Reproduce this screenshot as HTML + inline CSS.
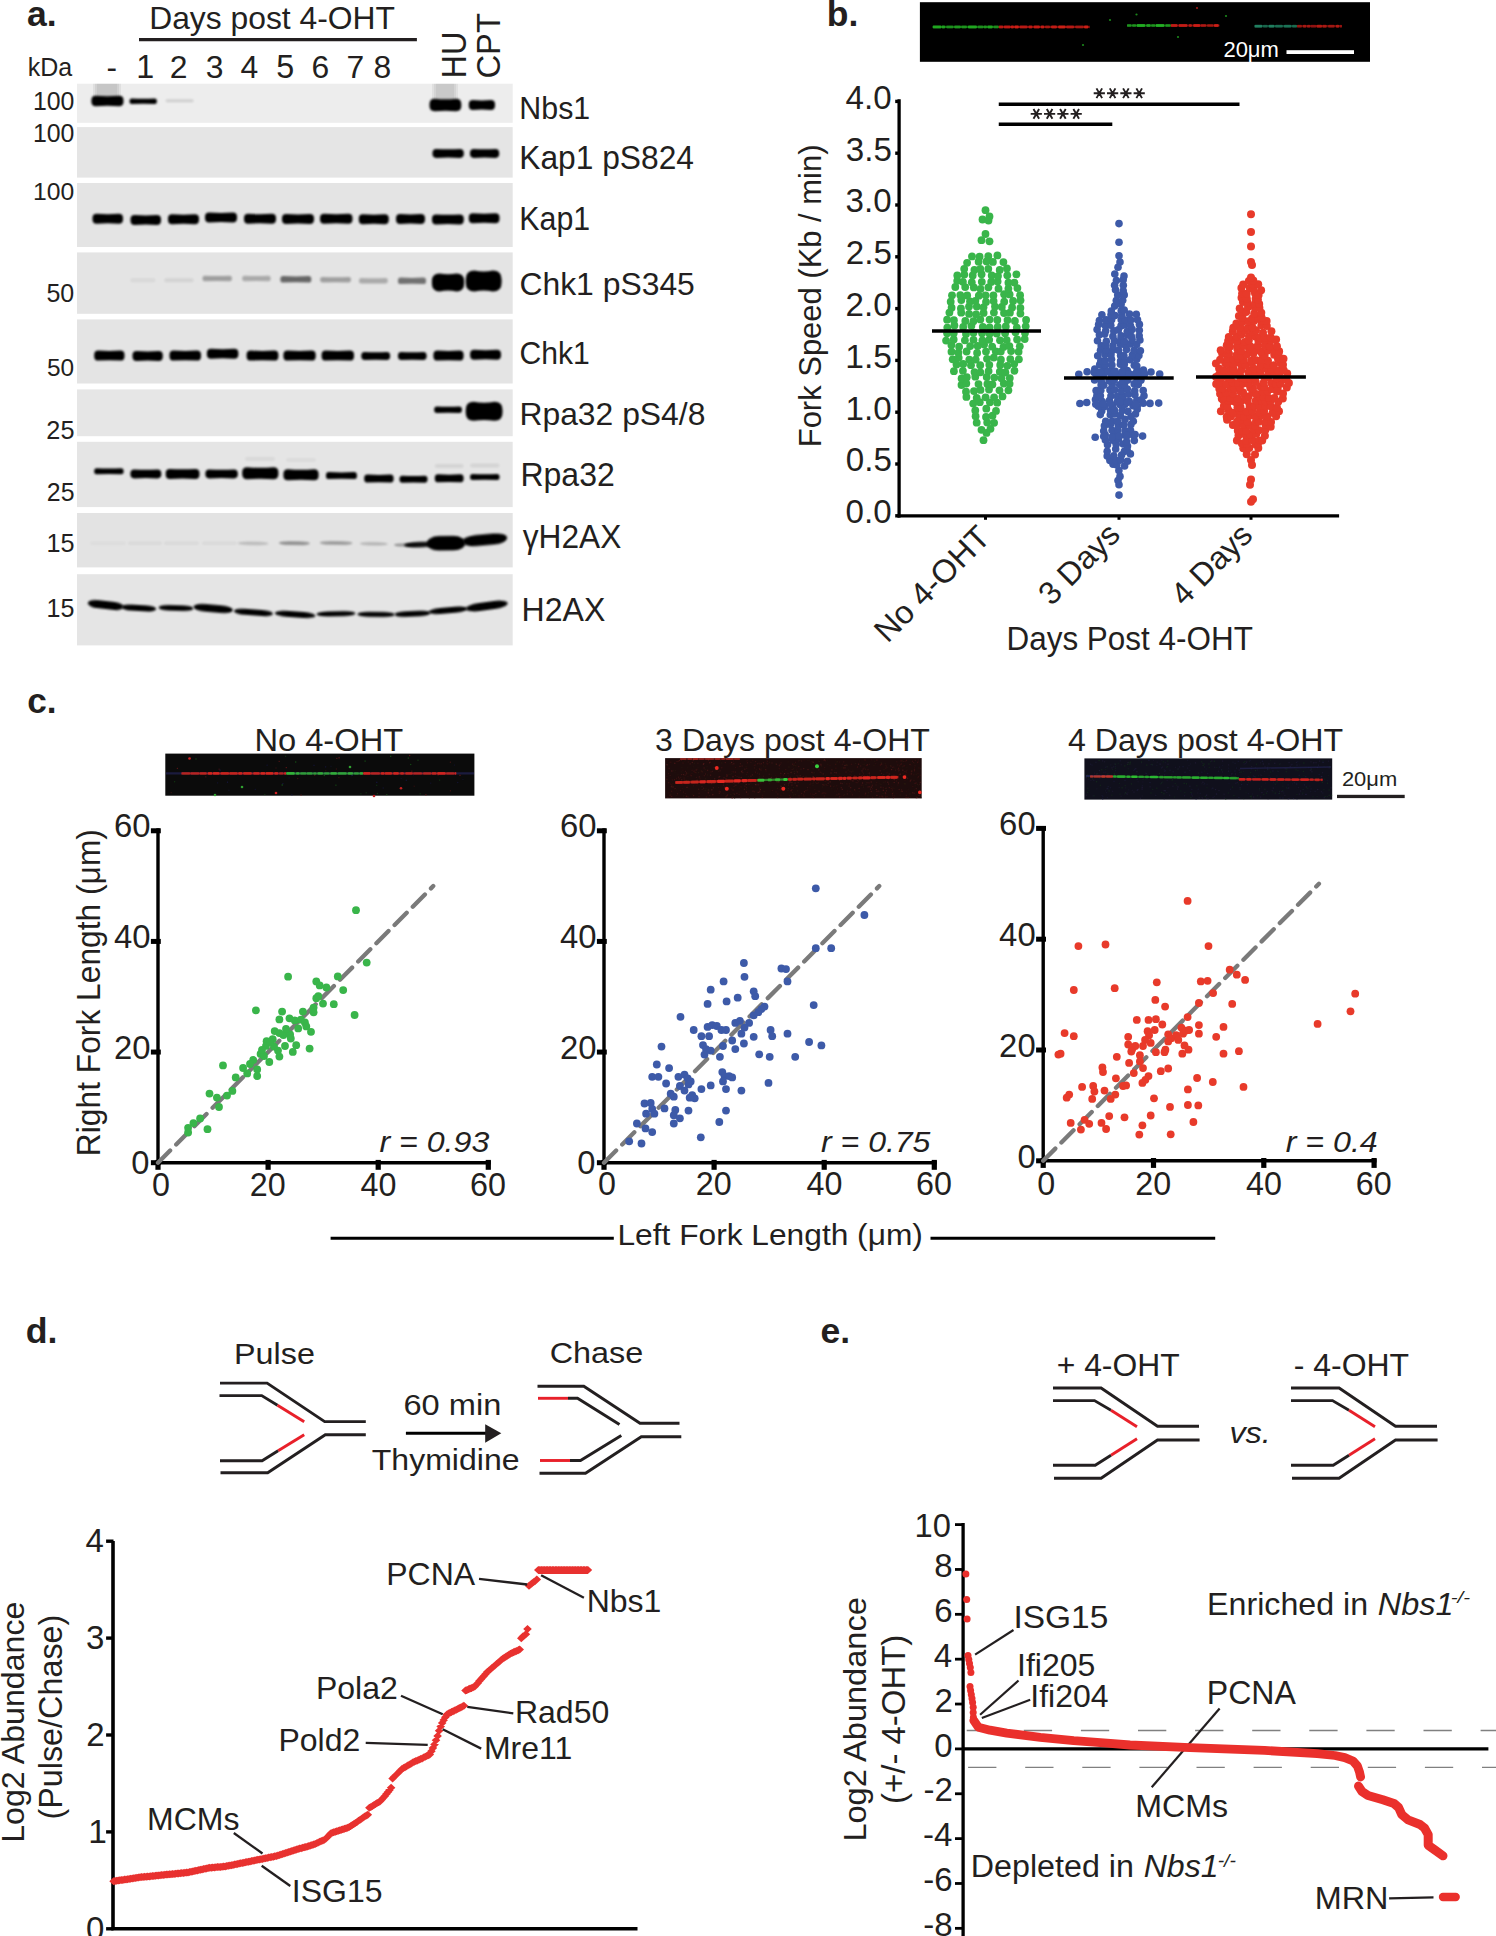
<!DOCTYPE html>
<html><head><meta charset="utf-8"><title>Figure</title>
<style>html,body{margin:0;padding:0;background:#fff;overflow:hidden;}svg{display:block;}
text{font-family:"Liberation Sans",sans-serif;}</style></head>
<body><svg width="1496" height="1936" viewBox="0 0 1496 1936">
<defs>
<filter id="bl1" x="-20%" y="-100%" width="140%" height="300%"><feGaussianBlur stdDeviation="0.85"/></filter>
<filter id="bl2" x="-20%" y="-100%" width="140%" height="300%"><feGaussianBlur stdDeviation="2"/></filter>
<filter id="bl3" x="-50%" y="-200%" width="200%" height="500%"><feGaussianBlur stdDeviation="3.5"/></filter>
<filter id="fl" x="-10%" y="-200%" width="120%" height="500%"><feGaussianBlur stdDeviation="0.7"/></filter>
</defs>
<rect width="1496" height="1936" fill="#fff"/>
<g fill="#231f20">
<text transform="translate(26.93,25.70) scale(0.9944,1)" font-size="35.74" font-weight="bold">a.</text>
<text transform="translate(149.15,29.20) scale(0.9908,1)" font-size="32.14">Days post 4-OHT</text>
<line x1="139.00" y1="39.70" x2="416.90" y2="39.70" stroke="#231f20" stroke-width="3.3" />
<text transform="translate(27.70,76.00) scale(0.9973,1)" font-size="25.07">kDa</text>
<text transform="translate(136.18,78.30)" font-size="32.32">1</text>
<text transform="translate(169.63,78.30)" font-size="31.86">2</text>
<text transform="translate(205.63,78.30)" font-size="31.86">3</text>
<text transform="translate(240.54,78.30)" font-size="31.86">4</text>
<text transform="translate(276.15,78.30)" font-size="32.32">5</text>
<text transform="translate(311.47,78.30)" font-size="31.86">6</text>
<text transform="translate(346.48,78.30)" font-size="31.86">7</text>
<text transform="translate(373.48,78.30)" font-size="31.86">8</text>
<text transform="translate(106.50,78.30)" font-size="31.50">-</text>
<text transform="translate(465.80,78.49) rotate(-90) scale(0.9434,1)" font-size="34.35">HU</text>
<text transform="translate(500.20,78.54) rotate(-90) scale(0.9672,1)" font-size="33.86">CPT</text>
<text transform="translate(32.88,109.80)" font-size="24.86">100</text>
<text transform="translate(32.88,142.40)" font-size="24.86">100</text>
<text transform="translate(33.12,200.00)" font-size="24.71">100</text>
<text transform="translate(46.40,301.70)" font-size="25.00">50</text>
<text transform="translate(47.02,375.70)" font-size="24.43">50</text>
<text transform="translate(46.34,438.70)" font-size="25.29">25</text>
<text transform="translate(46.80,500.70)" font-size="24.86">25</text>
<text transform="translate(46.42,551.70)" font-size="25.22">15</text>
<text transform="translate(46.57,616.80)" font-size="25.07">15</text>
<text transform="translate(519.37,118.80) scale(0.9637,1)" font-size="31.51">Nbs1</text>
<text transform="translate(519.26,168.90) scale(0.9788,1)" font-size="32.43">Kap1 pS824</text>
<text transform="translate(519.27,230.00) scale(0.9109,1)" font-size="33.33">Kap1</text>
<text transform="translate(519.40,295.00) scale(1.0081,1)" font-size="31.64">Chk1 pS345</text>
<text transform="translate(519.49,364.10) scale(0.9401,1)" font-size="32.05">Chk1</text>
<text transform="translate(519.45,425.20) scale(1.0110,1)" font-size="31.51">Rpa32 pS4/8</text>
<text transform="translate(520.44,486.40) scale(0.9746,1)" font-size="32.86">Rpa32</text>
<text transform="translate(522.80,547.60) scale(0.9468,1)" font-size="33.43">γH2AX</text>
<text transform="translate(521.53,620.90) scale(0.9677,1)" font-size="33.14">H2AX</text>
<rect x="77.00" y="83.70" width="435.70" height="39.10" fill="#ededed" />
<rect x="77.00" y="127.10" width="435.70" height="50.50" fill="#e5e5e5" />
<rect x="77.00" y="183.00" width="435.70" height="64.00" fill="#e4e4e4" />
<rect x="77.00" y="252.40" width="435.70" height="61.40" fill="#e4e4e4" />
<rect x="77.00" y="319.40" width="435.70" height="64.10" fill="#e4e4e4" />
<rect x="77.00" y="389.40" width="435.70" height="46.80" fill="#e6e6e6" />
<rect x="77.00" y="441.80" width="435.70" height="65.30" fill="#e5e5e5" />
<rect x="77.00" y="513.00" width="435.70" height="54.40" fill="#e3e3e3" />
<rect x="77.00" y="574.20" width="435.70" height="71.20" fill="#e5e5e5" />
<rect x="93.00" y="83.70" width="28.00" height="13.30" fill="#000" opacity="0.06"/>
<rect x="95.00" y="83.70" width="24.00" height="13.30" fill="#000" opacity="0.06"/>
<rect x="97.00" y="83.70" width="20.00" height="13.30" fill="#000" opacity="0.05"/>
<rect x="432.00" y="83.70" width="26.00" height="16.30" fill="#000" opacity="0.05"/>
<rect x="434.00" y="83.70" width="22.00" height="16.30" fill="#000" opacity="0.05"/>
<rect x="436.00" y="83.70" width="18.00" height="16.30" fill="#000" opacity="0.05"/>
<path d="M95.8,95.8 Q107.5,96.7 119.1,95.8 Q123.5,95.8 123.5,100.2 L123.5,101.8 Q123.5,106.2 119.1,106.2 Q107.5,105.3 95.8,106.2 Q91.4,106.2 91.4,101.8 L91.4,100.2 Q91.4,95.8 95.8,95.8 Z" fill="#000" opacity="1.000" filter="url(#bl1)"/>
<path d="M131.8,98.5 Q143.2,99.0 154.6,98.5 Q156.9,98.5 156.9,100.9 L156.9,101.7 Q156.9,104.0 154.6,104.0 Q143.2,103.6 131.8,104.0 Q129.5,104.0 129.5,101.7 L129.5,100.9 Q129.5,98.5 131.8,98.5 Z" fill="#000" opacity="1.000" filter="url(#bl1)"/>
<rect x="165.6" y="99.2" width="28.0" height="3.0" rx="1.5" fill="#000" opacity="0.120" filter="url(#bl1)"/>
<path d="M434.8,98.8 Q445.4,99.9 456.1,98.8 Q461.3,98.8 461.3,104.0 L461.3,106.0 Q461.3,111.2 456.1,111.2 Q445.4,110.1 434.8,111.2 Q429.5,111.2 429.5,106.0 L429.5,104.0 Q429.5,98.8 434.8,98.8 Z" fill="#000" opacity="1.000" filter="url(#bl1)"/>
<path d="M473.0,100.0 Q481.9,100.9 490.8,100.0 Q495.0,100.0 495.0,104.2 L495.0,105.8 Q495.0,110.0 490.8,110.0 Q481.9,109.1 473.0,110.0 Q468.8,110.0 468.8,105.8 L468.8,104.2 Q468.8,100.0 473.0,100.0 Z" fill="#000" opacity="1.000" filter="url(#bl1)"/>
<path d="M436.3,148.9 Q448.1,149.7 460.0,148.9 Q463.8,148.9 463.8,152.7 L463.8,154.1 Q463.8,157.9 460.0,157.9 Q448.1,157.1 436.3,157.9 Q432.5,157.9 432.5,154.1 L432.5,152.7 Q432.5,148.9 436.3,148.9 Z" fill="#000" opacity="1.000" filter="url(#bl1)"/>
<path d="M473.8,148.9 Q484.6,149.7 495.5,148.9 Q499.2,148.9 499.2,152.7 L499.2,154.1 Q499.2,157.9 495.5,157.9 Q484.6,157.1 473.8,157.9 Q470.0,157.9 470.0,154.1 L470.0,152.7 Q470.0,148.9 473.8,148.9 Z" fill="#000" opacity="1.000" filter="url(#bl1)"/>
<path d="M96.7,213.8 Q107.8,214.7 118.8,213.8 Q123.0,213.8 123.0,218.0 L123.0,219.6 Q123.0,223.8 118.8,223.8 Q107.8,222.9 96.7,223.8 Q92.5,223.8 92.5,219.6 L92.5,218.0 Q92.5,213.8 96.7,213.8 Z" fill="#000" opacity="1.000" filter="url(#bl1)"/>
<path d="M134.7,215.0 Q145.8,215.9 156.8,215.0 Q161.0,215.0 161.0,219.2 L161.0,220.8 Q161.0,225.0 156.8,225.0 Q145.8,224.1 134.7,225.0 Q130.5,225.0 130.5,220.8 L130.5,219.2 Q130.5,215.0 134.7,215.0 Z" fill="#000" opacity="1.000" filter="url(#bl1)"/>
<path d="M172.2,214.3 Q183.5,215.2 194.8,214.3 Q199.0,214.3 199.0,218.5 L199.0,220.1 Q199.0,224.3 194.8,224.3 Q183.5,223.4 172.2,224.3 Q168.0,224.3 168.0,220.1 L168.0,218.5 Q168.0,214.3 172.2,214.3 Z" fill="#000" opacity="1.000" filter="url(#bl1)"/>
<path d="M209.2,212.5 Q221.0,213.4 232.8,212.5 Q237.0,212.5 237.0,216.7 L237.0,218.3 Q237.0,222.5 232.8,222.5 Q221.0,221.6 209.2,222.5 Q205.0,222.5 205.0,218.3 L205.0,216.7 Q205.0,212.5 209.2,212.5 Z" fill="#000" opacity="1.000" filter="url(#bl1)"/>
<path d="M248.2,213.8 Q260.0,214.7 271.8,213.8 Q276.0,213.8 276.0,218.0 L276.0,219.6 Q276.0,223.8 271.8,223.8 Q260.0,222.9 248.2,223.8 Q244.0,223.8 244.0,219.6 L244.0,218.0 Q244.0,213.8 248.2,213.8 Z" fill="#000" opacity="1.000" filter="url(#bl1)"/>
<path d="M286.2,214.0 Q298.0,214.9 309.8,214.0 Q314.0,214.0 314.0,218.2 L314.0,219.8 Q314.0,224.0 309.8,224.0 Q298.0,223.1 286.2,224.0 Q282.0,224.0 282.0,219.8 L282.0,218.2 Q282.0,214.0 286.2,214.0 Z" fill="#000" opacity="1.000" filter="url(#bl1)"/>
<path d="M324.2,213.8 Q336.2,214.7 348.3,213.8 Q352.5,213.8 352.5,218.0 L352.5,219.6 Q352.5,223.8 348.3,223.8 Q336.2,222.9 324.2,223.8 Q320.0,223.8 320.0,219.6 L320.0,218.0 Q320.0,213.8 324.2,213.8 Z" fill="#000" opacity="1.000" filter="url(#bl1)"/>
<path d="M362.9,214.3 Q373.8,215.2 384.6,214.3 Q388.8,214.3 388.8,218.5 L388.8,220.1 Q388.8,224.3 384.6,224.3 Q373.8,223.4 362.9,224.3 Q358.8,224.3 358.8,220.1 L358.8,218.5 Q358.8,214.3 362.9,214.3 Z" fill="#000" opacity="1.000" filter="url(#bl1)"/>
<path d="M400.2,214.0 Q410.5,214.9 420.8,214.0 Q425.0,214.0 425.0,218.2 L425.0,219.8 Q425.0,224.0 420.8,224.0 Q410.5,223.1 400.2,224.0 Q396.0,224.0 396.0,219.8 L396.0,218.2 Q396.0,214.0 400.2,214.0 Z" fill="#000" opacity="1.000" filter="url(#bl1)"/>
<path d="M436.2,214.4 Q447.9,215.3 459.6,214.4 Q463.8,214.4 463.8,218.6 L463.8,220.2 Q463.8,224.4 459.6,224.4 Q447.9,223.5 436.2,224.4 Q432.0,224.4 432.0,220.2 L432.0,218.6 Q432.0,214.4 436.2,214.4 Z" fill="#000" opacity="1.000" filter="url(#bl1)"/>
<path d="M472.9,213.3 Q484.1,214.2 495.3,213.3 Q499.5,213.3 499.5,217.5 L499.5,219.1 Q499.5,223.3 495.3,223.3 Q484.1,222.4 472.9,223.3 Q468.8,223.3 468.8,219.1 L468.8,217.5 Q468.8,213.3 472.9,213.3 Z" fill="#000" opacity="1.000" filter="url(#bl1)"/>
<rect x="130.4" y="278.3" width="25.0" height="4.0" rx="2.0" fill="#000" opacity="0.050" filter="url(#bl1)"/>
<rect x="164.2" y="278.3" width="29.4" height="4.0" rx="2.0" fill="#000" opacity="0.070" filter="url(#bl1)"/>
<path d="M204.8,275.8 Q217.2,276.2 229.6,275.8 Q231.9,275.8 231.9,278.1 L231.9,278.9 Q231.9,281.2 229.6,281.2 Q217.2,280.8 204.8,281.2 Q202.5,281.2 202.5,278.9 L202.5,278.1 Q202.5,275.8 204.8,275.8 Z" fill="#000" opacity="0.300" filter="url(#bl1)"/>
<path d="M244.5,275.8 Q256.4,276.2 268.4,275.8 Q270.7,275.8 270.7,278.1 L270.7,278.9 Q270.7,281.2 268.4,281.2 Q256.4,280.8 244.5,281.2 Q242.2,281.2 242.2,278.9 L242.2,278.1 Q242.2,275.8 244.5,275.8 Z" fill="#000" opacity="0.250" filter="url(#bl1)"/>
<path d="M283.1,276.1 Q295.9,276.7 308.6,276.1 Q311.3,276.1 311.3,278.9 L311.3,279.9 Q311.3,282.6 308.6,282.6 Q295.9,282.1 283.1,282.6 Q280.4,282.6 280.4,279.9 L280.4,278.9 Q280.4,276.1 283.1,276.1 Z" fill="#000" opacity="0.550" filter="url(#bl1)"/>
<path d="M322.4,276.9 Q335.6,277.4 348.7,276.9 Q351.0,276.9 351.0,279.3 L351.0,280.1 Q351.0,282.4 348.7,282.4 Q335.6,282.0 322.4,282.4 Q320.1,282.4 320.1,280.1 L320.1,279.3 Q320.1,276.9 322.4,276.9 Z" fill="#000" opacity="0.300" filter="url(#bl1)"/>
<path d="M361.3,278.1 Q373.4,278.6 385.5,278.1 Q387.8,278.1 387.8,280.5 L387.8,281.3 Q387.8,283.6 385.5,283.6 Q373.4,283.2 361.3,283.6 Q359.0,283.6 359.0,281.3 L359.0,280.5 Q359.0,278.1 361.3,278.1 Z" fill="#000" opacity="0.250" filter="url(#bl1)"/>
<path d="M400.7,277.6 Q412.0,278.2 423.3,277.6 Q426.0,277.6 426.0,280.4 L426.0,281.4 Q426.0,284.1 423.3,284.1 Q412.0,283.6 400.7,284.1 Q398.0,284.1 398.0,281.4 L398.0,280.4 Q398.0,277.6 400.7,277.6 Z" fill="#000" opacity="0.500" filter="url(#bl1)"/>
<path d="M439.5,273.4 Q448.0,275.0 456.6,273.4 Q464.2,273.4 464.2,281.0 L464.2,283.8 Q464.2,291.4 456.6,291.4 Q448.0,289.8 439.5,291.4 Q431.9,291.4 431.9,283.8 L431.9,281.0 Q431.9,273.4 439.5,273.4 Z" fill="#000" opacity="1.000" filter="url(#bl1)"/>
<path d="M474.5,270.5 Q483.6,272.4 492.8,270.5 Q501.6,270.5 501.6,279.3 L501.6,282.7 Q501.6,291.5 492.8,291.5 Q483.6,289.6 474.5,291.5 Q465.7,291.5 465.7,282.7 L465.7,279.3 Q465.7,270.5 474.5,270.5 Z" fill="#000" opacity="1.000" filter="url(#bl1)"/>
<path d="M98.4,350.6 Q109.3,351.5 120.3,350.6 Q124.5,350.6 124.5,354.8 L124.5,356.4 Q124.5,360.6 120.3,360.6 Q109.3,359.7 98.4,360.6 Q94.2,360.6 94.2,356.4 L94.2,354.8 Q94.2,350.6 98.4,350.6 Z" fill="#000" opacity="1.000" filter="url(#bl1)"/>
<path d="M136.7,351.0 Q147.7,351.9 158.6,351.0 Q162.8,351.0 162.8,355.2 L162.8,356.8 Q162.8,361.0 158.6,361.0 Q147.7,360.1 136.7,361.0 Q132.5,361.0 132.5,356.8 L132.5,355.2 Q132.5,351.0 136.7,351.0 Z" fill="#000" opacity="1.000" filter="url(#bl1)"/>
<path d="M173.7,350.6 Q185.2,351.5 196.8,350.6 Q201.0,350.6 201.0,354.8 L201.0,356.4 Q201.0,360.6 196.8,360.6 Q185.2,359.7 173.7,360.6 Q169.5,360.6 169.5,356.4 L169.5,354.8 Q169.5,350.6 173.7,350.6 Z" fill="#000" opacity="1.000" filter="url(#bl1)"/>
<path d="M211.1,348.8 Q222.7,349.7 234.2,348.8 Q238.4,348.8 238.4,353.0 L238.4,354.6 Q238.4,358.8 234.2,358.8 Q222.7,357.9 211.1,358.8 Q206.9,358.8 206.9,354.6 L206.9,353.0 Q206.9,348.8 211.1,348.8 Z" fill="#000" opacity="1.000" filter="url(#bl1)"/>
<path d="M250.8,350.6 Q262.5,351.5 274.2,350.6 Q278.4,350.6 278.4,354.8 L278.4,356.4 Q278.4,360.6 274.2,360.6 Q262.5,359.7 250.8,360.6 Q246.6,360.6 246.6,356.4 L246.6,354.8 Q246.6,350.6 250.8,350.6 Z" fill="#000" opacity="1.000" filter="url(#bl1)"/>
<path d="M287.6,350.6 Q299.5,351.5 311.5,350.6 Q315.7,350.6 315.7,354.8 L315.7,356.4 Q315.7,360.6 311.5,360.6 Q299.5,359.7 287.6,360.6 Q283.4,360.6 283.4,356.4 L283.4,354.8 Q283.4,350.6 287.6,350.6 Z" fill="#000" opacity="1.000" filter="url(#bl1)"/>
<path d="M325.8,350.6 Q337.8,351.5 349.8,350.6 Q354.0,350.6 354.0,354.8 L354.0,356.4 Q354.0,360.6 349.8,360.6 Q337.8,359.7 325.8,360.6 Q321.6,360.6 321.6,356.4 L321.6,354.8 Q321.6,350.6 325.8,350.6 Z" fill="#000" opacity="1.000" filter="url(#bl1)"/>
<path d="M364.7,352.0 Q375.7,352.7 386.7,352.0 Q390.1,352.0 390.1,355.4 L390.1,356.6 Q390.1,360.0 386.7,360.0 Q375.7,359.3 364.7,360.0 Q361.3,360.0 361.3,356.6 L361.3,355.4 Q361.3,352.0 364.7,352.0 Z" fill="#000" opacity="1.000" filter="url(#bl1)"/>
<path d="M401.4,352.0 Q412.3,352.7 423.2,352.0 Q426.6,352.0 426.6,355.4 L426.6,356.6 Q426.6,360.0 423.2,360.0 Q412.3,359.3 401.4,360.0 Q398.0,360.0 398.0,356.6 L398.0,355.4 Q398.0,352.0 401.4,352.0 Z" fill="#000" opacity="1.000" filter="url(#bl1)"/>
<path d="M437.6,350.6 Q448.5,351.5 459.4,350.6 Q463.6,350.6 463.6,354.8 L463.6,356.4 Q463.6,360.6 459.4,360.6 Q448.5,359.7 437.6,360.6 Q433.4,360.6 433.4,356.4 L433.4,354.8 Q433.4,350.6 437.6,350.6 Z" fill="#000" opacity="1.000" filter="url(#bl1)"/>
<path d="M474.3,349.8 Q485.6,350.7 496.8,349.8 Q501.0,349.8 501.0,354.0 L501.0,355.6 Q501.0,359.8 496.8,359.8 Q485.6,358.9 474.3,359.8 Q470.1,359.8 470.1,355.6 L470.1,354.0 Q470.1,349.8 474.3,349.8 Z" fill="#000" opacity="1.000" filter="url(#bl1)"/>
<path d="M436.9,406.4 Q448.0,407.0 459.2,406.4 Q461.9,406.4 461.9,409.2 L461.9,410.2 Q461.9,412.9 459.2,412.9 Q448.0,412.4 436.9,412.9 Q434.2,412.9 434.2,410.2 L434.2,409.2 Q434.2,406.4 436.9,406.4 Z" fill="#000" opacity="1.000" filter="url(#bl1)"/>
<path d="M473.7,401.8 Q484.1,403.5 494.5,401.8 Q502.5,401.8 502.5,409.8 L502.5,412.8 Q502.5,420.8 494.5,420.8 Q484.1,419.1 473.7,420.8 Q465.7,420.8 465.7,412.8 L465.7,409.8 Q465.7,401.8 473.7,401.8 Z" fill="#000" opacity="1.000" filter="url(#bl1)"/>
<rect x="434.8" y="464.0" width="28.8" height="4.0" rx="2.0" fill="#000" opacity="0.070" filter="url(#bl1)"/>
<rect x="470.1" y="463.5" width="29.4" height="4.0" rx="2.0" fill="#000" opacity="0.070" filter="url(#bl1)"/>
<rect x="245.0" y="457.0" width="30.0" height="4.0" rx="2.0" fill="#000" opacity="0.050" filter="url(#bl1)"/>
<rect x="286.0" y="458.0" width="30.0" height="4.0" rx="2.0" fill="#000" opacity="0.040" filter="url(#bl1)"/>
<path d="M96.7,468.2 Q108.9,468.7 121.1,468.2 Q123.6,468.2 123.6,470.7 L123.6,471.7 Q123.6,474.2 121.1,474.2 Q108.9,473.7 96.7,474.2 Q94.2,474.2 94.2,471.7 L94.2,470.7 Q94.2,468.2 96.7,468.2 Z" fill="#000" opacity="1.000" filter="url(#bl1)"/>
<path d="M134.2,469.4 Q145.9,470.2 157.5,469.4 Q161.3,469.4 161.3,473.2 L161.3,474.6 Q161.3,478.4 157.5,478.4 Q145.9,477.6 134.2,478.4 Q130.4,478.4 130.4,474.6 L130.4,473.2 Q130.4,469.4 134.2,469.4 Z" fill="#000" opacity="1.000" filter="url(#bl1)"/>
<path d="M169.9,468.9 Q182.6,469.8 195.3,468.9 Q199.5,468.9 199.5,473.1 L199.5,474.7 Q199.5,478.9 195.3,478.9 Q182.6,478.0 169.9,478.9 Q165.7,478.9 165.7,474.7 L165.7,473.1 Q165.7,468.9 169.9,468.9 Z" fill="#000" opacity="1.000" filter="url(#bl1)"/>
<path d="M209.2,469.4 Q221.6,470.2 234.0,469.4 Q237.8,469.4 237.8,473.2 L237.8,474.6 Q237.8,478.4 234.0,478.4 Q221.6,477.6 209.2,478.4 Q205.4,478.4 205.4,474.6 L205.4,473.2 Q205.4,469.4 209.2,469.4 Z" fill="#000" opacity="1.000" filter="url(#bl1)"/>
<path d="M247.2,467.3 Q260.3,468.4 273.4,467.3 Q278.4,467.3 278.4,472.3 L278.4,474.3 Q278.4,479.3 273.4,479.3 Q260.3,478.2 247.2,479.3 Q242.2,479.3 242.2,474.3 L242.2,472.3 Q242.2,467.3 247.2,467.3 Z" fill="#000" opacity="1.000" filter="url(#bl1)"/>
<path d="M288.0,469.3 Q301.0,470.3 314.0,469.3 Q318.6,469.3 318.6,473.9 L318.6,475.7 Q318.6,480.3 314.0,480.3 Q301.0,479.3 288.0,480.3 Q283.4,480.3 283.4,475.7 L283.4,473.9 Q283.4,469.3 288.0,469.3 Z" fill="#000" opacity="1.000" filter="url(#bl1)"/>
<path d="M328.9,472.1 Q341.4,472.7 354.0,472.1 Q356.9,472.1 356.9,475.0 L356.9,476.2 Q356.9,479.1 354.0,479.1 Q341.4,478.5 328.9,479.1 Q326.0,479.1 326.0,476.2 L326.0,475.0 Q326.0,472.1 328.9,472.1 Z" fill="#000" opacity="1.000" filter="url(#bl1)"/>
<path d="M367.6,474.6 Q378.9,475.3 390.2,474.6 Q393.6,474.6 393.6,478.0 L393.6,479.2 Q393.6,482.6 390.2,482.6 Q378.9,481.9 367.6,482.6 Q364.2,482.6 364.2,479.2 L364.2,478.0 Q364.2,474.6 367.6,474.6 Z" fill="#000" opacity="1.000" filter="url(#bl1)"/>
<path d="M402.4,475.7 Q413.5,476.3 424.6,475.7 Q427.5,475.7 427.5,478.6 L427.5,479.8 Q427.5,482.7 424.6,482.7 Q413.5,482.1 402.4,482.7 Q399.5,482.7 399.5,479.8 L399.5,478.6 Q399.5,475.7 402.4,475.7 Z" fill="#000" opacity="1.000" filter="url(#bl1)"/>
<path d="M438.2,474.3 Q449.2,475.0 460.2,474.3 Q463.6,474.3 463.6,477.7 L463.6,478.9 Q463.6,482.3 460.2,482.3 Q449.2,481.6 438.2,482.3 Q434.8,482.3 434.8,478.9 L434.8,477.7 Q434.8,474.3 438.2,474.3 Z" fill="#000" opacity="1.000" filter="url(#bl1)"/>
<path d="M472.6,474.1 Q484.8,474.6 497.0,474.1 Q499.5,474.1 499.5,476.6 L499.5,477.6 Q499.5,480.1 497.0,480.1 Q484.8,479.6 472.6,480.1 Q470.1,480.1 470.1,477.6 L470.1,476.6 Q470.1,474.1 472.6,474.1 Z" fill="#000" opacity="1.000" filter="url(#bl1)"/>
<rect x="90.0" y="541.3" width="36.0" height="4.0" rx="2.0" fill="#000" opacity="0.025" filter="url(#bl1)"/>
<rect x="128.0" y="541.5" width="34.0" height="3.5" rx="1.8" fill="#000" opacity="0.040" filter="url(#bl1)"/>
<rect x="164.0" y="541.5" width="35.0" height="3.5" rx="1.8" fill="#000" opacity="0.040" filter="url(#bl1)"/>
<rect x="202.0" y="541.5" width="35.0" height="3.5" rx="1.8" fill="#000" opacity="0.040" filter="url(#bl1)"/>
<rect x="-15.4" y="-1.5" width="30.8" height="3.0" rx="9.9" ry="1.5" fill="#000" opacity="0.200" transform="translate(253.2,543.4) rotate(0.74)" filter="url(#bl1)"/>
<rect x="-15.4" y="-1.8" width="30.8" height="3.6" rx="9.9" ry="1.8" fill="#000" opacity="0.380" transform="translate(294.4,543.2) rotate(0.74)" filter="url(#bl1)"/>
<rect x="-16.3" y="-1.8" width="32.5" height="3.6" rx="10.4" ry="1.8" fill="#000" opacity="0.320" transform="translate(336.2,543.0) rotate(0.71)" filter="url(#bl1)"/>
<rect x="-14.0" y="-1.5" width="28.0" height="3.0" rx="9.0" ry="1.5" fill="#000" opacity="0.220" transform="translate(373.8,543.8) rotate(0.82)" filter="url(#bl1)"/>
<rect x="-12.0" y="-1.6" width="24.0" height="3.2" rx="9.6" ry="1.6" fill="#000" opacity="0.350" transform="translate(406.0,544.9) rotate(-0.48)" filter="url(#bl1)"/>
<rect x="-16.0" y="-2.8" width="32.0" height="5.5" rx="14.4" ry="2.8" fill="#000" opacity="0.950" transform="translate(420.0,544.6) rotate(-2.15)" filter="url(#bl1)"/>
<rect x="-19.3" y="-7.2" width="38.5" height="14.5" rx="11.6" ry="7.2" fill="#000" opacity="1.000" transform="translate(446.2,543.2) rotate(-0.60)" filter="url(#bl1)"/>
<rect x="-22.3" y="-5.5" width="44.7" height="11.0" rx="13.4" ry="5.5" fill="#000" opacity="1.000" transform="translate(484.8,539.8) rotate(-5.14)" filter="url(#bl1)"/>
<rect x="-18.0" y="-4.1" width="35.9" height="8.2" rx="10.8" ry="4.1" fill="#000" opacity="1.000" transform="translate(105.7,605.0) rotate(6.39)" filter="url(#bl1)"/>
<rect x="-17.3" y="-3.1" width="34.6" height="6.2" rx="10.4" ry="3.1" fill="#000" opacity="1.000" transform="translate(138.8,608.0) rotate(3.32)" filter="url(#bl1)"/>
<rect x="-17.5" y="-2.8" width="35.0" height="5.6" rx="10.5" ry="2.8" fill="#000" opacity="1.000" transform="translate(176.0,608.0) rotate(1.64)" filter="url(#bl1)"/>
<rect x="-19.8" y="-3.8" width="39.6" height="7.6" rx="11.9" ry="3.8" fill="#000" opacity="1.000" transform="translate(213.2,608.5) rotate(4.92)" filter="url(#bl1)"/>
<rect x="-19.6" y="-3.1" width="39.1" height="6.2" rx="11.7" ry="3.1" fill="#000" opacity="1.000" transform="translate(253.5,612.4) rotate(4.11)" filter="url(#bl1)"/>
<rect x="-20.3" y="-3.0" width="40.6" height="6.0" rx="12.2" ry="3.0" fill="#000" opacity="1.000" transform="translate(295.2,614.4) rotate(3.95)" filter="url(#bl1)"/>
<rect x="-19.5" y="-2.6" width="39.0" height="5.2" rx="11.7" ry="2.6" fill="#000" opacity="1.000" transform="translate(336.0,613.8) rotate(-1.18)" filter="url(#bl1)"/>
<rect x="-18.8" y="-2.6" width="37.5" height="5.2" rx="11.3" ry="2.6" fill="#000" opacity="1.000" transform="translate(376.2,614.4) rotate(0.61)" filter="url(#bl1)"/>
<rect x="-18.0" y="-2.7" width="36.0" height="5.4" rx="10.8" ry="2.7" fill="#000" opacity="1.000" transform="translate(412.5,613.8) rotate(-2.54)" filter="url(#bl1)"/>
<rect x="-19.8" y="-2.9" width="39.6" height="5.8" rx="11.9" ry="2.9" fill="#000" opacity="1.000" transform="translate(448.2,610.3) rotate(-4.92)" filter="url(#bl1)"/>
<rect x="-20.9" y="-4.0" width="41.9" height="8.0" rx="12.6" ry="4.0" fill="#000" opacity="1.000" transform="translate(486.8,606.0) rotate(-7.69)" filter="url(#bl1)"/>
<text transform="translate(826.87,25.70)" font-size="35.50" font-weight="bold">b.</text>
<rect x="919.90" y="2.20" width="450.10" height="59.60" fill="#000" />
<g filter="url(#fl)"><line x1="932.7" y1="26.9" x2="998.8" y2="26.9" stroke="#27c027" stroke-width="2.2" opacity="0.48"/><rect x="932.7" y="25.4" width="8.7" height="3.0" rx="1" fill="#27c027" opacity="0.74"/><rect x="941.7" y="25.4" width="3.5" height="3.0" rx="1" fill="#27c027" opacity="0.70"/><rect x="946.3" y="25.4" width="7.0" height="3.0" rx="1" fill="#27c027" opacity="0.51"/><rect x="954.2" y="25.4" width="6.6" height="3.0" rx="1" fill="#27c027" opacity="0.61"/><rect x="961.3" y="25.4" width="5.6" height="3.0" rx="1" fill="#27c027" opacity="0.54"/><rect x="967.9" y="25.4" width="9.0" height="3.0" rx="1" fill="#27c027" opacity="0.74"/><rect x="977.7" y="25.4" width="5.7" height="3.0" rx="1" fill="#27c027" opacity="0.50"/><rect x="983.7" y="25.4" width="3.2" height="3.0" rx="1" fill="#27c027" opacity="0.57"/><rect x="987.4" y="25.4" width="5.3" height="3.0" rx="1" fill="#27c027" opacity="0.72"/><rect x="993.5" y="25.4" width="5.3" height="3.0" rx="1" fill="#27c027" opacity="0.49"/></g>
<g filter="url(#fl)"><line x1="998.8" y1="26.9" x2="1089.5" y2="26.9" stroke="#e4221a" stroke-width="2.2" opacity="0.51"/><rect x="998.8" y="25.4" width="4.4" height="3.0" rx="1" fill="#e4221a" opacity="0.63"/><rect x="1003.9" y="25.4" width="6.6" height="3.0" rx="1" fill="#e4221a" opacity="0.66"/><rect x="1010.8" y="25.4" width="3.1" height="3.0" rx="1" fill="#e4221a" opacity="0.75"/><rect x="1014.4" y="25.4" width="4.4" height="3.0" rx="1" fill="#e4221a" opacity="0.81"/><rect x="1019.5" y="25.4" width="8.0" height="3.0" rx="1" fill="#e4221a" opacity="0.61"/><rect x="1028.5" y="25.4" width="3.9" height="3.0" rx="1" fill="#e4221a" opacity="0.67"/><rect x="1033.7" y="25.4" width="6.1" height="3.0" rx="1" fill="#e4221a" opacity="0.71"/><rect x="1040.8" y="25.4" width="3.4" height="3.0" rx="1" fill="#e4221a" opacity="0.72"/><rect x="1045.1" y="25.4" width="4.8" height="3.0" rx="1" fill="#e4221a" opacity="0.44"/><rect x="1051.1" y="25.4" width="5.8" height="3.0" rx="1" fill="#e4221a" opacity="0.70"/><rect x="1058.2" y="25.4" width="7.3" height="3.0" rx="1" fill="#e4221a" opacity="0.78"/><rect x="1066.2" y="25.4" width="7.8" height="3.0" rx="1" fill="#e4221a" opacity="0.60"/><rect x="1075.3" y="25.4" width="8.3" height="3.0" rx="1" fill="#e4221a" opacity="0.46"/><rect x="1084.0" y="25.4" width="4.3" height="3.0" rx="1" fill="#e4221a" opacity="0.79"/><rect x="1089.0" y="25.4" width="0.5" height="3.0" rx="1" fill="#e4221a" opacity="0.54"/></g>
<g filter="url(#fl)"><line x1="1127.0" y1="25.5" x2="1170.8" y2="25.5" stroke="#27c027" stroke-width="2.2" opacity="0.54"/><rect x="1127.0" y="24.0" width="4.4" height="3.0" rx="1" fill="#27c027" opacity="0.49"/><rect x="1132.1" y="24.0" width="3.9" height="3.0" rx="1" fill="#27c027" opacity="0.48"/><rect x="1136.7" y="24.0" width="8.5" height="3.0" rx="1" fill="#27c027" opacity="0.77"/><rect x="1146.3" y="24.0" width="4.3" height="3.0" rx="1" fill="#27c027" opacity="0.67"/><rect x="1151.2" y="24.0" width="4.0" height="3.0" rx="1" fill="#27c027" opacity="0.49"/><rect x="1155.7" y="24.0" width="8.6" height="3.0" rx="1" fill="#27c027" opacity="0.79"/><rect x="1165.4" y="24.0" width="5.4" height="3.0" rx="1" fill="#27c027" opacity="0.53"/></g>
<g filter="url(#fl)"><line x1="1170.8" y1="25.5" x2="1219.5" y2="25.5" stroke="#e4221a" stroke-width="2.2" opacity="0.51"/><rect x="1170.8" y="24.0" width="6.7" height="3.0" rx="1" fill="#e4221a" opacity="0.71"/><rect x="1178.7" y="24.0" width="8.7" height="3.0" rx="1" fill="#e4221a" opacity="0.71"/><rect x="1188.7" y="24.0" width="3.2" height="3.0" rx="1" fill="#e4221a" opacity="0.60"/><rect x="1193.2" y="24.0" width="6.9" height="3.0" rx="1" fill="#e4221a" opacity="0.77"/><rect x="1200.4" y="24.0" width="5.8" height="3.0" rx="1" fill="#e4221a" opacity="0.52"/><rect x="1207.1" y="24.0" width="6.4" height="3.0" rx="1" fill="#e4221a" opacity="0.43"/><rect x="1214.0" y="24.0" width="4.7" height="3.0" rx="1" fill="#e4221a" opacity="0.78"/></g>
<g filter="url(#fl)"><line x1="1254.5" y1="26.2" x2="1297.0" y2="26.2" stroke="#2fb88a" stroke-width="2.2" opacity="0.36"/><rect x="1254.5" y="24.7" width="7.8" height="3.0" rx="1" fill="#2fb88a" opacity="0.52"/><rect x="1263.0" y="24.7" width="4.6" height="3.0" rx="1" fill="#2fb88a" opacity="0.30"/><rect x="1268.6" y="24.7" width="5.8" height="3.0" rx="1" fill="#2fb88a" opacity="0.51"/><rect x="1275.1" y="24.7" width="7.6" height="3.0" rx="1" fill="#2fb88a" opacity="0.37"/><rect x="1283.9" y="24.7" width="7.4" height="3.0" rx="1" fill="#2fb88a" opacity="0.41"/><rect x="1292.1" y="24.7" width="4.9" height="3.0" rx="1" fill="#2fb88a" opacity="0.35"/></g>
<g filter="url(#fl)"><line x1="1297.0" y1="26.2" x2="1342.0" y2="26.2" stroke="#e4221a" stroke-width="2.2" opacity="0.42"/><rect x="1297.0" y="24.7" width="4.9" height="3.0" rx="1" fill="#e4221a" opacity="0.40"/><rect x="1302.9" y="24.7" width="3.4" height="3.0" rx="1" fill="#e4221a" opacity="0.52"/><rect x="1307.0" y="24.7" width="3.3" height="3.0" rx="1" fill="#e4221a" opacity="0.51"/><rect x="1310.6" y="24.7" width="5.6" height="3.0" rx="1" fill="#e4221a" opacity="0.37"/><rect x="1316.5" y="24.7" width="5.5" height="3.0" rx="1" fill="#e4221a" opacity="0.61"/><rect x="1322.4" y="24.7" width="4.3" height="3.0" rx="1" fill="#e4221a" opacity="0.55"/><rect x="1328.1" y="24.7" width="6.5" height="3.0" rx="1" fill="#e4221a" opacity="0.47"/><rect x="1335.9" y="24.7" width="3.3" height="3.0" rx="1" fill="#e4221a" opacity="0.62"/><rect x="1339.7" y="24.7" width="2.3" height="3.0" rx="1" fill="#e4221a" opacity="0.39"/></g>
<circle cx="1136.5" cy="14.5" r="1.1" fill="#27c027" opacity="0.7"/>
<circle cx="1083" cy="45" r="1.1" fill="#27c027" opacity="0.7"/>
<circle cx="1226" cy="16" r="1.1" fill="#27c027" opacity="0.7"/>
<circle cx="1197" cy="8" r="1.1" fill="#e4221a" opacity="0.7"/>
<circle cx="1178" cy="37" r="1.1" fill="#27c027" opacity="0.7"/>
<circle cx="1110" cy="20" r="1.1" fill="#27c027" opacity="0.7"/>
<rect x="1286.50" y="50.20" width="67.50" height="3.80" fill="#fff" />
<text transform="translate(1223.40,57.00) scale(0.9805,1)" font-size="22.43" fill="#fff">20μm</text>
<line x1="899.10" y1="99.20" x2="899.10" y2="517.50" stroke="#000" stroke-width="3.3" />
<line x1="897.50" y1="515.90" x2="1339.10" y2="515.90" stroke="#000" stroke-width="3.3" />
<line x1="895.20" y1="515.80" x2="899.50" y2="515.80" stroke="#000" stroke-width="3.4" />
<text transform="translate(845.53,523.10)" font-size="33.14">0.0</text>
<line x1="895.20" y1="464.00" x2="899.50" y2="464.00" stroke="#000" stroke-width="3.4" />
<text transform="translate(845.86,471.30)" font-size="33.14">0.5</text>
<line x1="895.20" y1="412.20" x2="899.50" y2="412.20" stroke="#000" stroke-width="3.4" />
<text transform="translate(845.53,419.50)" font-size="33.14">1.0</text>
<line x1="895.20" y1="360.40" x2="899.50" y2="360.40" stroke="#000" stroke-width="3.4" />
<text transform="translate(845.21,367.70)" font-size="33.62">1.5</text>
<line x1="895.20" y1="308.60" x2="899.50" y2="308.60" stroke="#000" stroke-width="3.4" />
<text transform="translate(845.53,315.90)" font-size="33.14">2.0</text>
<line x1="895.20" y1="256.80" x2="899.50" y2="256.80" stroke="#000" stroke-width="3.4" />
<text transform="translate(845.86,264.10)" font-size="33.14">2.5</text>
<line x1="895.20" y1="205.00" x2="899.50" y2="205.00" stroke="#000" stroke-width="3.4" />
<text transform="translate(845.53,212.30)" font-size="33.14">3.0</text>
<line x1="895.20" y1="153.20" x2="899.50" y2="153.20" stroke="#000" stroke-width="3.4" />
<text transform="translate(845.86,160.50)" font-size="33.14">3.5</text>
<line x1="895.20" y1="101.40" x2="899.50" y2="101.40" stroke="#000" stroke-width="3.4" />
<text transform="translate(845.53,108.70)" font-size="33.14">4.0</text>
<line x1="985.50" y1="515.90" x2="985.50" y2="519.80" stroke="#000" stroke-width="3.0" />
<line x1="1119.00" y1="515.90" x2="1119.00" y2="519.80" stroke="#000" stroke-width="3.0" />
<line x1="1251.00" y1="515.90" x2="1251.00" y2="519.80" stroke="#000" stroke-width="3.0" />
<text transform="translate(821.20,447.28) rotate(-90) scale(0.9663,1)" font-size="32.05">Fork Speed (Kb / min)</text>
<text transform="translate(1006.48,649.80) scale(0.9571,1)" font-size="32.86">Days Post 4-OHT</text>
<text transform="translate(992.10,539.20) rotate(-45)" font-size="32.5" text-anchor="end">No 4-OHT</text>
<text transform="translate(1121.90,536.40) rotate(-45)" font-size="32.0" text-anchor="end">3 Days</text>
<text transform="translate(1254.40,536.90) rotate(-45)" font-size="32.0" text-anchor="end">4 Days</text>
<line x1="998.75" y1="104.30" x2="1239.50" y2="104.30" stroke="#000" stroke-width="3.6" />
<line x1="998.75" y1="124.20" x2="1112.30" y2="124.20" stroke="#000" stroke-width="3.4" />
<path d="M1030.70,113.90L1041.90,113.90M1033.50,109.05L1039.10,118.75M1039.10,109.05L1033.50,118.75M1044.00,113.90L1055.20,113.90M1046.80,109.05L1052.40,118.75M1052.40,109.05L1046.80,118.75M1057.30,113.90L1068.50,113.90M1060.10,109.05L1065.70,118.75M1065.70,109.05L1060.10,118.75M1070.60,113.90L1081.80,113.90M1073.40,109.05L1079.00,118.75M1079.00,109.05L1073.40,118.75" stroke="#231f20" stroke-width="1.9" fill="none"/>
<path d="M1093.70,93.25L1104.90,93.25M1096.50,88.40L1102.10,98.10M1102.10,88.40L1096.50,98.10M1107.00,93.25L1118.20,93.25M1109.80,88.40L1115.40,98.10M1115.40,88.40L1109.80,98.10M1120.30,93.25L1131.50,93.25M1123.10,88.40L1128.70,98.10M1128.70,88.40L1123.10,98.10M1133.60,93.25L1144.80,93.25M1136.40,88.40L1142.00,98.10M1142.00,88.40L1136.40,98.10" stroke="#231f20" stroke-width="1.9" fill="none"/>
<g fill="#39b54a"><circle cx="976.7" cy="422.7" r="3.9"/><circle cx="987.2" cy="422.5" r="3.9"/><circle cx="994.1" cy="422.8" r="3.9"/><circle cx="975.6" cy="416.2" r="3.9"/><circle cx="986.0" cy="416.9" r="3.9"/><circle cx="992.5" cy="415.7" r="3.9"/><circle cx="975.3" cy="410.5" r="3.9"/><circle cx="986.3" cy="408.7" r="3.9"/><circle cx="996.0" cy="410.9" r="3.9"/><circle cx="973.2" cy="403.6" r="3.9"/><circle cx="979.8" cy="402.2" r="3.9"/><circle cx="989.9" cy="402.3" r="3.9"/><circle cx="997.2" cy="402.7" r="3.9"/><circle cx="966.4" cy="396.9" r="3.9"/><circle cx="976.7" cy="397.8" r="3.9"/><circle cx="985.6" cy="397.3" r="3.9"/><circle cx="994.1" cy="397.3" r="3.9"/><circle cx="1002.5" cy="396.4" r="3.9"/><circle cx="966.0" cy="391.7" r="3.9"/><circle cx="974.0" cy="391.1" r="3.9"/><circle cx="980.5" cy="389.9" r="3.9"/><circle cx="989.0" cy="389.5" r="3.9"/><circle cx="999.5" cy="390.3" r="3.9"/><circle cx="1008.4" cy="390.3" r="3.9"/><circle cx="961.5" cy="385.0" r="3.9"/><circle cx="966.3" cy="383.5" r="3.9"/><circle cx="978.5" cy="384.1" r="3.9"/><circle cx="987.4" cy="383.9" r="3.9"/><circle cx="992.4" cy="384.5" r="3.9"/><circle cx="1003.8" cy="383.6" r="3.9"/><circle cx="1009.6" cy="383.8" r="3.9"/><circle cx="961.6" cy="378.4" r="3.9"/><circle cx="966.8" cy="377.2" r="3.9"/><circle cx="975.3" cy="376.7" r="3.9"/><circle cx="986.7" cy="377.0" r="3.9"/><circle cx="994.3" cy="377.6" r="3.9"/><circle cx="1001.5" cy="378.3" r="3.9"/><circle cx="1009.8" cy="378.1" r="3.9"/><circle cx="953.9" cy="371.2" r="3.9"/><circle cx="962.9" cy="370.8" r="3.9"/><circle cx="974.5" cy="372.1" r="3.9"/><circle cx="980.4" cy="372.3" r="3.9"/><circle cx="988.6" cy="371.1" r="3.9"/><circle cx="999.8" cy="371.7" r="3.9"/><circle cx="1005.4" cy="372.5" r="3.9"/><circle cx="1014.5" cy="370.8" r="3.9"/><circle cx="956.5" cy="364.5" r="3.9"/><circle cx="963.2" cy="363.9" r="3.9"/><circle cx="971.0" cy="365.2" r="3.9"/><circle cx="980.2" cy="365.2" r="3.9"/><circle cx="989.3" cy="364.8" r="3.9"/><circle cx="1000.2" cy="364.9" r="3.9"/><circle cx="1007.3" cy="365.8" r="3.9"/><circle cx="1014.3" cy="364.1" r="3.9"/><circle cx="952.7" cy="359.3" r="3.9"/><circle cx="958.7" cy="357.8" r="3.9"/><circle cx="969.3" cy="359.6" r="3.9"/><circle cx="975.7" cy="359.6" r="3.9"/><circle cx="987.0" cy="358.8" r="3.9"/><circle cx="993.8" cy="357.6" r="3.9"/><circle cx="1000.9" cy="359.7" r="3.9"/><circle cx="1010.3" cy="359.1" r="3.9"/><circle cx="1018.9" cy="359.3" r="3.9"/><circle cx="951.5" cy="351.7" r="3.9"/><circle cx="958.4" cy="352.7" r="3.9"/><circle cx="966.6" cy="351.5" r="3.9"/><circle cx="977.1" cy="353.0" r="3.9"/><circle cx="986.0" cy="351.6" r="3.9"/><circle cx="995.8" cy="351.4" r="3.9"/><circle cx="1000.8" cy="351.6" r="3.9"/><circle cx="1011.1" cy="351.1" r="3.9"/><circle cx="1018.6" cy="351.8" r="3.9"/><circle cx="951.4" cy="344.9" r="3.9"/><circle cx="959.1" cy="346.7" r="3.9"/><circle cx="970.2" cy="346.1" r="3.9"/><circle cx="977.7" cy="346.0" r="3.9"/><circle cx="984.1" cy="344.6" r="3.9"/><circle cx="992.2" cy="346.7" r="3.9"/><circle cx="1003.5" cy="346.9" r="3.9"/><circle cx="1009.4" cy="346.1" r="3.9"/><circle cx="1019.8" cy="346.3" r="3.9"/><circle cx="946.1" cy="340.6" r="3.9"/><circle cx="953.7" cy="339.5" r="3.9"/><circle cx="964.9" cy="340.3" r="3.9"/><circle cx="973.5" cy="339.8" r="3.9"/><circle cx="982.4" cy="340.4" r="3.9"/><circle cx="989.2" cy="339.8" r="3.9"/><circle cx="1000.0" cy="340.3" r="3.9"/><circle cx="1006.7" cy="340.1" r="3.9"/><circle cx="1017.1" cy="339.5" r="3.9"/><circle cx="1024.7" cy="339.1" r="3.9"/><circle cx="947.1" cy="333.2" r="3.9"/><circle cx="953.7" cy="333.3" r="3.9"/><circle cx="966.0" cy="333.9" r="3.9"/><circle cx="973.5" cy="332.7" r="3.9"/><circle cx="982.1" cy="333.2" r="3.9"/><circle cx="989.6" cy="333.8" r="3.9"/><circle cx="996.7" cy="333.6" r="3.9"/><circle cx="1005.1" cy="333.2" r="3.9"/><circle cx="1015.5" cy="332.3" r="3.9"/><circle cx="1025.0" cy="333.0" r="3.9"/><circle cx="947.3" cy="327.6" r="3.9"/><circle cx="954.4" cy="325.4" r="3.9"/><circle cx="963.2" cy="327.0" r="3.9"/><circle cx="971.4" cy="325.8" r="3.9"/><circle cx="982.8" cy="326.9" r="3.9"/><circle cx="989.6" cy="327.5" r="3.9"/><circle cx="997.7" cy="327.0" r="3.9"/><circle cx="1005.8" cy="326.4" r="3.9"/><circle cx="1016.8" cy="327.6" r="3.9"/><circle cx="1025.7" cy="326.3" r="3.9"/><circle cx="947.1" cy="319.7" r="3.9"/><circle cx="953.9" cy="320.2" r="3.9"/><circle cx="965.3" cy="321.0" r="3.9"/><circle cx="973.4" cy="321.2" r="3.9"/><circle cx="980.3" cy="319.4" r="3.9"/><circle cx="989.6" cy="319.6" r="3.9"/><circle cx="997.3" cy="320.0" r="3.9"/><circle cx="1007.5" cy="320.1" r="3.9"/><circle cx="1014.9" cy="321.0" r="3.9"/><circle cx="1026.1" cy="320.0" r="3.9"/><circle cx="949.4" cy="312.6" r="3.9"/><circle cx="961.2" cy="312.7" r="3.9"/><circle cx="969.1" cy="313.9" r="3.9"/><circle cx="976.1" cy="314.5" r="3.9"/><circle cx="983.6" cy="312.9" r="3.9"/><circle cx="993.9" cy="312.6" r="3.9"/><circle cx="1004.0" cy="313.1" r="3.9"/><circle cx="1009.9" cy="312.7" r="3.9"/><circle cx="1020.4" cy="313.6" r="3.9"/><circle cx="951.6" cy="307.7" r="3.9"/><circle cx="960.9" cy="308.5" r="3.9"/><circle cx="969.0" cy="306.6" r="3.9"/><circle cx="976.8" cy="306.6" r="3.9"/><circle cx="983.5" cy="307.3" r="3.9"/><circle cx="995.0" cy="306.6" r="3.9"/><circle cx="1001.8" cy="307.0" r="3.9"/><circle cx="1012.1" cy="307.4" r="3.9"/><circle cx="1020.4" cy="308.0" r="3.9"/><circle cx="950.7" cy="301.7" r="3.9"/><circle cx="961.3" cy="300.0" r="3.9"/><circle cx="970.0" cy="301.5" r="3.9"/><circle cx="975.4" cy="300.8" r="3.9"/><circle cx="986.0" cy="301.9" r="3.9"/><circle cx="993.6" cy="301.1" r="3.9"/><circle cx="1004.2" cy="301.7" r="3.9"/><circle cx="1013.1" cy="300.9" r="3.9"/><circle cx="1020.5" cy="300.3" r="3.9"/><circle cx="952.0" cy="295.3" r="3.9"/><circle cx="960.3" cy="295.1" r="3.9"/><circle cx="967.2" cy="295.5" r="3.9"/><circle cx="978.8" cy="295.7" r="3.9"/><circle cx="985.6" cy="295.3" r="3.9"/><circle cx="993.4" cy="295.5" r="3.9"/><circle cx="1004.1" cy="294.2" r="3.9"/><circle cx="1009.6" cy="294.4" r="3.9"/><circle cx="1020.1" cy="295.2" r="3.9"/><circle cx="955.3" cy="287.0" r="3.9"/><circle cx="965.2" cy="287.1" r="3.9"/><circle cx="973.8" cy="287.4" r="3.9"/><circle cx="980.5" cy="288.9" r="3.9"/><circle cx="988.4" cy="287.3" r="3.9"/><circle cx="998.5" cy="288.7" r="3.9"/><circle cx="1008.4" cy="288.6" r="3.9"/><circle cx="1017.4" cy="288.1" r="3.9"/><circle cx="957.2" cy="280.8" r="3.9"/><circle cx="962.9" cy="281.8" r="3.9"/><circle cx="971.8" cy="282.3" r="3.9"/><circle cx="981.8" cy="281.8" r="3.9"/><circle cx="991.2" cy="281.9" r="3.9"/><circle cx="997.6" cy="281.5" r="3.9"/><circle cx="1008.4" cy="282.7" r="3.9"/><circle cx="1014.4" cy="282.6" r="3.9"/><circle cx="957.3" cy="275.4" r="3.9"/><circle cx="964.3" cy="274.6" r="3.9"/><circle cx="972.7" cy="275.4" r="3.9"/><circle cx="981.6" cy="274.2" r="3.9"/><circle cx="991.7" cy="275.4" r="3.9"/><circle cx="998.0" cy="276.1" r="3.9"/><circle cx="1007.3" cy="275.3" r="3.9"/><circle cx="1016.4" cy="274.3" r="3.9"/><circle cx="964.2" cy="268.8" r="3.9"/><circle cx="974.4" cy="270.0" r="3.9"/><circle cx="980.3" cy="268.9" r="3.9"/><circle cx="988.3" cy="268.8" r="3.9"/><circle cx="999.7" cy="269.9" r="3.9"/><circle cx="1006.9" cy="268.5" r="3.9"/><circle cx="967.1" cy="262.8" r="3.9"/><circle cx="978.6" cy="261.7" r="3.9"/><circle cx="986.6" cy="261.4" r="3.9"/><circle cx="992.9" cy="261.9" r="3.9"/><circle cx="1003.4" cy="262.1" r="3.9"/><circle cx="972.0" cy="256.4" r="3.9"/><circle cx="979.6" cy="256.7" r="3.9"/><circle cx="988.3" cy="256.2" r="3.9"/><circle cx="997.4" cy="255.4" r="3.9"/><circle cx="985.5" cy="210.2" r="3.9"/><circle cx="989.5" cy="216.4" r="3.9"/><circle cx="982.5" cy="219.5" r="3.9"/><circle cx="988.5" cy="220.5" r="3.9"/><circle cx="985.5" cy="234.0" r="3.9"/><circle cx="981.5" cy="240.2" r="3.9"/><circle cx="989.5" cy="241.3" r="3.9"/><circle cx="986.5" cy="432.9" r="3.9"/><circle cx="983.5" cy="440.2" r="3.9"/><circle cx="981.5" cy="429.8" r="3.9"/><circle cx="990.5" cy="428.8" r="3.9"/></g>
<g fill="#3d5aa8"><circle cx="1118.9" cy="470.6" r="3.8"/><circle cx="1113.1" cy="464.3" r="3.8"/><circle cx="1116.8" cy="464.9" r="3.8"/><circle cx="1124.6" cy="466.0" r="3.8"/><circle cx="1109.9" cy="460.5" r="3.8"/><circle cx="1116.0" cy="460.6" r="3.8"/><circle cx="1120.7" cy="460.1" r="3.8"/><circle cx="1127.4" cy="461.3" r="3.8"/><circle cx="1107.2" cy="456.1" r="3.8"/><circle cx="1113.8" cy="455.7" r="3.8"/><circle cx="1121.6" cy="455.0" r="3.8"/><circle cx="1130.4" cy="453.9" r="3.8"/><circle cx="1107.2" cy="451.3" r="3.8"/><circle cx="1115.7" cy="449.1" r="3.8"/><circle cx="1124.4" cy="451.4" r="3.8"/><circle cx="1127.2" cy="450.0" r="3.8"/><circle cx="1107.5" cy="444.7" r="3.8"/><circle cx="1116.2" cy="444.3" r="3.8"/><circle cx="1123.2" cy="444.0" r="3.8"/><circle cx="1127.5" cy="446.0" r="3.8"/><circle cx="1105.4" cy="440.0" r="3.8"/><circle cx="1112.8" cy="440.2" r="3.8"/><circle cx="1118.5" cy="439.0" r="3.8"/><circle cx="1126.6" cy="441.5" r="3.8"/><circle cx="1134.3" cy="440.6" r="3.8"/><circle cx="1105.2" cy="434.9" r="3.8"/><circle cx="1113.2" cy="435.7" r="3.8"/><circle cx="1117.3" cy="434.5" r="3.8"/><circle cx="1125.0" cy="435.2" r="3.8"/><circle cx="1133.6" cy="435.2" r="3.8"/><circle cx="1103.7" cy="431.1" r="3.8"/><circle cx="1112.1" cy="430.3" r="3.8"/><circle cx="1117.8" cy="430.0" r="3.8"/><circle cx="1125.1" cy="430.9" r="3.8"/><circle cx="1130.5" cy="430.3" r="3.8"/><circle cx="1104.4" cy="425.7" r="3.8"/><circle cx="1110.4" cy="424.6" r="3.8"/><circle cx="1118.3" cy="425.6" r="3.8"/><circle cx="1123.6" cy="425.1" r="3.8"/><circle cx="1130.9" cy="424.6" r="3.8"/><circle cx="1105.7" cy="421.4" r="3.8"/><circle cx="1112.3" cy="421.4" r="3.8"/><circle cx="1117.5" cy="421.3" r="3.8"/><circle cx="1125.0" cy="419.4" r="3.8"/><circle cx="1133.3" cy="421.3" r="3.8"/><circle cx="1100.3" cy="414.6" r="3.8"/><circle cx="1110.3" cy="414.8" r="3.8"/><circle cx="1114.6" cy="413.9" r="3.8"/><circle cx="1120.3" cy="415.5" r="3.8"/><circle cx="1131.0" cy="416.5" r="3.8"/><circle cx="1135.5" cy="414.0" r="3.8"/><circle cx="1101.7" cy="411.0" r="3.8"/><circle cx="1110.6" cy="410.6" r="3.8"/><circle cx="1114.5" cy="410.3" r="3.8"/><circle cx="1122.2" cy="410.6" r="3.8"/><circle cx="1127.9" cy="411.4" r="3.8"/><circle cx="1137.2" cy="409.3" r="3.8"/><circle cx="1098.3" cy="406.2" r="3.8"/><circle cx="1104.8" cy="406.4" r="3.8"/><circle cx="1112.5" cy="405.7" r="3.8"/><circle cx="1119.9" cy="404.5" r="3.8"/><circle cx="1124.7" cy="404.6" r="3.8"/><circle cx="1133.0" cy="405.7" r="3.8"/><circle cx="1137.2" cy="406.2" r="3.8"/><circle cx="1095.5" cy="399.5" r="3.8"/><circle cx="1102.2" cy="401.5" r="3.8"/><circle cx="1109.4" cy="400.5" r="3.8"/><circle cx="1117.5" cy="401.4" r="3.8"/><circle cx="1123.4" cy="400.0" r="3.8"/><circle cx="1129.3" cy="401.3" r="3.8"/><circle cx="1136.8" cy="400.4" r="3.8"/><circle cx="1141.4" cy="399.9" r="3.8"/><circle cx="1096.9" cy="395.4" r="3.8"/><circle cx="1100.4" cy="395.8" r="3.8"/><circle cx="1110.9" cy="396.0" r="3.8"/><circle cx="1117.4" cy="396.3" r="3.8"/><circle cx="1122.5" cy="396.0" r="3.8"/><circle cx="1128.4" cy="394.2" r="3.8"/><circle cx="1134.9" cy="394.7" r="3.8"/><circle cx="1144.0" cy="395.7" r="3.8"/><circle cx="1096.1" cy="390.5" r="3.8"/><circle cx="1100.8" cy="390.3" r="3.8"/><circle cx="1110.0" cy="389.9" r="3.8"/><circle cx="1114.6" cy="390.0" r="3.8"/><circle cx="1121.5" cy="390.7" r="3.8"/><circle cx="1127.3" cy="389.1" r="3.8"/><circle cx="1134.7" cy="390.7" r="3.8"/><circle cx="1143.2" cy="390.6" r="3.8"/><circle cx="1101.1" cy="384.9" r="3.8"/><circle cx="1103.7" cy="385.2" r="3.8"/><circle cx="1112.2" cy="384.4" r="3.8"/><circle cx="1119.7" cy="384.8" r="3.8"/><circle cx="1124.4" cy="384.8" r="3.8"/><circle cx="1134.2" cy="383.9" r="3.8"/><circle cx="1138.2" cy="384.6" r="3.8"/><circle cx="1094.6" cy="380.0" r="3.8"/><circle cx="1101.3" cy="381.3" r="3.8"/><circle cx="1109.1" cy="380.7" r="3.8"/><circle cx="1114.2" cy="380.1" r="3.8"/><circle cx="1122.8" cy="381.1" r="3.8"/><circle cx="1127.8" cy="380.1" r="3.8"/><circle cx="1137.1" cy="381.1" r="3.8"/><circle cx="1140.9" cy="380.3" r="3.8"/><circle cx="1097.0" cy="374.9" r="3.8"/><circle cx="1103.3" cy="375.6" r="3.8"/><circle cx="1111.2" cy="375.4" r="3.8"/><circle cx="1116.5" cy="374.8" r="3.8"/><circle cx="1123.3" cy="374.7" r="3.8"/><circle cx="1128.9" cy="374.8" r="3.8"/><circle cx="1134.7" cy="374.3" r="3.8"/><circle cx="1140.9" cy="375.3" r="3.8"/><circle cx="1094.8" cy="369.0" r="3.8"/><circle cx="1103.8" cy="369.7" r="3.8"/><circle cx="1111.0" cy="370.5" r="3.8"/><circle cx="1115.2" cy="371.2" r="3.8"/><circle cx="1124.0" cy="369.7" r="3.8"/><circle cx="1127.3" cy="370.6" r="3.8"/><circle cx="1137.0" cy="370.5" r="3.8"/><circle cx="1143.4" cy="370.0" r="3.8"/><circle cx="1099.7" cy="364.6" r="3.8"/><circle cx="1105.4" cy="364.9" r="3.8"/><circle cx="1111.9" cy="365.0" r="3.8"/><circle cx="1120.4" cy="364.3" r="3.8"/><circle cx="1124.3" cy="364.6" r="3.8"/><circle cx="1134.3" cy="365.3" r="3.8"/><circle cx="1136.8" cy="366.1" r="3.8"/><circle cx="1100.8" cy="361.1" r="3.8"/><circle cx="1105.2" cy="360.8" r="3.8"/><circle cx="1111.5" cy="359.3" r="3.8"/><circle cx="1120.6" cy="361.1" r="3.8"/><circle cx="1124.3" cy="361.2" r="3.8"/><circle cx="1130.1" cy="359.7" r="3.8"/><circle cx="1136.7" cy="359.3" r="3.8"/><circle cx="1097.7" cy="355.8" r="3.8"/><circle cx="1104.9" cy="354.4" r="3.8"/><circle cx="1111.0" cy="354.7" r="3.8"/><circle cx="1120.6" cy="355.5" r="3.8"/><circle cx="1123.9" cy="355.7" r="3.8"/><circle cx="1132.4" cy="355.1" r="3.8"/><circle cx="1138.9" cy="355.6" r="3.8"/><circle cx="1100.5" cy="350.2" r="3.8"/><circle cx="1106.4" cy="350.1" r="3.8"/><circle cx="1113.0" cy="349.9" r="3.8"/><circle cx="1118.6" cy="350.3" r="3.8"/><circle cx="1126.5" cy="349.6" r="3.8"/><circle cx="1134.1" cy="350.2" r="3.8"/><circle cx="1140.4" cy="350.7" r="3.8"/><circle cx="1101.2" cy="345.7" r="3.8"/><circle cx="1105.5" cy="345.0" r="3.8"/><circle cx="1112.9" cy="345.9" r="3.8"/><circle cx="1120.5" cy="344.2" r="3.8"/><circle cx="1123.7" cy="344.2" r="3.8"/><circle cx="1130.4" cy="344.0" r="3.8"/><circle cx="1136.6" cy="344.6" r="3.8"/><circle cx="1097.5" cy="340.7" r="3.8"/><circle cx="1106.3" cy="341.4" r="3.8"/><circle cx="1114.4" cy="340.9" r="3.8"/><circle cx="1121.0" cy="339.0" r="3.8"/><circle cx="1124.4" cy="341.3" r="3.8"/><circle cx="1132.1" cy="339.4" r="3.8"/><circle cx="1139.9" cy="340.0" r="3.8"/><circle cx="1099.4" cy="334.7" r="3.8"/><circle cx="1104.7" cy="334.1" r="3.8"/><circle cx="1112.9" cy="336.4" r="3.8"/><circle cx="1121.1" cy="335.9" r="3.8"/><circle cx="1127.5" cy="334.9" r="3.8"/><circle cx="1131.3" cy="336.3" r="3.8"/><circle cx="1139.2" cy="335.7" r="3.8"/><circle cx="1097.1" cy="329.5" r="3.8"/><circle cx="1105.7" cy="330.8" r="3.8"/><circle cx="1113.8" cy="330.9" r="3.8"/><circle cx="1118.3" cy="329.9" r="3.8"/><circle cx="1127.2" cy="331.5" r="3.8"/><circle cx="1132.1" cy="329.4" r="3.8"/><circle cx="1139.3" cy="330.3" r="3.8"/><circle cx="1098.6" cy="324.5" r="3.8"/><circle cx="1105.3" cy="325.5" r="3.8"/><circle cx="1110.8" cy="325.3" r="3.8"/><circle cx="1121.0" cy="325.9" r="3.8"/><circle cx="1124.5" cy="325.0" r="3.8"/><circle cx="1130.5" cy="325.8" r="3.8"/><circle cx="1139.4" cy="324.4" r="3.8"/><circle cx="1099.4" cy="320.5" r="3.8"/><circle cx="1106.1" cy="319.9" r="3.8"/><circle cx="1111.6" cy="319.8" r="3.8"/><circle cx="1121.2" cy="319.8" r="3.8"/><circle cx="1125.6" cy="320.1" r="3.8"/><circle cx="1130.8" cy="320.0" r="3.8"/><circle cx="1137.5" cy="319.7" r="3.8"/><circle cx="1101.9" cy="314.8" r="3.8"/><circle cx="1111.0" cy="314.7" r="3.8"/><circle cx="1115.0" cy="315.6" r="3.8"/><circle cx="1121.8" cy="315.3" r="3.8"/><circle cx="1129.5" cy="314.1" r="3.8"/><circle cx="1136.3" cy="314.2" r="3.8"/><circle cx="1111.3" cy="311.0" r="3.8"/><circle cx="1121.2" cy="310.7" r="3.8"/><circle cx="1124.2" cy="310.1" r="3.8"/><circle cx="1114.7" cy="306.1" r="3.8"/><circle cx="1121.1" cy="304.4" r="3.8"/><circle cx="1116.3" cy="300.6" r="3.8"/><circle cx="1122.7" cy="300.2" r="3.8"/><circle cx="1117.7" cy="295.1" r="3.8"/><circle cx="1124.2" cy="294.9" r="3.8"/><circle cx="1115.5" cy="289.8" r="3.8"/><circle cx="1123.2" cy="290.9" r="3.8"/><circle cx="1114.6" cy="285.3" r="3.8"/><circle cx="1123.3" cy="285.2" r="3.8"/><circle cx="1116.4" cy="280.5" r="3.8"/><circle cx="1123.2" cy="279.8" r="3.8"/><circle cx="1114.8" cy="274.0" r="3.8"/><circle cx="1124.0" cy="276.0" r="3.8"/><circle cx="1078.8" cy="374.2" r="3.8"/><circle cx="1087.1" cy="371.8" r="3.8"/><circle cx="1094.2" cy="372.6" r="3.8"/><circle cx="1100.4" cy="372.1" r="3.8"/><circle cx="1107.9" cy="371.5" r="3.8"/><circle cx="1114.5" cy="371.7" r="3.8"/><circle cx="1122.3" cy="371.8" r="3.8"/><circle cx="1129.2" cy="373.8" r="3.8"/><circle cx="1136.9" cy="372.8" r="3.8"/><circle cx="1144.7" cy="374.1" r="3.8"/><circle cx="1151.0" cy="372.0" r="3.8"/><circle cx="1159.7" cy="374.1" r="3.8"/><circle cx="1079.9" cy="403.5" r="3.8"/><circle cx="1086.7" cy="402.5" r="3.8"/><circle cx="1095.8" cy="404.2" r="3.8"/><circle cx="1103.1" cy="404.3" r="3.8"/><circle cx="1110.5" cy="403.5" r="3.8"/><circle cx="1119.8" cy="402.2" r="3.8"/><circle cx="1127.2" cy="402.5" r="3.8"/><circle cx="1135.7" cy="404.4" r="3.8"/><circle cx="1143.3" cy="403.2" r="3.8"/><circle cx="1150.0" cy="403.4" r="3.8"/><circle cx="1158.7" cy="403.1" r="3.8"/><circle cx="1095.2" cy="437.3" r="3.8"/><circle cx="1103.7" cy="436.2" r="3.8"/><circle cx="1112.0" cy="437.2" r="3.8"/><circle cx="1119.1" cy="436.2" r="3.8"/><circle cx="1127.4" cy="435.6" r="3.8"/><circle cx="1135.1" cy="434.6" r="3.8"/><circle cx="1142.6" cy="436.1" r="3.8"/><circle cx="1119.0" cy="223.6" r="3.8"/><circle cx="1119.0" cy="242.3" r="3.8"/><circle cx="1119.0" cy="255.8" r="3.8"/><circle cx="1120.0" cy="262.0" r="3.8"/><circle cx="1118.0" cy="267.2" r="3.8"/><circle cx="1120.0" cy="476.4" r="3.8"/><circle cx="1119.0" cy="484.7" r="3.8"/><circle cx="1119.0" cy="495.1" r="3.8"/><circle cx="1118.0" cy="480.6" r="3.8"/></g>
<g fill="#e83a2a"><circle cx="1246.7" cy="454.2" r="4.0"/><circle cx="1255.0" cy="454.6" r="4.0"/><circle cx="1243.3" cy="448.2" r="4.0"/><circle cx="1249.3" cy="448.1" r="4.0"/><circle cx="1258.3" cy="447.9" r="4.0"/><circle cx="1241.9" cy="443.4" r="4.0"/><circle cx="1246.9" cy="444.0" r="4.0"/><circle cx="1255.7" cy="444.6" r="4.0"/><circle cx="1258.0" cy="443.6" r="4.0"/><circle cx="1236.9" cy="440.6" r="4.0"/><circle cx="1246.3" cy="440.4" r="4.0"/><circle cx="1252.6" cy="440.2" r="4.0"/><circle cx="1259.4" cy="440.4" r="4.0"/><circle cx="1262.2" cy="440.5" r="4.0"/><circle cx="1238.5" cy="435.6" r="4.0"/><circle cx="1245.1" cy="434.6" r="4.0"/><circle cx="1250.3" cy="434.6" r="4.0"/><circle cx="1256.3" cy="433.7" r="4.0"/><circle cx="1264.9" cy="435.7" r="4.0"/><circle cx="1237.8" cy="430.7" r="4.0"/><circle cx="1242.0" cy="430.9" r="4.0"/><circle cx="1246.1" cy="430.6" r="4.0"/><circle cx="1253.8" cy="429.2" r="4.0"/><circle cx="1258.9" cy="430.2" r="4.0"/><circle cx="1265.3" cy="430.0" r="4.0"/><circle cx="1232.9" cy="425.1" r="4.0"/><circle cx="1236.8" cy="425.4" r="4.0"/><circle cx="1243.5" cy="424.7" r="4.0"/><circle cx="1249.5" cy="425.1" r="4.0"/><circle cx="1255.2" cy="425.9" r="4.0"/><circle cx="1265.6" cy="425.1" r="4.0"/><circle cx="1270.7" cy="426.7" r="4.0"/><circle cx="1227.1" cy="419.7" r="4.0"/><circle cx="1237.0" cy="421.7" r="4.0"/><circle cx="1242.4" cy="419.8" r="4.0"/><circle cx="1247.5" cy="421.8" r="4.0"/><circle cx="1256.0" cy="421.6" r="4.0"/><circle cx="1258.9" cy="421.8" r="4.0"/><circle cx="1265.9" cy="421.4" r="4.0"/><circle cx="1271.0" cy="422.1" r="4.0"/><circle cx="1226.7" cy="416.7" r="4.0"/><circle cx="1231.0" cy="416.4" r="4.0"/><circle cx="1239.0" cy="416.3" r="4.0"/><circle cx="1244.1" cy="416.7" r="4.0"/><circle cx="1250.2" cy="415.5" r="4.0"/><circle cx="1255.6" cy="416.6" r="4.0"/><circle cx="1261.5" cy="415.2" r="4.0"/><circle cx="1267.5" cy="416.5" r="4.0"/><circle cx="1276.1" cy="416.2" r="4.0"/><circle cx="1220.9" cy="411.2" r="4.0"/><circle cx="1228.5" cy="410.2" r="4.0"/><circle cx="1233.1" cy="412.8" r="4.0"/><circle cx="1239.9" cy="410.8" r="4.0"/><circle cx="1246.8" cy="411.6" r="4.0"/><circle cx="1252.1" cy="411.3" r="4.0"/><circle cx="1259.7" cy="412.3" r="4.0"/><circle cx="1264.1" cy="410.9" r="4.0"/><circle cx="1272.7" cy="412.7" r="4.0"/><circle cx="1279.0" cy="411.3" r="4.0"/><circle cx="1223.9" cy="406.1" r="4.0"/><circle cx="1227.1" cy="406.6" r="4.0"/><circle cx="1237.5" cy="407.3" r="4.0"/><circle cx="1240.5" cy="407.2" r="4.0"/><circle cx="1249.6" cy="405.9" r="4.0"/><circle cx="1254.5" cy="406.2" r="4.0"/><circle cx="1259.1" cy="406.0" r="4.0"/><circle cx="1265.1" cy="406.2" r="4.0"/><circle cx="1270.5" cy="406.3" r="4.0"/><circle cx="1276.9" cy="407.4" r="4.0"/><circle cx="1223.6" cy="400.5" r="4.0"/><circle cx="1230.6" cy="401.0" r="4.0"/><circle cx="1235.4" cy="402.1" r="4.0"/><circle cx="1240.9" cy="401.3" r="4.0"/><circle cx="1247.6" cy="400.9" r="4.0"/><circle cx="1255.8" cy="400.8" r="4.0"/><circle cx="1261.9" cy="401.1" r="4.0"/><circle cx="1265.6" cy="401.6" r="4.0"/><circle cx="1270.5" cy="400.9" r="4.0"/><circle cx="1278.2" cy="401.8" r="4.0"/><circle cx="1221.8" cy="398.7" r="4.0"/><circle cx="1224.0" cy="397.3" r="4.0"/><circle cx="1230.6" cy="398.1" r="4.0"/><circle cx="1237.7" cy="398.4" r="4.0"/><circle cx="1245.0" cy="396.2" r="4.0"/><circle cx="1248.6" cy="396.5" r="4.0"/><circle cx="1259.0" cy="396.2" r="4.0"/><circle cx="1263.3" cy="396.9" r="4.0"/><circle cx="1268.9" cy="398.1" r="4.0"/><circle cx="1274.4" cy="397.9" r="4.0"/><circle cx="1282.8" cy="398.5" r="4.0"/><circle cx="1220.1" cy="393.8" r="4.0"/><circle cx="1225.9" cy="392.8" r="4.0"/><circle cx="1233.0" cy="393.5" r="4.0"/><circle cx="1240.5" cy="391.4" r="4.0"/><circle cx="1243.1" cy="392.6" r="4.0"/><circle cx="1252.5" cy="392.6" r="4.0"/><circle cx="1256.2" cy="393.9" r="4.0"/><circle cx="1262.4" cy="391.4" r="4.0"/><circle cx="1267.5" cy="391.2" r="4.0"/><circle cx="1276.9" cy="391.4" r="4.0"/><circle cx="1283.0" cy="393.6" r="4.0"/><circle cx="1219.3" cy="388.7" r="4.0"/><circle cx="1222.7" cy="388.2" r="4.0"/><circle cx="1230.9" cy="388.5" r="4.0"/><circle cx="1234.5" cy="388.6" r="4.0"/><circle cx="1239.8" cy="387.3" r="4.0"/><circle cx="1250.3" cy="387.8" r="4.0"/><circle cx="1253.0" cy="388.7" r="4.0"/><circle cx="1260.1" cy="386.4" r="4.0"/><circle cx="1264.2" cy="387.1" r="4.0"/><circle cx="1271.9" cy="389.1" r="4.0"/><circle cx="1277.7" cy="388.8" r="4.0"/><circle cx="1286.8" cy="387.6" r="4.0"/><circle cx="1216.2" cy="383.9" r="4.0"/><circle cx="1219.9" cy="382.5" r="4.0"/><circle cx="1226.0" cy="384.3" r="4.0"/><circle cx="1232.6" cy="382.3" r="4.0"/><circle cx="1238.0" cy="383.1" r="4.0"/><circle cx="1243.3" cy="383.4" r="4.0"/><circle cx="1248.8" cy="384.1" r="4.0"/><circle cx="1255.7" cy="382.0" r="4.0"/><circle cx="1263.8" cy="382.6" r="4.0"/><circle cx="1271.4" cy="383.1" r="4.0"/><circle cx="1275.9" cy="384.1" r="4.0"/><circle cx="1280.6" cy="383.8" r="4.0"/><circle cx="1288.9" cy="382.9" r="4.0"/><circle cx="1216.0" cy="377.1" r="4.0"/><circle cx="1221.7" cy="377.4" r="4.0"/><circle cx="1227.8" cy="377.4" r="4.0"/><circle cx="1230.3" cy="378.4" r="4.0"/><circle cx="1240.6" cy="377.7" r="4.0"/><circle cx="1244.7" cy="378.8" r="4.0"/><circle cx="1249.8" cy="378.5" r="4.0"/><circle cx="1254.8" cy="378.3" r="4.0"/><circle cx="1264.6" cy="378.0" r="4.0"/><circle cx="1268.3" cy="377.1" r="4.0"/><circle cx="1276.8" cy="378.2" r="4.0"/><circle cx="1284.0" cy="379.1" r="4.0"/><circle cx="1286.3" cy="379.6" r="4.0"/><circle cx="1219.0" cy="374.7" r="4.0"/><circle cx="1224.7" cy="374.3" r="4.0"/><circle cx="1230.4" cy="374.2" r="4.0"/><circle cx="1235.9" cy="373.0" r="4.0"/><circle cx="1239.9" cy="374.4" r="4.0"/><circle cx="1248.4" cy="372.5" r="4.0"/><circle cx="1254.8" cy="374.1" r="4.0"/><circle cx="1260.4" cy="374.5" r="4.0"/><circle cx="1268.3" cy="373.4" r="4.0"/><circle cx="1274.2" cy="373.7" r="4.0"/><circle cx="1279.2" cy="373.5" r="4.0"/><circle cx="1287.2" cy="373.6" r="4.0"/><circle cx="1219.1" cy="368.6" r="4.0"/><circle cx="1223.9" cy="370.2" r="4.0"/><circle cx="1230.2" cy="368.7" r="4.0"/><circle cx="1233.5" cy="369.0" r="4.0"/><circle cx="1241.3" cy="369.9" r="4.0"/><circle cx="1249.3" cy="370.4" r="4.0"/><circle cx="1253.8" cy="368.8" r="4.0"/><circle cx="1260.6" cy="369.8" r="4.0"/><circle cx="1264.5" cy="368.2" r="4.0"/><circle cx="1271.0" cy="368.5" r="4.0"/><circle cx="1277.9" cy="370.4" r="4.0"/><circle cx="1283.7" cy="370.3" r="4.0"/><circle cx="1215.9" cy="363.5" r="4.0"/><circle cx="1225.4" cy="363.2" r="4.0"/><circle cx="1227.4" cy="363.3" r="4.0"/><circle cx="1233.4" cy="364.0" r="4.0"/><circle cx="1240.3" cy="363.4" r="4.0"/><circle cx="1245.6" cy="364.9" r="4.0"/><circle cx="1251.9" cy="363.6" r="4.0"/><circle cx="1260.6" cy="365.4" r="4.0"/><circle cx="1267.3" cy="364.9" r="4.0"/><circle cx="1273.7" cy="365.2" r="4.0"/><circle cx="1280.6" cy="363.3" r="4.0"/><circle cx="1283.0" cy="364.7" r="4.0"/><circle cx="1220.1" cy="359.7" r="4.0"/><circle cx="1227.6" cy="358.7" r="4.0"/><circle cx="1233.4" cy="359.4" r="4.0"/><circle cx="1238.2" cy="358.9" r="4.0"/><circle cx="1243.8" cy="359.9" r="4.0"/><circle cx="1251.3" cy="360.8" r="4.0"/><circle cx="1256.1" cy="360.3" r="4.0"/><circle cx="1261.5" cy="360.1" r="4.0"/><circle cx="1268.0" cy="360.7" r="4.0"/><circle cx="1278.0" cy="358.9" r="4.0"/><circle cx="1283.5" cy="358.8" r="4.0"/><circle cx="1222.2" cy="353.8" r="4.0"/><circle cx="1229.0" cy="353.8" r="4.0"/><circle cx="1236.5" cy="355.2" r="4.0"/><circle cx="1241.3" cy="355.5" r="4.0"/><circle cx="1246.6" cy="354.5" r="4.0"/><circle cx="1253.4" cy="353.5" r="4.0"/><circle cx="1262.2" cy="353.8" r="4.0"/><circle cx="1264.6" cy="355.8" r="4.0"/><circle cx="1274.2" cy="354.8" r="4.0"/><circle cx="1278.5" cy="353.9" r="4.0"/><circle cx="1220.7" cy="350.3" r="4.0"/><circle cx="1228.1" cy="349.2" r="4.0"/><circle cx="1237.4" cy="348.9" r="4.0"/><circle cx="1241.0" cy="351.0" r="4.0"/><circle cx="1249.1" cy="349.1" r="4.0"/><circle cx="1255.3" cy="350.4" r="4.0"/><circle cx="1260.9" cy="351.5" r="4.0"/><circle cx="1267.9" cy="350.5" r="4.0"/><circle cx="1274.0" cy="350.2" r="4.0"/><circle cx="1279.1" cy="351.2" r="4.0"/><circle cx="1226.8" cy="345.2" r="4.0"/><circle cx="1230.1" cy="346.4" r="4.0"/><circle cx="1237.8" cy="345.3" r="4.0"/><circle cx="1243.8" cy="345.7" r="4.0"/><circle cx="1250.5" cy="346.5" r="4.0"/><circle cx="1257.7" cy="345.7" r="4.0"/><circle cx="1264.8" cy="345.4" r="4.0"/><circle cx="1269.8" cy="346.3" r="4.0"/><circle cx="1276.9" cy="346.2" r="4.0"/><circle cx="1228.1" cy="341.0" r="4.0"/><circle cx="1232.7" cy="339.9" r="4.0"/><circle cx="1237.4" cy="340.7" r="4.0"/><circle cx="1244.8" cy="342.0" r="4.0"/><circle cx="1248.8" cy="340.4" r="4.0"/><circle cx="1258.4" cy="340.7" r="4.0"/><circle cx="1265.1" cy="339.9" r="4.0"/><circle cx="1270.9" cy="340.6" r="4.0"/><circle cx="1276.1" cy="339.6" r="4.0"/><circle cx="1228.8" cy="337.0" r="4.0"/><circle cx="1236.6" cy="336.3" r="4.0"/><circle cx="1241.3" cy="334.8" r="4.0"/><circle cx="1248.9" cy="336.0" r="4.0"/><circle cx="1255.2" cy="336.5" r="4.0"/><circle cx="1259.8" cy="337.2" r="4.0"/><circle cx="1264.7" cy="337.5" r="4.0"/><circle cx="1270.7" cy="337.5" r="4.0"/><circle cx="1232.8" cy="331.3" r="4.0"/><circle cx="1240.7" cy="331.5" r="4.0"/><circle cx="1244.8" cy="330.2" r="4.0"/><circle cx="1252.4" cy="331.8" r="4.0"/><circle cx="1256.0" cy="330.3" r="4.0"/><circle cx="1263.0" cy="332.7" r="4.0"/><circle cx="1271.4" cy="331.3" r="4.0"/><circle cx="1233.3" cy="327.7" r="4.0"/><circle cx="1240.3" cy="327.4" r="4.0"/><circle cx="1247.9" cy="328.1" r="4.0"/><circle cx="1252.4" cy="327.6" r="4.0"/><circle cx="1261.4" cy="325.3" r="4.0"/><circle cx="1266.8" cy="326.1" r="4.0"/><circle cx="1236.4" cy="323.4" r="4.0"/><circle cx="1242.5" cy="322.0" r="4.0"/><circle cx="1248.4" cy="321.3" r="4.0"/><circle cx="1253.9" cy="320.9" r="4.0"/><circle cx="1261.4" cy="320.8" r="4.0"/><circle cx="1266.6" cy="321.1" r="4.0"/><circle cx="1238.9" cy="316.1" r="4.0"/><circle cx="1242.5" cy="317.7" r="4.0"/><circle cx="1252.1" cy="318.5" r="4.0"/><circle cx="1258.1" cy="318.8" r="4.0"/><circle cx="1261.7" cy="317.7" r="4.0"/><circle cx="1242.4" cy="311.7" r="4.0"/><circle cx="1246.2" cy="311.9" r="4.0"/><circle cx="1254.2" cy="313.5" r="4.0"/><circle cx="1261.3" cy="312.8" r="4.0"/><circle cx="1239.7" cy="308.6" r="4.0"/><circle cx="1248.0" cy="307.0" r="4.0"/><circle cx="1254.7" cy="307.2" r="4.0"/><circle cx="1259.4" cy="307.8" r="4.0"/><circle cx="1242.9" cy="302.1" r="4.0"/><circle cx="1247.6" cy="302.5" r="4.0"/><circle cx="1254.9" cy="304.1" r="4.0"/><circle cx="1259.2" cy="303.9" r="4.0"/><circle cx="1241.5" cy="297.7" r="4.0"/><circle cx="1246.8" cy="298.6" r="4.0"/><circle cx="1255.6" cy="298.8" r="4.0"/><circle cx="1257.9" cy="299.4" r="4.0"/><circle cx="1242.1" cy="293.6" r="4.0"/><circle cx="1246.7" cy="293.7" r="4.0"/><circle cx="1255.0" cy="293.2" r="4.0"/><circle cx="1258.6" cy="294.9" r="4.0"/><circle cx="1241.4" cy="287.9" r="4.0"/><circle cx="1249.8" cy="288.0" r="4.0"/><circle cx="1253.5" cy="289.5" r="4.0"/><circle cx="1261.1" cy="290.3" r="4.0"/><circle cx="1243.2" cy="284.6" r="4.0"/><circle cx="1252.8" cy="284.3" r="4.0"/><circle cx="1258.2" cy="284.3" r="4.0"/><circle cx="1248.9" cy="281.1" r="4.0"/><circle cx="1253.3" cy="280.4" r="4.0"/><circle cx="1251.0" cy="214.3" r="4.0"/><circle cx="1251.0" cy="231.9" r="4.0"/><circle cx="1251.0" cy="246.4" r="4.0"/><circle cx="1251.0" cy="262.0" r="4.0"/><circle cx="1252.0" cy="265.1" r="4.0"/><circle cx="1251.0" cy="277.5" r="4.0"/><circle cx="1251.0" cy="459.9" r="4.0"/><circle cx="1252.0" cy="465.0" r="4.0"/><circle cx="1251.0" cy="479.5" r="4.0"/><circle cx="1250.0" cy="484.7" r="4.0"/><circle cx="1251.0" cy="501.8" r="4.0"/><circle cx="1253.0" cy="499.2" r="4.0"/></g>
<line x1="932.00" y1="331.00" x2="1041.00" y2="331.00" stroke="#000" stroke-width="3.7" />
<line x1="1064.00" y1="378.00" x2="1173.70" y2="378.00" stroke="#000" stroke-width="3.7" />
<line x1="1196.00" y1="377.00" x2="1305.90" y2="377.00" stroke="#000" stroke-width="3.7" />
<text transform="translate(27.14,712.70) scale(1.0185,1)" font-size="34.63" font-weight="bold">c.</text>
<text transform="translate(254.39,750.90) scale(1.0255,1)" font-size="31.86">No 4-OHT</text>
<text transform="translate(655.11,750.90) scale(1.0085,1)" font-size="31.86">3 Days post 4-OHT</text>
<text transform="translate(1067.96,750.90) scale(1.0095,1)" font-size="31.86">4 Days post 4-OHT</text>
<rect x="165.30" y="753.60" width="309.10" height="42.10" fill="#0b0b0b" />
<g><rect x="217.0" y="782.3" width="1.2" height="1.2" fill="#1a1a55" opacity="0.44"/><rect x="425.3" y="794.3" width="1.2" height="1.2" fill="#7a1a1a" opacity="0.70"/><rect x="323.7" y="774.9" width="1.2" height="1.2" fill="#1a6e1a" opacity="0.69"/><rect x="170.6" y="792.0" width="1.2" height="1.2" fill="#7a1a1a" opacity="0.33"/><rect x="410.1" y="763.9" width="1.2" height="1.2" fill="#1a6e1a" opacity="0.65"/><rect x="300.5" y="794.5" width="1.2" height="1.2" fill="#7a1a1a" opacity="0.61"/><rect x="176.8" y="767.8" width="1.2" height="1.2" fill="#7a1a1a" opacity="0.65"/><rect x="365.6" y="792.2" width="1.2" height="1.2" fill="#1a6e1a" opacity="0.38"/><rect x="417.4" y="759.6" width="1.2" height="1.2" fill="#1a6e1a" opacity="0.53"/><rect x="335.8" y="768.4" width="1.2" height="1.2" fill="#7a1a1a" opacity="0.38"/><rect x="370.6" y="773.4" width="1.2" height="1.2" fill="#1a6e1a" opacity="0.34"/><rect x="226.9" y="781.6" width="1.2" height="1.2" fill="#1a1a55" opacity="0.68"/><rect x="400.6" y="777.9" width="1.2" height="1.2" fill="#1a1a55" opacity="0.34"/><rect x="338.3" y="777.0" width="1.2" height="1.2" fill="#7a1a1a" opacity="0.40"/><rect x="449.8" y="790.2" width="1.2" height="1.2" fill="#7a1a1a" opacity="0.45"/><rect x="459.4" y="774.7" width="1.2" height="1.2" fill="#7a1a1a" opacity="0.80"/><rect x="285.0" y="755.7" width="1.2" height="1.2" fill="#1a6e1a" opacity="0.38"/><rect x="386.2" y="794.0" width="1.2" height="1.2" fill="#1a6e1a" opacity="0.55"/><rect x="335.3" y="784.6" width="1.2" height="1.2" fill="#1a6e1a" opacity="0.59"/><rect x="264.2" y="793.9" width="1.2" height="1.2" fill="#1a6e1a" opacity="0.39"/><rect x="218.5" y="768.6" width="1.2" height="1.2" fill="#7a1a1a" opacity="0.47"/><rect x="349.7" y="766.9" width="1.2" height="1.2" fill="#1a6e1a" opacity="0.38"/><rect x="449.8" y="761.6" width="1.2" height="1.2" fill="#7a1a1a" opacity="0.49"/><rect x="376.2" y="781.7" width="1.2" height="1.2" fill="#1a1a55" opacity="0.78"/><rect x="291.3" y="794.3" width="1.2" height="1.2" fill="#1a1a55" opacity="0.60"/><rect x="437.5" y="774.3" width="1.2" height="1.2" fill="#7a1a1a" opacity="0.63"/><rect x="453.8" y="764.5" width="1.2" height="1.2" fill="#1a1a55" opacity="0.33"/><rect x="413.6" y="785.6" width="1.2" height="1.2" fill="#7a1a1a" opacity="0.33"/><rect x="254.7" y="788.8" width="1.2" height="1.2" fill="#1a1a55" opacity="0.44"/><rect x="295.1" y="761.4" width="1.2" height="1.2" fill="#1a6e1a" opacity="0.74"/><rect x="364.5" y="760.5" width="1.2" height="1.2" fill="#1a6e1a" opacity="0.67"/><rect x="313.4" y="764.7" width="1.2" height="1.2" fill="#1a1a55" opacity="0.56"/><rect x="390.1" y="755.7" width="1.2" height="1.2" fill="#1a6e1a" opacity="0.75"/><rect x="278.6" y="760.8" width="1.2" height="1.2" fill="#7a1a1a" opacity="0.60"/><rect x="297.1" y="777.9" width="1.2" height="1.2" fill="#7a1a1a" opacity="0.45"/><rect x="330.4" y="765.7" width="1.2" height="1.2" fill="#1a1a55" opacity="0.31"/><rect x="376.8" y="792.9" width="1.2" height="1.2" fill="#1a6e1a" opacity="0.43"/><rect x="266.5" y="764.6" width="1.2" height="1.2" fill="#1a1a55" opacity="0.51"/><rect x="376.1" y="784.7" width="1.2" height="1.2" fill="#1a6e1a" opacity="0.37"/><rect x="195.4" y="758.4" width="1.2" height="1.2" fill="#1a6e1a" opacity="0.62"/><rect x="407.7" y="757.5" width="1.2" height="1.2" fill="#1a6e1a" opacity="0.63"/><rect x="205.2" y="776.2" width="1.2" height="1.2" fill="#7a1a1a" opacity="0.50"/><rect x="439.0" y="779.5" width="1.2" height="1.2" fill="#1a6e1a" opacity="0.39"/><rect x="282.3" y="783.1" width="1.2" height="1.2" fill="#1a1a55" opacity="0.68"/><rect x="351.8" y="774.8" width="1.2" height="1.2" fill="#1a1a55" opacity="0.69"/><rect x="409.1" y="754.9" width="1.2" height="1.2" fill="#7a1a1a" opacity="0.73"/><rect x="288.5" y="777.3" width="1.2" height="1.2" fill="#1a1a55" opacity="0.42"/><rect x="462.3" y="778.9" width="1.2" height="1.2" fill="#1a1a55" opacity="0.32"/><rect x="285.7" y="767.0" width="1.2" height="1.2" fill="#7a1a1a" opacity="0.71"/><rect x="412.9" y="774.3" width="1.2" height="1.2" fill="#1a1a55" opacity="0.35"/><rect x="350.9" y="775.0" width="1.2" height="1.2" fill="#1a1a55" opacity="0.46"/><rect x="325.0" y="766.3" width="1.2" height="1.2" fill="#1a1a55" opacity="0.56"/><rect x="338.5" y="757.2" width="1.2" height="1.2" fill="#7a1a1a" opacity="0.79"/><rect x="275.4" y="767.4" width="1.2" height="1.2" fill="#7a1a1a" opacity="0.35"/><rect x="189.7" y="757.5" width="1.2" height="1.2" fill="#7a1a1a" opacity="0.55"/><rect x="457.1" y="781.9" width="1.2" height="1.2" fill="#1a1a55" opacity="0.52"/><rect x="325.2" y="770.2" width="1.2" height="1.2" fill="#7a1a1a" opacity="0.34"/><rect x="174.0" y="781.1" width="1.2" height="1.2" fill="#1a6e1a" opacity="0.42"/><rect x="382.6" y="787.4" width="1.2" height="1.2" fill="#1a1a55" opacity="0.51"/><rect x="411.2" y="770.6" width="1.2" height="1.2" fill="#7a1a1a" opacity="0.54"/><rect x="360.3" y="793.2" width="1.2" height="1.2" fill="#1a6e1a" opacity="0.32"/><rect x="219.4" y="769.6" width="1.2" height="1.2" fill="#1a1a55" opacity="0.75"/><rect x="405.7" y="779.7" width="1.2" height="1.2" fill="#1a1a55" opacity="0.63"/><rect x="430.1" y="782.6" width="1.2" height="1.2" fill="#1a1a55" opacity="0.43"/><rect x="314.1" y="774.6" width="1.2" height="1.2" fill="#7a1a1a" opacity="0.61"/><rect x="419.6" y="793.2" width="1.2" height="1.2" fill="#1a6e1a" opacity="0.38"/><rect x="228.3" y="789.7" width="1.2" height="1.2" fill="#1a1a55" opacity="0.37"/><rect x="336.2" y="757.8" width="1.2" height="1.2" fill="#7a1a1a" opacity="0.61"/><rect x="281.6" y="784.4" width="1.2" height="1.2" fill="#1a6e1a" opacity="0.80"/><rect x="217.4" y="772.0" width="1.2" height="1.2" fill="#1a1a55" opacity="0.47"/></g>
<line x1="166" y1="773.4" x2="474" y2="773.4" stroke="#262660" stroke-width="2.2" opacity="0.6"/>
<g filter="url(#fl)"><line x1="181.4" y1="773.4" x2="286.2" y2="773.4" stroke="#e0261c" stroke-width="2.0" opacity="0.54"/><rect x="181.4" y="772.1" width="8.7" height="2.6" rx="1" fill="#e0261c" opacity="0.51"/><rect x="190.4" y="772.1" width="9.0" height="2.6" rx="1" fill="#e0261c" opacity="0.52"/><rect x="199.7" y="772.1" width="6.9" height="2.6" rx="1" fill="#e0261c" opacity="0.59"/><rect x="207.9" y="772.1" width="4.4" height="2.6" rx="1" fill="#e0261c" opacity="0.84"/><rect x="212.9" y="772.1" width="6.6" height="2.6" rx="1" fill="#e0261c" opacity="0.83"/><rect x="220.5" y="772.1" width="8.5" height="2.6" rx="1" fill="#e0261c" opacity="0.74"/><rect x="229.3" y="772.1" width="8.3" height="2.6" rx="1" fill="#e0261c" opacity="0.69"/><rect x="238.2" y="772.1" width="4.1" height="2.6" rx="1" fill="#e0261c" opacity="0.79"/><rect x="243.2" y="772.1" width="8.6" height="2.6" rx="1" fill="#e0261c" opacity="0.76"/><rect x="253.2" y="772.1" width="6.4" height="2.6" rx="1" fill="#e0261c" opacity="0.73"/><rect x="260.5" y="772.1" width="4.6" height="2.6" rx="1" fill="#e0261c" opacity="0.84"/><rect x="265.6" y="772.1" width="7.7" height="2.6" rx="1" fill="#e0261c" opacity="0.84"/><rect x="274.3" y="772.1" width="3.9" height="2.6" rx="1" fill="#e0261c" opacity="0.78"/><rect x="279.2" y="772.1" width="4.1" height="2.6" rx="1" fill="#e0261c" opacity="0.47"/><rect x="284.1" y="772.1" width="2.1" height="2.6" rx="1" fill="#e0261c" opacity="0.82"/></g>
<g filter="url(#fl)"><line x1="286.2" y1="773.4" x2="363.2" y2="773.4" stroke="#36c23a" stroke-width="2.0" opacity="0.54"/><rect x="286.2" y="772.1" width="8.5" height="2.6" rx="1" fill="#36c23a" opacity="0.83"/><rect x="296.0" y="772.1" width="3.5" height="2.6" rx="1" fill="#36c23a" opacity="0.69"/><rect x="300.2" y="772.1" width="6.2" height="2.6" rx="1" fill="#36c23a" opacity="0.50"/><rect x="306.8" y="772.1" width="5.7" height="2.6" rx="1" fill="#36c23a" opacity="0.54"/><rect x="313.3" y="772.1" width="3.1" height="2.6" rx="1" fill="#36c23a" opacity="0.48"/><rect x="317.5" y="772.1" width="5.5" height="2.6" rx="1" fill="#36c23a" opacity="0.66"/><rect x="324.1" y="772.1" width="5.2" height="2.6" rx="1" fill="#36c23a" opacity="0.47"/><rect x="330.4" y="772.1" width="6.5" height="2.6" rx="1" fill="#36c23a" opacity="0.72"/><rect x="337.8" y="772.1" width="8.8" height="2.6" rx="1" fill="#36c23a" opacity="0.60"/><rect x="347.8" y="772.1" width="5.2" height="2.6" rx="1" fill="#36c23a" opacity="0.68"/><rect x="354.0" y="772.1" width="4.9" height="2.6" rx="1" fill="#36c23a" opacity="0.48"/><rect x="359.6" y="772.1" width="3.6" height="2.6" rx="1" fill="#36c23a" opacity="0.69"/></g>
<g filter="url(#fl)"><line x1="363.2" y1="773.4" x2="456.3" y2="773.4" stroke="#e0261c" stroke-width="2.0" opacity="0.54"/><rect x="363.2" y="772.1" width="7.3" height="2.6" rx="1" fill="#e0261c" opacity="0.79"/><rect x="370.9" y="772.1" width="9.0" height="2.6" rx="1" fill="#e0261c" opacity="0.53"/><rect x="380.9" y="772.1" width="3.6" height="2.6" rx="1" fill="#e0261c" opacity="0.76"/><rect x="384.8" y="772.1" width="7.2" height="2.6" rx="1" fill="#e0261c" opacity="0.74"/><rect x="393.2" y="772.1" width="5.6" height="2.6" rx="1" fill="#e0261c" opacity="0.80"/><rect x="400.2" y="772.1" width="3.7" height="2.6" rx="1" fill="#e0261c" opacity="0.66"/><rect x="405.3" y="772.1" width="7.4" height="2.6" rx="1" fill="#e0261c" opacity="0.63"/><rect x="413.3" y="772.1" width="8.7" height="2.6" rx="1" fill="#e0261c" opacity="0.48"/><rect x="423.1" y="772.1" width="8.1" height="2.6" rx="1" fill="#e0261c" opacity="0.51"/><rect x="431.7" y="772.1" width="4.8" height="2.6" rx="1" fill="#e0261c" opacity="0.67"/><rect x="437.2" y="772.1" width="8.4" height="2.6" rx="1" fill="#e0261c" opacity="0.82"/><rect x="446.2" y="772.1" width="8.4" height="2.6" rx="1" fill="#e0261c" opacity="0.48"/><rect x="454.8" y="772.1" width="1.5" height="2.6" rx="1" fill="#e0261c" opacity="0.77"/></g>
<circle cx="189.5" cy="758.5" r="1.3" fill="#d02020"/>
<circle cx="401" cy="788.3" r="1.3" fill="#c02020"/>
<circle cx="374" cy="796" r="1.3" fill="#c02020"/>
<circle cx="276" cy="793" r="1.3" fill="#d02020"/>
<circle cx="350" cy="767" r="1.3" fill="#30a030"/>
<circle cx="242" cy="787" r="1.3" fill="#30a030"/>
<circle cx="215" cy="795" r="1.3" fill="#30a030"/>
<rect x="665.10" y="758.10" width="256.60" height="40.30" fill="#1e0c0c" />
<g><rect x="762.1" y="794.6" width="1.2" height="1.2" fill="#4a1616" opacity="0.41"/><rect x="888.0" y="783.5" width="1.2" height="1.2" fill="#4a1616" opacity="0.73"/><rect x="858.9" y="760.4" width="1.2" height="1.2" fill="#2a1a0e" opacity="0.35"/><rect x="884.7" y="781.2" width="1.2" height="1.2" fill="#3a1010" opacity="0.56"/><rect x="868.4" y="783.0" width="1.2" height="1.2" fill="#3a1010" opacity="0.57"/><rect x="796.9" y="779.2" width="1.2" height="1.2" fill="#4a1616" opacity="0.60"/><rect x="756.8" y="772.6" width="1.2" height="1.2" fill="#3a1010" opacity="0.61"/><rect x="684.5" y="774.6" width="1.2" height="1.2" fill="#4a1616" opacity="0.56"/><rect x="698.5" y="792.6" width="1.2" height="1.2" fill="#4a1616" opacity="0.57"/><rect x="685.8" y="781.4" width="1.2" height="1.2" fill="#2a1a0e" opacity="0.73"/><rect x="779.9" y="789.9" width="1.2" height="1.2" fill="#2a1a0e" opacity="0.52"/><rect x="874.9" y="778.1" width="1.2" height="1.2" fill="#3a1010" opacity="0.32"/><rect x="770.0" y="790.3" width="1.2" height="1.2" fill="#2a1a0e" opacity="0.31"/><rect x="904.8" y="775.5" width="1.2" height="1.2" fill="#5a1c1c" opacity="0.77"/><rect x="879.8" y="763.9" width="1.2" height="1.2" fill="#3a1010" opacity="0.64"/><rect x="890.7" y="788.0" width="1.2" height="1.2" fill="#3a1010" opacity="0.76"/><rect x="891.2" y="788.1" width="1.2" height="1.2" fill="#3a1010" opacity="0.38"/><rect x="811.6" y="782.8" width="1.2" height="1.2" fill="#2a1a0e" opacity="0.48"/><rect x="758.5" y="778.1" width="1.2" height="1.2" fill="#2a1a0e" opacity="0.64"/><rect x="780.2" y="772.7" width="1.2" height="1.2" fill="#4a1616" opacity="0.73"/><rect x="733.2" y="771.3" width="1.2" height="1.2" fill="#4a1616" opacity="0.65"/><rect x="810.2" y="782.5" width="1.2" height="1.2" fill="#3a1010" opacity="0.59"/><rect x="711.0" y="783.0" width="1.2" height="1.2" fill="#4a1616" opacity="0.67"/><rect x="732.3" y="789.3" width="1.2" height="1.2" fill="#4a1616" opacity="0.56"/><rect x="707.7" y="792.2" width="1.2" height="1.2" fill="#5a1c1c" opacity="0.75"/><rect x="710.4" y="771.3" width="1.2" height="1.2" fill="#4a1616" opacity="0.50"/><rect x="912.2" y="785.9" width="1.2" height="1.2" fill="#3a1010" opacity="0.57"/><rect x="698.4" y="796.0" width="1.2" height="1.2" fill="#4a1616" opacity="0.65"/><rect x="721.3" y="780.2" width="1.2" height="1.2" fill="#3a1010" opacity="0.34"/><rect x="822.8" y="759.7" width="1.2" height="1.2" fill="#3a1010" opacity="0.55"/><rect x="724.7" y="762.0" width="1.2" height="1.2" fill="#4a1616" opacity="0.65"/><rect x="740.6" y="776.8" width="1.2" height="1.2" fill="#5a1c1c" opacity="0.70"/><rect x="759.1" y="768.8" width="1.2" height="1.2" fill="#4a1616" opacity="0.73"/><rect x="736.5" y="775.8" width="1.2" height="1.2" fill="#5a1c1c" opacity="0.30"/><rect x="739.1" y="787.6" width="1.2" height="1.2" fill="#3a1010" opacity="0.47"/><rect x="787.5" y="761.3" width="1.2" height="1.2" fill="#2a1a0e" opacity="0.52"/><rect x="874.2" y="761.0" width="1.2" height="1.2" fill="#2a1a0e" opacity="0.46"/><rect x="898.6" y="788.9" width="1.2" height="1.2" fill="#5a1c1c" opacity="0.51"/><rect x="726.5" y="784.0" width="1.2" height="1.2" fill="#3a1010" opacity="0.72"/><rect x="766.3" y="759.6" width="1.2" height="1.2" fill="#3a1010" opacity="0.64"/><rect x="846.7" y="793.4" width="1.2" height="1.2" fill="#5a1c1c" opacity="0.45"/><rect x="804.1" y="792.0" width="1.2" height="1.2" fill="#4a1616" opacity="0.34"/><rect x="761.6" y="796.9" width="1.2" height="1.2" fill="#4a1616" opacity="0.73"/><rect x="873.7" y="760.3" width="1.2" height="1.2" fill="#2a1a0e" opacity="0.33"/><rect x="913.0" y="761.9" width="1.2" height="1.2" fill="#4a1616" opacity="0.40"/><rect x="682.9" y="795.6" width="1.2" height="1.2" fill="#2a1a0e" opacity="0.69"/><rect x="893.3" y="787.6" width="1.2" height="1.2" fill="#3a1010" opacity="0.49"/><rect x="759.5" y="763.5" width="1.2" height="1.2" fill="#4a1616" opacity="0.45"/><rect x="904.4" y="779.8" width="1.2" height="1.2" fill="#3a1010" opacity="0.39"/><rect x="794.1" y="762.9" width="1.2" height="1.2" fill="#2a1a0e" opacity="0.33"/><rect x="831.1" y="788.3" width="1.2" height="1.2" fill="#2a1a0e" opacity="0.39"/><rect x="866.7" y="764.2" width="1.2" height="1.2" fill="#3a1010" opacity="0.44"/><rect x="891.1" y="785.6" width="1.2" height="1.2" fill="#3a1010" opacity="0.33"/><rect x="887.9" y="776.8" width="1.2" height="1.2" fill="#3a1010" opacity="0.46"/><rect x="754.1" y="797.3" width="1.2" height="1.2" fill="#3a1010" opacity="0.51"/><rect x="676.0" y="777.7" width="1.2" height="1.2" fill="#3a1010" opacity="0.67"/><rect x="752.7" y="775.4" width="1.2" height="1.2" fill="#2a1a0e" opacity="0.48"/><rect x="886.3" y="767.0" width="1.2" height="1.2" fill="#2a1a0e" opacity="0.66"/><rect x="796.6" y="785.4" width="1.2" height="1.2" fill="#4a1616" opacity="0.57"/><rect x="732.6" y="789.5" width="1.2" height="1.2" fill="#3a1010" opacity="0.75"/><rect x="867.3" y="795.3" width="1.2" height="1.2" fill="#2a1a0e" opacity="0.77"/><rect x="731.5" y="771.1" width="1.2" height="1.2" fill="#4a1616" opacity="0.33"/><rect x="775.7" y="776.9" width="1.2" height="1.2" fill="#4a1616" opacity="0.58"/><rect x="734.1" y="793.1" width="1.2" height="1.2" fill="#2a1a0e" opacity="0.30"/><rect x="750.3" y="761.8" width="1.2" height="1.2" fill="#4a1616" opacity="0.35"/><rect x="789.5" y="781.8" width="1.2" height="1.2" fill="#4a1616" opacity="0.74"/><rect x="893.4" y="778.7" width="1.2" height="1.2" fill="#5a1c1c" opacity="0.79"/><rect x="800.1" y="777.7" width="1.2" height="1.2" fill="#2a1a0e" opacity="0.56"/><rect x="857.9" y="781.1" width="1.2" height="1.2" fill="#3a1010" opacity="0.55"/><rect x="883.4" y="769.2" width="1.2" height="1.2" fill="#2a1a0e" opacity="0.78"/><rect x="678.4" y="778.5" width="1.2" height="1.2" fill="#3a1010" opacity="0.75"/><rect x="695.4" y="772.1" width="1.2" height="1.2" fill="#5a1c1c" opacity="0.31"/><rect x="732.7" y="793.1" width="1.2" height="1.2" fill="#2a1a0e" opacity="0.57"/><rect x="754.0" y="791.2" width="1.2" height="1.2" fill="#4a1616" opacity="0.56"/><rect x="812.9" y="796.9" width="1.2" height="1.2" fill="#4a1616" opacity="0.38"/><rect x="919.2" y="791.2" width="1.2" height="1.2" fill="#5a1c1c" opacity="0.69"/><rect x="801.0" y="760.4" width="1.2" height="1.2" fill="#5a1c1c" opacity="0.37"/><rect x="814.0" y="779.4" width="1.2" height="1.2" fill="#5a1c1c" opacity="0.65"/><rect x="827.2" y="763.6" width="1.2" height="1.2" fill="#2a1a0e" opacity="0.57"/><rect x="824.1" y="767.0" width="1.2" height="1.2" fill="#4a1616" opacity="0.37"/><rect x="771.8" y="789.9" width="1.2" height="1.2" fill="#4a1616" opacity="0.41"/><rect x="862.9" y="786.5" width="1.2" height="1.2" fill="#2a1a0e" opacity="0.70"/><rect x="904.3" y="771.1" width="1.2" height="1.2" fill="#4a1616" opacity="0.64"/><rect x="829.8" y="785.4" width="1.2" height="1.2" fill="#4a1616" opacity="0.32"/><rect x="886.5" y="796.0" width="1.2" height="1.2" fill="#3a1010" opacity="0.77"/><rect x="810.1" y="793.3" width="1.2" height="1.2" fill="#3a1010" opacity="0.58"/><rect x="899.6" y="794.5" width="1.2" height="1.2" fill="#2a1a0e" opacity="0.72"/><rect x="740.0" y="797.2" width="1.2" height="1.2" fill="#4a1616" opacity="0.41"/><rect x="906.0" y="774.7" width="1.2" height="1.2" fill="#2a1a0e" opacity="0.54"/><rect x="919.7" y="781.8" width="1.2" height="1.2" fill="#5a1c1c" opacity="0.55"/><rect x="812.6" y="776.0" width="1.2" height="1.2" fill="#5a1c1c" opacity="0.79"/><rect x="722.8" y="784.6" width="1.2" height="1.2" fill="#5a1c1c" opacity="0.39"/><rect x="732.4" y="795.8" width="1.2" height="1.2" fill="#2a1a0e" opacity="0.74"/><rect x="915.5" y="782.4" width="1.2" height="1.2" fill="#4a1616" opacity="0.65"/><rect x="689.6" y="763.3" width="1.2" height="1.2" fill="#4a1616" opacity="0.69"/><rect x="823.3" y="784.6" width="1.2" height="1.2" fill="#4a1616" opacity="0.55"/><rect x="905.1" y="777.6" width="1.2" height="1.2" fill="#5a1c1c" opacity="0.69"/><rect x="734.0" y="793.7" width="1.2" height="1.2" fill="#5a1c1c" opacity="0.40"/><rect x="706.0" y="796.2" width="1.2" height="1.2" fill="#3a1010" opacity="0.63"/><rect x="746.1" y="767.7" width="1.2" height="1.2" fill="#4a1616" opacity="0.43"/><rect x="746.0" y="773.8" width="1.2" height="1.2" fill="#2a1a0e" opacity="0.63"/><rect x="826.9" y="777.9" width="1.2" height="1.2" fill="#4a1616" opacity="0.62"/><rect x="879.4" y="776.4" width="1.2" height="1.2" fill="#3a1010" opacity="0.77"/><rect x="729.3" y="763.3" width="1.2" height="1.2" fill="#3a1010" opacity="0.32"/><rect x="766.3" y="762.6" width="1.2" height="1.2" fill="#4a1616" opacity="0.50"/><rect x="680.7" y="771.3" width="1.2" height="1.2" fill="#2a1a0e" opacity="0.37"/><rect x="823.5" y="768.6" width="1.2" height="1.2" fill="#3a1010" opacity="0.42"/><rect x="909.4" y="763.9" width="1.2" height="1.2" fill="#4a1616" opacity="0.79"/><rect x="716.4" y="769.7" width="1.2" height="1.2" fill="#2a1a0e" opacity="0.67"/><rect x="703.9" y="780.7" width="1.2" height="1.2" fill="#3a1010" opacity="0.48"/><rect x="747.6" y="781.2" width="1.2" height="1.2" fill="#2a1a0e" opacity="0.37"/><rect x="782.8" y="774.5" width="1.2" height="1.2" fill="#3a1010" opacity="0.75"/><rect x="829.4" y="764.6" width="1.2" height="1.2" fill="#3a1010" opacity="0.46"/><rect x="682.1" y="762.5" width="1.2" height="1.2" fill="#3a1010" opacity="0.54"/><rect x="897.3" y="784.4" width="1.2" height="1.2" fill="#3a1010" opacity="0.56"/><rect x="800.3" y="777.7" width="1.2" height="1.2" fill="#4a1616" opacity="0.40"/><rect x="670.9" y="784.4" width="1.2" height="1.2" fill="#3a1010" opacity="0.66"/><rect x="850.9" y="763.7" width="1.2" height="1.2" fill="#3a1010" opacity="0.74"/><rect x="681.1" y="779.2" width="1.2" height="1.2" fill="#5a1c1c" opacity="0.63"/><rect x="707.7" y="789.3" width="1.2" height="1.2" fill="#5a1c1c" opacity="0.32"/><rect x="818.5" y="790.7" width="1.2" height="1.2" fill="#5a1c1c" opacity="0.51"/><rect x="910.7" y="771.2" width="1.2" height="1.2" fill="#3a1010" opacity="0.64"/><rect x="776.5" y="781.7" width="1.2" height="1.2" fill="#5a1c1c" opacity="0.42"/><rect x="866.8" y="764.3" width="1.2" height="1.2" fill="#5a1c1c" opacity="0.55"/><rect x="728.5" y="789.2" width="1.2" height="1.2" fill="#3a1010" opacity="0.50"/><rect x="806.2" y="775.4" width="1.2" height="1.2" fill="#2a1a0e" opacity="0.32"/><rect x="679.5" y="781.0" width="1.2" height="1.2" fill="#4a1616" opacity="0.62"/><rect x="746.7" y="771.9" width="1.2" height="1.2" fill="#3a1010" opacity="0.74"/><rect x="807.1" y="789.4" width="1.2" height="1.2" fill="#4a1616" opacity="0.31"/><rect x="729.5" y="777.3" width="1.2" height="1.2" fill="#2a1a0e" opacity="0.44"/><rect x="888.7" y="787.0" width="1.2" height="1.2" fill="#4a1616" opacity="0.74"/><rect x="799.1" y="796.5" width="1.2" height="1.2" fill="#3a1010" opacity="0.31"/><rect x="824.7" y="760.1" width="1.2" height="1.2" fill="#5a1c1c" opacity="0.44"/><rect x="893.1" y="766.5" width="1.2" height="1.2" fill="#5a1c1c" opacity="0.35"/><rect x="731.2" y="773.2" width="1.2" height="1.2" fill="#2a1a0e" opacity="0.64"/><rect x="822.2" y="792.5" width="1.2" height="1.2" fill="#5a1c1c" opacity="0.33"/><rect x="674.5" y="774.4" width="1.2" height="1.2" fill="#2a1a0e" opacity="0.34"/><rect x="914.7" y="759.6" width="1.2" height="1.2" fill="#4a1616" opacity="0.50"/><rect x="745.8" y="787.2" width="1.2" height="1.2" fill="#3a1010" opacity="0.70"/><rect x="839.3" y="772.7" width="1.2" height="1.2" fill="#2a1a0e" opacity="0.39"/><rect x="862.2" y="771.7" width="1.2" height="1.2" fill="#4a1616" opacity="0.40"/><rect x="798.1" y="774.6" width="1.2" height="1.2" fill="#3a1010" opacity="0.31"/><rect x="841.4" y="767.3" width="1.2" height="1.2" fill="#2a1a0e" opacity="0.46"/><rect x="666.8" y="765.0" width="1.2" height="1.2" fill="#2a1a0e" opacity="0.49"/><rect x="907.5" y="796.9" width="1.2" height="1.2" fill="#4a1616" opacity="0.64"/><rect x="871.7" y="784.7" width="1.2" height="1.2" fill="#4a1616" opacity="0.68"/><rect x="839.0" y="779.8" width="1.2" height="1.2" fill="#5a1c1c" opacity="0.44"/><rect x="911.2" y="770.5" width="1.2" height="1.2" fill="#5a1c1c" opacity="0.58"/><rect x="778.7" y="765.1" width="1.2" height="1.2" fill="#5a1c1c" opacity="0.57"/><rect x="802.8" y="775.6" width="1.2" height="1.2" fill="#3a1010" opacity="0.75"/><rect x="889.8" y="764.9" width="1.2" height="1.2" fill="#2a1a0e" opacity="0.57"/><rect x="748.0" y="781.7" width="1.2" height="1.2" fill="#2a1a0e" opacity="0.36"/><rect x="869.2" y="774.9" width="1.2" height="1.2" fill="#2a1a0e" opacity="0.72"/><rect x="848.0" y="769.5" width="1.2" height="1.2" fill="#2a1a0e" opacity="0.65"/><rect x="700.6" y="770.2" width="1.2" height="1.2" fill="#2a1a0e" opacity="0.43"/><rect x="889.1" y="776.1" width="1.2" height="1.2" fill="#4a1616" opacity="0.34"/><rect x="917.9" y="776.1" width="1.2" height="1.2" fill="#4a1616" opacity="0.50"/><rect x="899.1" y="765.3" width="1.2" height="1.2" fill="#3a1010" opacity="0.64"/><rect x="759.1" y="791.2" width="1.2" height="1.2" fill="#5a1c1c" opacity="0.60"/><rect x="719.0" y="790.9" width="1.2" height="1.2" fill="#3a1010" opacity="0.44"/><rect x="901.0" y="789.3" width="1.2" height="1.2" fill="#5a1c1c" opacity="0.46"/><rect x="823.4" y="792.3" width="1.2" height="1.2" fill="#4a1616" opacity="0.58"/><rect x="709.6" y="761.7" width="1.2" height="1.2" fill="#5a1c1c" opacity="0.44"/><rect x="881.4" y="795.6" width="1.2" height="1.2" fill="#5a1c1c" opacity="0.54"/><rect x="768.6" y="773.6" width="1.2" height="1.2" fill="#5a1c1c" opacity="0.38"/><rect x="886.6" y="772.3" width="1.2" height="1.2" fill="#3a1010" opacity="0.64"/><rect x="758.8" y="767.9" width="1.2" height="1.2" fill="#3a1010" opacity="0.73"/><rect x="745.5" y="765.7" width="1.2" height="1.2" fill="#2a1a0e" opacity="0.51"/><rect x="915.0" y="785.3" width="1.2" height="1.2" fill="#2a1a0e" opacity="0.34"/><rect x="703.0" y="787.6" width="1.2" height="1.2" fill="#5a1c1c" opacity="0.37"/><rect x="719.9" y="791.3" width="1.2" height="1.2" fill="#4a1616" opacity="0.55"/><rect x="783.3" y="791.5" width="1.2" height="1.2" fill="#3a1010" opacity="0.42"/><rect x="783.6" y="787.4" width="1.2" height="1.2" fill="#3a1010" opacity="0.53"/><rect x="858.5" y="787.8" width="1.2" height="1.2" fill="#5a1c1c" opacity="0.66"/><rect x="776.9" y="787.8" width="1.2" height="1.2" fill="#3a1010" opacity="0.67"/><rect x="820.3" y="763.7" width="1.2" height="1.2" fill="#5a1c1c" opacity="0.60"/><rect x="843.1" y="761.3" width="1.2" height="1.2" fill="#5a1c1c" opacity="0.40"/><rect x="735.0" y="767.0" width="1.2" height="1.2" fill="#3a1010" opacity="0.53"/><rect x="695.7" y="781.9" width="1.2" height="1.2" fill="#3a1010" opacity="0.42"/><rect x="865.8" y="764.8" width="1.2" height="1.2" fill="#3a1010" opacity="0.78"/><rect x="766.7" y="763.7" width="1.2" height="1.2" fill="#3a1010" opacity="0.55"/><rect x="683.5" y="776.7" width="1.2" height="1.2" fill="#3a1010" opacity="0.51"/><rect x="918.4" y="794.9" width="1.2" height="1.2" fill="#5a1c1c" opacity="0.47"/><rect x="778.2" y="781.4" width="1.2" height="1.2" fill="#5a1c1c" opacity="0.80"/><rect x="863.5" y="767.5" width="1.2" height="1.2" fill="#4a1616" opacity="0.39"/><rect x="883.1" y="773.9" width="1.2" height="1.2" fill="#4a1616" opacity="0.48"/><rect x="803.3" y="778.9" width="1.2" height="1.2" fill="#5a1c1c" opacity="0.30"/><rect x="846.1" y="764.5" width="1.2" height="1.2" fill="#4a1616" opacity="0.73"/><rect x="690.4" y="783.0" width="1.2" height="1.2" fill="#3a1010" opacity="0.46"/><rect x="819.1" y="776.9" width="1.2" height="1.2" fill="#3a1010" opacity="0.48"/><rect x="909.9" y="780.1" width="1.2" height="1.2" fill="#5a1c1c" opacity="0.51"/><rect x="708.1" y="789.1" width="1.2" height="1.2" fill="#2a1a0e" opacity="0.73"/><rect x="686.0" y="779.8" width="1.2" height="1.2" fill="#3a1010" opacity="0.79"/><rect x="759.0" y="776.3" width="1.2" height="1.2" fill="#2a1a0e" opacity="0.65"/><rect x="794.9" y="761.8" width="1.2" height="1.2" fill="#4a1616" opacity="0.40"/><rect x="839.0" y="796.2" width="1.2" height="1.2" fill="#4a1616" opacity="0.69"/><rect x="794.7" y="794.0" width="1.2" height="1.2" fill="#2a1a0e" opacity="0.76"/><rect x="787.4" y="772.8" width="1.2" height="1.2" fill="#5a1c1c" opacity="0.34"/><rect x="857.1" y="777.0" width="1.2" height="1.2" fill="#4a1616" opacity="0.59"/><rect x="790.5" y="790.1" width="1.2" height="1.2" fill="#5a1c1c" opacity="0.78"/><rect x="865.3" y="781.3" width="1.2" height="1.2" fill="#2a1a0e" opacity="0.41"/><rect x="873.3" y="764.7" width="1.2" height="1.2" fill="#2a1a0e" opacity="0.67"/><rect x="708.2" y="790.2" width="1.2" height="1.2" fill="#2a1a0e" opacity="0.76"/><rect x="681.3" y="766.7" width="1.2" height="1.2" fill="#2a1a0e" opacity="0.49"/><rect x="703.2" y="781.8" width="1.2" height="1.2" fill="#2a1a0e" opacity="0.50"/><rect x="836.9" y="788.2" width="1.2" height="1.2" fill="#3a1010" opacity="0.48"/><rect x="706.5" y="761.4" width="1.2" height="1.2" fill="#3a1010" opacity="0.41"/><rect x="674.2" y="762.7" width="1.2" height="1.2" fill="#5a1c1c" opacity="0.76"/><rect x="726.6" y="787.5" width="1.2" height="1.2" fill="#3a1010" opacity="0.71"/><rect x="904.6" y="774.3" width="1.2" height="1.2" fill="#5a1c1c" opacity="0.36"/><rect x="866.7" y="778.0" width="1.2" height="1.2" fill="#3a1010" opacity="0.51"/><rect x="693.6" y="770.3" width="1.2" height="1.2" fill="#4a1616" opacity="0.40"/><rect x="910.0" y="773.5" width="1.2" height="1.2" fill="#3a1010" opacity="0.39"/><rect x="683.6" y="760.6" width="1.2" height="1.2" fill="#2a1a0e" opacity="0.37"/><rect x="746.2" y="761.0" width="1.2" height="1.2" fill="#3a1010" opacity="0.31"/><rect x="866.3" y="770.4" width="1.2" height="1.2" fill="#2a1a0e" opacity="0.50"/><rect x="860.7" y="784.6" width="1.2" height="1.2" fill="#3a1010" opacity="0.64"/><rect x="825.9" y="784.3" width="1.2" height="1.2" fill="#3a1010" opacity="0.78"/><rect x="681.0" y="774.0" width="1.2" height="1.2" fill="#5a1c1c" opacity="0.43"/><rect x="875.7" y="788.9" width="1.2" height="1.2" fill="#5a1c1c" opacity="0.63"/><rect x="707.0" y="774.3" width="1.2" height="1.2" fill="#2a1a0e" opacity="0.62"/><rect x="690.1" y="774.5" width="1.2" height="1.2" fill="#3a1010" opacity="0.58"/><rect x="762.9" y="762.1" width="1.2" height="1.2" fill="#4a1616" opacity="0.77"/><rect x="735.3" y="784.6" width="1.2" height="1.2" fill="#4a1616" opacity="0.67"/><rect x="813.1" y="782.4" width="1.2" height="1.2" fill="#3a1010" opacity="0.60"/><rect x="705.5" y="788.0" width="1.2" height="1.2" fill="#2a1a0e" opacity="0.53"/><rect x="771.4" y="762.4" width="1.2" height="1.2" fill="#4a1616" opacity="0.66"/><rect x="710.3" y="768.3" width="1.2" height="1.2" fill="#2a1a0e" opacity="0.31"/><rect x="791.2" y="780.5" width="1.2" height="1.2" fill="#2a1a0e" opacity="0.38"/><rect x="721.1" y="762.4" width="1.2" height="1.2" fill="#2a1a0e" opacity="0.66"/><rect x="784.0" y="784.1" width="1.2" height="1.2" fill="#5a1c1c" opacity="0.52"/><rect x="799.7" y="775.1" width="1.2" height="1.2" fill="#4a1616" opacity="0.70"/><rect x="683.0" y="762.5" width="1.2" height="1.2" fill="#3a1010" opacity="0.39"/><rect x="910.9" y="773.3" width="1.2" height="1.2" fill="#5a1c1c" opacity="0.57"/><rect x="876.3" y="790.8" width="1.2" height="1.2" fill="#4a1616" opacity="0.70"/><rect x="849.4" y="770.6" width="1.2" height="1.2" fill="#2a1a0e" opacity="0.76"/><rect x="868.9" y="773.5" width="1.2" height="1.2" fill="#3a1010" opacity="0.60"/><rect x="668.0" y="772.9" width="1.2" height="1.2" fill="#4a1616" opacity="0.51"/><rect x="897.2" y="764.4" width="1.2" height="1.2" fill="#3a1010" opacity="0.76"/><rect x="682.9" y="774.0" width="1.2" height="1.2" fill="#5a1c1c" opacity="0.56"/><rect x="835.3" y="763.3" width="1.2" height="1.2" fill="#2a1a0e" opacity="0.62"/><rect x="807.4" y="760.1" width="1.2" height="1.2" fill="#2a1a0e" opacity="0.55"/><rect x="810.6" y="763.4" width="1.2" height="1.2" fill="#2a1a0e" opacity="0.52"/><rect x="718.4" y="776.5" width="1.2" height="1.2" fill="#5a1c1c" opacity="0.62"/><rect x="918.9" y="783.7" width="1.2" height="1.2" fill="#4a1616" opacity="0.48"/><rect x="876.1" y="782.0" width="1.2" height="1.2" fill="#3a1010" opacity="0.54"/><rect x="691.3" y="773.0" width="1.2" height="1.2" fill="#3a1010" opacity="0.38"/><rect x="748.1" y="776.1" width="1.2" height="1.2" fill="#4a1616" opacity="0.32"/><rect x="835.0" y="763.8" width="1.2" height="1.2" fill="#3a1010" opacity="0.69"/><rect x="754.7" y="771.1" width="1.2" height="1.2" fill="#3a1010" opacity="0.54"/><rect x="760.4" y="769.4" width="1.2" height="1.2" fill="#5a1c1c" opacity="0.48"/><rect x="760.6" y="768.1" width="1.2" height="1.2" fill="#2a1a0e" opacity="0.44"/><rect x="740.9" y="771.1" width="1.2" height="1.2" fill="#5a1c1c" opacity="0.74"/><rect x="729.1" y="781.5" width="1.2" height="1.2" fill="#2a1a0e" opacity="0.62"/><rect x="896.0" y="780.4" width="1.2" height="1.2" fill="#4a1616" opacity="0.43"/><rect x="736.3" y="792.7" width="1.2" height="1.2" fill="#5a1c1c" opacity="0.50"/><rect x="813.3" y="780.6" width="1.2" height="1.2" fill="#3a1010" opacity="0.65"/><rect x="788.8" y="795.1" width="1.2" height="1.2" fill="#4a1616" opacity="0.37"/><rect x="745.6" y="783.9" width="1.2" height="1.2" fill="#5a1c1c" opacity="0.75"/><rect x="670.2" y="793.8" width="1.2" height="1.2" fill="#2a1a0e" opacity="0.52"/><rect x="797.6" y="782.0" width="1.2" height="1.2" fill="#5a1c1c" opacity="0.38"/><rect x="704.9" y="773.4" width="1.2" height="1.2" fill="#4a1616" opacity="0.64"/><rect x="808.9" y="759.6" width="1.2" height="1.2" fill="#2a1a0e" opacity="0.31"/><rect x="917.3" y="777.1" width="1.2" height="1.2" fill="#3a1010" opacity="0.60"/><rect x="756.3" y="784.2" width="1.2" height="1.2" fill="#5a1c1c" opacity="0.53"/><rect x="864.3" y="759.1" width="1.2" height="1.2" fill="#5a1c1c" opacity="0.37"/><rect x="827.6" y="782.6" width="1.2" height="1.2" fill="#4a1616" opacity="0.75"/><rect x="726.5" y="774.7" width="1.2" height="1.2" fill="#4a1616" opacity="0.74"/><rect x="851.2" y="792.3" width="1.2" height="1.2" fill="#3a1010" opacity="0.35"/><rect x="702.9" y="780.3" width="1.2" height="1.2" fill="#3a1010" opacity="0.44"/><rect x="892.1" y="779.4" width="1.2" height="1.2" fill="#3a1010" opacity="0.39"/><rect x="705.0" y="778.2" width="1.2" height="1.2" fill="#2a1a0e" opacity="0.74"/><rect x="913.9" y="770.1" width="1.2" height="1.2" fill="#5a1c1c" opacity="0.52"/><rect x="871.7" y="785.8" width="1.2" height="1.2" fill="#3a1010" opacity="0.53"/><rect x="731.0" y="761.9" width="1.2" height="1.2" fill="#5a1c1c" opacity="0.74"/><rect x="751.8" y="774.3" width="1.2" height="1.2" fill="#5a1c1c" opacity="0.52"/><rect x="917.7" y="759.3" width="1.2" height="1.2" fill="#4a1616" opacity="0.35"/><rect x="719.9" y="759.9" width="1.2" height="1.2" fill="#2a1a0e" opacity="0.38"/><rect x="882.3" y="796.4" width="1.2" height="1.2" fill="#5a1c1c" opacity="0.45"/><rect x="858.8" y="779.1" width="1.2" height="1.2" fill="#4a1616" opacity="0.46"/><rect x="789.8" y="796.8" width="1.2" height="1.2" fill="#5a1c1c" opacity="0.33"/><rect x="777.3" y="793.4" width="1.2" height="1.2" fill="#4a1616" opacity="0.59"/><rect x="834.1" y="771.9" width="1.2" height="1.2" fill="#5a1c1c" opacity="0.45"/><rect x="796.0" y="769.4" width="1.2" height="1.2" fill="#3a1010" opacity="0.47"/><rect x="897.4" y="768.7" width="1.2" height="1.2" fill="#3a1010" opacity="0.61"/><rect x="917.0" y="761.9" width="1.2" height="1.2" fill="#4a1616" opacity="0.59"/><rect x="870.0" y="778.3" width="1.2" height="1.2" fill="#4a1616" opacity="0.78"/><rect x="696.3" y="784.8" width="1.2" height="1.2" fill="#3a1010" opacity="0.34"/><rect x="759.2" y="787.5" width="1.2" height="1.2" fill="#5a1c1c" opacity="0.39"/><rect x="774.8" y="763.4" width="1.2" height="1.2" fill="#2a1a0e" opacity="0.74"/><rect x="787.6" y="789.7" width="1.2" height="1.2" fill="#2a1a0e" opacity="0.63"/><rect x="892.8" y="797.3" width="1.2" height="1.2" fill="#5a1c1c" opacity="0.40"/><rect x="701.3" y="786.0" width="1.2" height="1.2" fill="#5a1c1c" opacity="0.38"/><rect x="864.5" y="759.6" width="1.2" height="1.2" fill="#3a1010" opacity="0.78"/><rect x="862.9" y="773.3" width="1.2" height="1.2" fill="#4a1616" opacity="0.56"/><rect x="697.3" y="767.1" width="1.2" height="1.2" fill="#2a1a0e" opacity="0.34"/><rect x="675.0" y="770.0" width="1.2" height="1.2" fill="#2a1a0e" opacity="0.33"/><rect x="763.6" y="791.0" width="1.2" height="1.2" fill="#2a1a0e" opacity="0.77"/><rect x="836.2" y="785.2" width="1.2" height="1.2" fill="#3a1010" opacity="0.64"/><rect x="812.4" y="784.8" width="1.2" height="1.2" fill="#2a1a0e" opacity="0.42"/><rect x="830.4" y="772.4" width="1.2" height="1.2" fill="#5a1c1c" opacity="0.75"/><rect x="762.8" y="775.6" width="1.2" height="1.2" fill="#4a1616" opacity="0.41"/><rect x="744.2" y="768.6" width="1.2" height="1.2" fill="#5a1c1c" opacity="0.51"/><rect x="703.1" y="788.2" width="1.2" height="1.2" fill="#4a1616" opacity="0.40"/><rect x="833.1" y="786.1" width="1.2" height="1.2" fill="#3a1010" opacity="0.53"/><rect x="669.2" y="762.1" width="1.2" height="1.2" fill="#3a1010" opacity="0.47"/><rect x="674.5" y="771.6" width="1.2" height="1.2" fill="#2a1a0e" opacity="0.37"/><rect x="919.4" y="790.8" width="1.2" height="1.2" fill="#2a1a0e" opacity="0.75"/><rect x="748.0" y="793.3" width="1.2" height="1.2" fill="#3a1010" opacity="0.41"/><rect x="831.3" y="769.3" width="1.2" height="1.2" fill="#5a1c1c" opacity="0.62"/><rect x="793.7" y="770.9" width="1.2" height="1.2" fill="#2a1a0e" opacity="0.79"/><rect x="734.8" y="774.9" width="1.2" height="1.2" fill="#3a1010" opacity="0.77"/><rect x="816.4" y="767.3" width="1.2" height="1.2" fill="#4a1616" opacity="0.71"/><rect x="670.0" y="783.5" width="1.2" height="1.2" fill="#3a1010" opacity="0.57"/><rect x="854.2" y="775.2" width="1.2" height="1.2" fill="#4a1616" opacity="0.63"/><rect x="710.0" y="774.6" width="1.2" height="1.2" fill="#5a1c1c" opacity="0.59"/><rect x="894.4" y="767.6" width="1.2" height="1.2" fill="#3a1010" opacity="0.30"/><rect x="674.5" y="788.2" width="1.2" height="1.2" fill="#5a1c1c" opacity="0.31"/><rect x="861.6" y="774.9" width="1.2" height="1.2" fill="#5a1c1c" opacity="0.46"/><rect x="885.5" y="787.6" width="1.2" height="1.2" fill="#5a1c1c" opacity="0.50"/><rect x="891.5" y="790.2" width="1.2" height="1.2" fill="#3a1010" opacity="0.41"/><rect x="899.6" y="773.6" width="1.2" height="1.2" fill="#5a1c1c" opacity="0.79"/><rect x="838.5" y="773.5" width="1.2" height="1.2" fill="#3a1010" opacity="0.32"/><rect x="859.1" y="773.5" width="1.2" height="1.2" fill="#4a1616" opacity="0.54"/><rect x="919.7" y="768.1" width="1.2" height="1.2" fill="#2a1a0e" opacity="0.62"/><rect x="867.4" y="786.4" width="1.2" height="1.2" fill="#4a1616" opacity="0.57"/><rect x="816.4" y="782.7" width="1.2" height="1.2" fill="#4a1616" opacity="0.75"/><rect x="905.7" y="794.7" width="1.2" height="1.2" fill="#4a1616" opacity="0.56"/><rect x="896.4" y="792.7" width="1.2" height="1.2" fill="#3a1010" opacity="0.33"/><rect x="841.7" y="783.0" width="1.2" height="1.2" fill="#5a1c1c" opacity="0.46"/><rect x="915.7" y="788.1" width="1.2" height="1.2" fill="#5a1c1c" opacity="0.50"/><rect x="852.2" y="769.7" width="1.2" height="1.2" fill="#2a1a0e" opacity="0.53"/><rect x="798.4" y="795.3" width="1.2" height="1.2" fill="#3a1010" opacity="0.75"/><rect x="840.3" y="795.7" width="1.2" height="1.2" fill="#3a1010" opacity="0.45"/><rect x="704.6" y="789.6" width="1.2" height="1.2" fill="#2a1a0e" opacity="0.74"/><rect x="754.9" y="784.0" width="1.2" height="1.2" fill="#5a1c1c" opacity="0.73"/><rect x="738.4" y="776.6" width="1.2" height="1.2" fill="#5a1c1c" opacity="0.50"/><rect x="752.2" y="759.6" width="1.2" height="1.2" fill="#3a1010" opacity="0.69"/><rect x="676.9" y="793.2" width="1.2" height="1.2" fill="#5a1c1c" opacity="0.50"/><rect x="911.2" y="769.7" width="1.2" height="1.2" fill="#2a1a0e" opacity="0.60"/><rect x="817.9" y="782.2" width="1.2" height="1.2" fill="#3a1010" opacity="0.75"/><rect x="695.8" y="776.8" width="1.2" height="1.2" fill="#3a1010" opacity="0.66"/><rect x="867.4" y="769.1" width="1.2" height="1.2" fill="#4a1616" opacity="0.53"/><rect x="890.4" y="765.6" width="1.2" height="1.2" fill="#4a1616" opacity="0.63"/><rect x="905.7" y="770.4" width="1.2" height="1.2" fill="#5a1c1c" opacity="0.34"/><rect x="902.2" y="769.6" width="1.2" height="1.2" fill="#5a1c1c" opacity="0.69"/><rect x="900.0" y="764.0" width="1.2" height="1.2" fill="#4a1616" opacity="0.33"/><rect x="702.8" y="763.7" width="1.2" height="1.2" fill="#5a1c1c" opacity="0.73"/><rect x="844.4" y="764.9" width="1.2" height="1.2" fill="#5a1c1c" opacity="0.79"/><rect x="854.8" y="790.4" width="1.2" height="1.2" fill="#3a1010" opacity="0.34"/><rect x="879.3" y="796.4" width="1.2" height="1.2" fill="#3a1010" opacity="0.57"/><rect x="784.0" y="773.0" width="1.2" height="1.2" fill="#5a1c1c" opacity="0.73"/><rect x="890.5" y="790.4" width="1.2" height="1.2" fill="#2a1a0e" opacity="0.41"/><rect x="678.8" y="759.8" width="1.2" height="1.2" fill="#5a1c1c" opacity="0.56"/><rect x="693.3" y="770.8" width="1.2" height="1.2" fill="#4a1616" opacity="0.42"/><rect x="779.4" y="763.8" width="1.2" height="1.2" fill="#4a1616" opacity="0.52"/><rect x="849.5" y="774.1" width="1.2" height="1.2" fill="#2a1a0e" opacity="0.64"/><rect x="788.3" y="782.7" width="1.2" height="1.2" fill="#4a1616" opacity="0.67"/><rect x="703.9" y="775.1" width="1.2" height="1.2" fill="#5a1c1c" opacity="0.34"/><rect x="882.2" y="775.5" width="1.2" height="1.2" fill="#5a1c1c" opacity="0.49"/><rect x="830.0" y="785.6" width="1.2" height="1.2" fill="#4a1616" opacity="0.71"/><rect x="710.0" y="761.6" width="1.2" height="1.2" fill="#3a1010" opacity="0.50"/><rect x="883.2" y="781.7" width="1.2" height="1.2" fill="#2a1a0e" opacity="0.61"/><rect x="668.4" y="792.3" width="1.2" height="1.2" fill="#4a1616" opacity="0.31"/><rect x="849.3" y="778.2" width="1.2" height="1.2" fill="#5a1c1c" opacity="0.51"/><rect x="734.0" y="797.4" width="1.2" height="1.2" fill="#2a1a0e" opacity="0.64"/><rect x="707.3" y="782.5" width="1.2" height="1.2" fill="#3a1010" opacity="0.46"/><rect x="791.3" y="789.0" width="1.2" height="1.2" fill="#4a1616" opacity="0.64"/><rect x="746.7" y="793.6" width="1.2" height="1.2" fill="#3a1010" opacity="0.53"/><rect x="803.4" y="795.5" width="1.2" height="1.2" fill="#4a1616" opacity="0.54"/><rect x="796.1" y="770.8" width="1.2" height="1.2" fill="#2a1a0e" opacity="0.49"/><rect x="770.7" y="776.9" width="1.2" height="1.2" fill="#5a1c1c" opacity="0.56"/><rect x="687.1" y="785.3" width="1.2" height="1.2" fill="#3a1010" opacity="0.32"/><rect x="791.3" y="784.5" width="1.2" height="1.2" fill="#4a1616" opacity="0.77"/><rect x="895.2" y="778.2" width="1.2" height="1.2" fill="#2a1a0e" opacity="0.63"/><rect x="893.4" y="774.4" width="1.2" height="1.2" fill="#4a1616" opacity="0.46"/><rect x="680.8" y="759.4" width="1.2" height="1.2" fill="#4a1616" opacity="0.63"/><rect x="671.0" y="790.7" width="1.2" height="1.2" fill="#4a1616" opacity="0.54"/><rect x="728.5" y="774.0" width="1.2" height="1.2" fill="#2a1a0e" opacity="0.52"/><rect x="803.5" y="759.5" width="1.2" height="1.2" fill="#3a1010" opacity="0.52"/><rect x="833.6" y="785.3" width="1.2" height="1.2" fill="#2a1a0e" opacity="0.38"/><rect x="732.1" y="782.1" width="1.2" height="1.2" fill="#2a1a0e" opacity="0.57"/><rect x="856.8" y="766.7" width="1.2" height="1.2" fill="#4a1616" opacity="0.53"/><rect x="725.0" y="796.1" width="1.2" height="1.2" fill="#2a1a0e" opacity="0.79"/><rect x="915.6" y="773.7" width="1.2" height="1.2" fill="#2a1a0e" opacity="0.53"/><rect x="696.5" y="768.6" width="1.2" height="1.2" fill="#3a1010" opacity="0.62"/><rect x="816.4" y="778.9" width="1.2" height="1.2" fill="#4a1616" opacity="0.61"/><rect x="715.1" y="780.8" width="1.2" height="1.2" fill="#4a1616" opacity="0.39"/><rect x="798.1" y="765.9" width="1.2" height="1.2" fill="#4a1616" opacity="0.62"/><rect x="906.6" y="769.6" width="1.2" height="1.2" fill="#3a1010" opacity="0.42"/><rect x="813.4" y="794.0" width="1.2" height="1.2" fill="#4a1616" opacity="0.54"/><rect x="741.5" y="770.3" width="1.2" height="1.2" fill="#5a1c1c" opacity="0.46"/><rect x="824.8" y="774.6" width="1.2" height="1.2" fill="#2a1a0e" opacity="0.35"/><rect x="803.1" y="768.0" width="1.2" height="1.2" fill="#5a1c1c" opacity="0.61"/><rect x="757.6" y="791.8" width="1.2" height="1.2" fill="#5a1c1c" opacity="0.73"/><rect x="914.4" y="782.8" width="1.2" height="1.2" fill="#5a1c1c" opacity="0.42"/><rect x="812.4" y="772.5" width="1.2" height="1.2" fill="#3a1010" opacity="0.53"/><rect x="723.4" y="777.2" width="1.2" height="1.2" fill="#5a1c1c" opacity="0.47"/><rect x="906.7" y="776.8" width="1.2" height="1.2" fill="#3a1010" opacity="0.55"/><rect x="836.3" y="794.3" width="1.2" height="1.2" fill="#4a1616" opacity="0.59"/><rect x="778.8" y="768.1" width="1.2" height="1.2" fill="#4a1616" opacity="0.38"/><rect x="775.9" y="763.6" width="1.2" height="1.2" fill="#5a1c1c" opacity="0.61"/><rect x="668.1" y="782.1" width="1.2" height="1.2" fill="#4a1616" opacity="0.73"/><rect x="913.7" y="763.0" width="1.2" height="1.2" fill="#2a1a0e" opacity="0.41"/><rect x="897.1" y="777.6" width="1.2" height="1.2" fill="#3a1010" opacity="0.40"/><rect x="690.7" y="775.1" width="1.2" height="1.2" fill="#4a1616" opacity="0.59"/><rect x="686.4" y="786.8" width="1.2" height="1.2" fill="#5a1c1c" opacity="0.72"/><rect x="782.8" y="793.0" width="1.2" height="1.2" fill="#2a1a0e" opacity="0.31"/><rect x="715.5" y="782.7" width="1.2" height="1.2" fill="#2a1a0e" opacity="0.60"/><rect x="836.3" y="761.6" width="1.2" height="1.2" fill="#2a1a0e" opacity="0.44"/><rect x="903.2" y="760.9" width="1.2" height="1.2" fill="#4a1616" opacity="0.44"/><rect x="824.6" y="780.9" width="1.2" height="1.2" fill="#4a1616" opacity="0.52"/><rect x="893.6" y="781.9" width="1.2" height="1.2" fill="#5a1c1c" opacity="0.67"/><rect x="904.7" y="783.3" width="1.2" height="1.2" fill="#2a1a0e" opacity="0.76"/><rect x="699.5" y="778.4" width="1.2" height="1.2" fill="#3a1010" opacity="0.52"/><rect x="712.2" y="794.1" width="1.2" height="1.2" fill="#5a1c1c" opacity="0.74"/><rect x="767.3" y="763.1" width="1.2" height="1.2" fill="#3a1010" opacity="0.60"/><rect x="864.6" y="794.2" width="1.2" height="1.2" fill="#3a1010" opacity="0.78"/><rect x="887.9" y="778.1" width="1.2" height="1.2" fill="#5a1c1c" opacity="0.78"/><rect x="882.9" y="777.0" width="1.2" height="1.2" fill="#3a1010" opacity="0.77"/><rect x="685.7" y="773.4" width="1.2" height="1.2" fill="#4a1616" opacity="0.54"/><rect x="870.6" y="781.4" width="1.2" height="1.2" fill="#5a1c1c" opacity="0.73"/><rect x="820.8" y="765.5" width="1.2" height="1.2" fill="#2a1a0e" opacity="0.75"/><rect x="751.8" y="787.2" width="1.2" height="1.2" fill="#2a1a0e" opacity="0.67"/><rect x="718.6" y="790.7" width="1.2" height="1.2" fill="#3a1010" opacity="0.79"/><rect x="683.5" y="794.9" width="1.2" height="1.2" fill="#2a1a0e" opacity="0.41"/><rect x="915.7" y="797.2" width="1.2" height="1.2" fill="#4a1616" opacity="0.48"/><rect x="814.9" y="781.8" width="1.2" height="1.2" fill="#2a1a0e" opacity="0.50"/><rect x="880.7" y="762.3" width="1.2" height="1.2" fill="#2a1a0e" opacity="0.78"/><rect x="814.9" y="777.7" width="1.2" height="1.2" fill="#3a1010" opacity="0.51"/><rect x="842.6" y="778.3" width="1.2" height="1.2" fill="#5a1c1c" opacity="0.32"/><rect x="841.7" y="788.8" width="1.2" height="1.2" fill="#5a1c1c" opacity="0.65"/><rect x="872.0" y="788.2" width="1.2" height="1.2" fill="#3a1010" opacity="0.68"/><rect x="903.9" y="765.1" width="1.2" height="1.2" fill="#3a1010" opacity="0.74"/><rect x="683.1" y="782.0" width="1.2" height="1.2" fill="#5a1c1c" opacity="0.35"/><rect x="697.3" y="762.6" width="1.2" height="1.2" fill="#4a1616" opacity="0.44"/><rect x="843.1" y="794.6" width="1.2" height="1.2" fill="#5a1c1c" opacity="0.30"/><rect x="802.2" y="775.9" width="1.2" height="1.2" fill="#4a1616" opacity="0.31"/><rect x="769.1" y="783.1" width="1.2" height="1.2" fill="#2a1a0e" opacity="0.77"/><rect x="718.0" y="770.8" width="1.2" height="1.2" fill="#3a1010" opacity="0.49"/><rect x="678.2" y="761.0" width="1.2" height="1.2" fill="#2a1a0e" opacity="0.40"/><rect x="703.5" y="767.4" width="1.2" height="1.2" fill="#4a1616" opacity="0.68"/><rect x="855.4" y="781.8" width="1.2" height="1.2" fill="#4a1616" opacity="0.31"/><rect x="810.3" y="779.3" width="1.2" height="1.2" fill="#4a1616" opacity="0.35"/><rect x="846.7" y="790.5" width="1.2" height="1.2" fill="#3a1010" opacity="0.65"/><rect x="793.9" y="773.0" width="1.2" height="1.2" fill="#4a1616" opacity="0.50"/><rect x="884.8" y="794.7" width="1.2" height="1.2" fill="#3a1010" opacity="0.33"/><rect x="844.1" y="794.0" width="1.2" height="1.2" fill="#2a1a0e" opacity="0.69"/><rect x="877.7" y="790.6" width="1.2" height="1.2" fill="#4a1616" opacity="0.62"/><rect x="787.2" y="790.1" width="1.2" height="1.2" fill="#2a1a0e" opacity="0.75"/><rect x="781.9" y="771.1" width="1.2" height="1.2" fill="#2a1a0e" opacity="0.46"/><rect x="866.4" y="782.2" width="1.2" height="1.2" fill="#5a1c1c" opacity="0.46"/><rect x="730.2" y="793.8" width="1.2" height="1.2" fill="#2a1a0e" opacity="0.68"/><rect x="882.4" y="792.9" width="1.2" height="1.2" fill="#2a1a0e" opacity="0.67"/><rect x="726.3" y="775.8" width="1.2" height="1.2" fill="#4a1616" opacity="0.68"/><rect x="900.4" y="790.7" width="1.2" height="1.2" fill="#2a1a0e" opacity="0.77"/><rect x="916.6" y="796.9" width="1.2" height="1.2" fill="#5a1c1c" opacity="0.44"/><rect x="715.4" y="769.7" width="1.2" height="1.2" fill="#2a1a0e" opacity="0.45"/><rect x="787.9" y="784.5" width="1.2" height="1.2" fill="#5a1c1c" opacity="0.36"/><rect x="892.2" y="787.5" width="1.2" height="1.2" fill="#2a1a0e" opacity="0.61"/><rect x="755.4" y="780.8" width="1.2" height="1.2" fill="#3a1010" opacity="0.35"/><rect x="883.9" y="777.3" width="1.2" height="1.2" fill="#2a1a0e" opacity="0.67"/><rect x="851.8" y="794.2" width="1.2" height="1.2" fill="#4a1616" opacity="0.56"/><rect x="910.4" y="764.5" width="1.2" height="1.2" fill="#3a1010" opacity="0.36"/><rect x="719.1" y="775.9" width="1.2" height="1.2" fill="#5a1c1c" opacity="0.55"/><rect x="795.8" y="765.5" width="1.2" height="1.2" fill="#2a1a0e" opacity="0.31"/><rect x="676.5" y="760.9" width="1.2" height="1.2" fill="#4a1616" opacity="0.64"/><rect x="779.8" y="785.3" width="1.2" height="1.2" fill="#4a1616" opacity="0.40"/><rect x="865.0" y="768.6" width="1.2" height="1.2" fill="#5a1c1c" opacity="0.33"/><rect x="862.4" y="795.9" width="1.2" height="1.2" fill="#2a1a0e" opacity="0.34"/><rect x="734.9" y="771.5" width="1.2" height="1.2" fill="#5a1c1c" opacity="0.50"/><rect x="891.9" y="789.3" width="1.2" height="1.2" fill="#3a1010" opacity="0.62"/><rect x="885.8" y="765.5" width="1.2" height="1.2" fill="#4a1616" opacity="0.39"/><rect x="896.2" y="761.2" width="1.2" height="1.2" fill="#4a1616" opacity="0.36"/><rect x="822.6" y="773.3" width="1.2" height="1.2" fill="#5a1c1c" opacity="0.62"/><rect x="891.0" y="769.0" width="1.2" height="1.2" fill="#5a1c1c" opacity="0.68"/><rect x="879.3" y="790.7" width="1.2" height="1.2" fill="#3a1010" opacity="0.50"/><rect x="920.5" y="797.1" width="1.2" height="1.2" fill="#2a1a0e" opacity="0.43"/><rect x="733.7" y="782.0" width="1.2" height="1.2" fill="#5a1c1c" opacity="0.79"/><rect x="884.5" y="767.4" width="1.2" height="1.2" fill="#3a1010" opacity="0.31"/><rect x="910.4" y="779.3" width="1.2" height="1.2" fill="#5a1c1c" opacity="0.41"/><rect x="818.2" y="769.2" width="1.2" height="1.2" fill="#5a1c1c" opacity="0.50"/><rect x="737.8" y="782.3" width="1.2" height="1.2" fill="#5a1c1c" opacity="0.75"/><rect x="756.0" y="780.9" width="1.2" height="1.2" fill="#3a1010" opacity="0.60"/><rect x="776.9" y="797.0" width="1.2" height="1.2" fill="#4a1616" opacity="0.51"/><rect x="703.2" y="763.0" width="1.2" height="1.2" fill="#5a1c1c" opacity="0.62"/><rect x="772.1" y="779.7" width="1.2" height="1.2" fill="#5a1c1c" opacity="0.61"/><rect x="693.0" y="785.3" width="1.2" height="1.2" fill="#3a1010" opacity="0.56"/><rect x="876.3" y="759.4" width="1.2" height="1.2" fill="#4a1616" opacity="0.68"/><rect x="882.3" y="777.5" width="1.2" height="1.2" fill="#4a1616" opacity="0.50"/><rect x="854.0" y="789.2" width="1.2" height="1.2" fill="#5a1c1c" opacity="0.71"/><rect x="794.9" y="765.1" width="1.2" height="1.2" fill="#2a1a0e" opacity="0.66"/><rect x="872.0" y="796.7" width="1.2" height="1.2" fill="#5a1c1c" opacity="0.31"/><rect x="906.3" y="767.1" width="1.2" height="1.2" fill="#2a1a0e" opacity="0.45"/><rect x="699.3" y="777.6" width="1.2" height="1.2" fill="#4a1616" opacity="0.33"/><rect x="790.5" y="771.9" width="1.2" height="1.2" fill="#5a1c1c" opacity="0.76"/><rect x="848.7" y="783.2" width="1.2" height="1.2" fill="#3a1010" opacity="0.75"/><rect x="780.3" y="794.6" width="1.2" height="1.2" fill="#3a1010" opacity="0.52"/><rect x="669.4" y="794.6" width="1.2" height="1.2" fill="#4a1616" opacity="0.67"/><rect x="906.0" y="771.7" width="1.2" height="1.2" fill="#3a1010" opacity="0.60"/><rect x="856.5" y="782.1" width="1.2" height="1.2" fill="#4a1616" opacity="0.54"/><rect x="900.7" y="763.4" width="1.2" height="1.2" fill="#4a1616" opacity="0.65"/><rect x="898.1" y="770.5" width="1.2" height="1.2" fill="#4a1616" opacity="0.36"/><rect x="911.9" y="760.7" width="1.2" height="1.2" fill="#4a1616" opacity="0.54"/><rect x="884.7" y="763.1" width="1.2" height="1.2" fill="#2a1a0e" opacity="0.63"/><rect x="902.5" y="772.6" width="1.2" height="1.2" fill="#2a1a0e" opacity="0.69"/><rect x="687.6" y="761.4" width="1.2" height="1.2" fill="#5a1c1c" opacity="0.30"/><rect x="861.9" y="782.4" width="1.2" height="1.2" fill="#5a1c1c" opacity="0.76"/><rect x="917.4" y="761.2" width="1.2" height="1.2" fill="#3a1010" opacity="0.70"/><rect x="914.1" y="789.2" width="1.2" height="1.2" fill="#3a1010" opacity="0.37"/><rect x="790.1" y="780.3" width="1.2" height="1.2" fill="#4a1616" opacity="0.31"/><rect x="734.3" y="784.6" width="1.2" height="1.2" fill="#4a1616" opacity="0.45"/><rect x="738.9" y="780.2" width="1.2" height="1.2" fill="#5a1c1c" opacity="0.62"/><rect x="791.8" y="791.9" width="1.2" height="1.2" fill="#2a1a0e" opacity="0.61"/><rect x="870.0" y="788.5" width="1.2" height="1.2" fill="#5a1c1c" opacity="0.54"/><rect x="822.4" y="778.6" width="1.2" height="1.2" fill="#3a1010" opacity="0.76"/><rect x="900.6" y="763.3" width="1.2" height="1.2" fill="#3a1010" opacity="0.38"/><rect x="838.8" y="761.5" width="1.2" height="1.2" fill="#4a1616" opacity="0.33"/><rect x="793.1" y="765.0" width="1.2" height="1.2" fill="#2a1a0e" opacity="0.78"/><rect x="793.9" y="764.3" width="1.2" height="1.2" fill="#3a1010" opacity="0.35"/><rect x="799.4" y="775.2" width="1.2" height="1.2" fill="#2a1a0e" opacity="0.67"/><rect x="835.1" y="795.4" width="1.2" height="1.2" fill="#2a1a0e" opacity="0.37"/><rect x="827.1" y="784.9" width="1.2" height="1.2" fill="#3a1010" opacity="0.50"/><rect x="814.2" y="789.0" width="1.2" height="1.2" fill="#3a1010" opacity="0.55"/><rect x="742.8" y="781.5" width="1.2" height="1.2" fill="#5a1c1c" opacity="0.59"/><rect x="682.3" y="769.6" width="1.2" height="1.2" fill="#3a1010" opacity="0.43"/><rect x="852.5" y="777.2" width="1.2" height="1.2" fill="#4a1616" opacity="0.39"/><rect x="708.7" y="762.4" width="1.2" height="1.2" fill="#4a1616" opacity="0.47"/><rect x="838.3" y="793.4" width="1.2" height="1.2" fill="#4a1616" opacity="0.76"/><rect x="879.3" y="782.7" width="1.2" height="1.2" fill="#2a1a0e" opacity="0.36"/><rect x="867.8" y="792.1" width="1.2" height="1.2" fill="#2a1a0e" opacity="0.38"/><rect x="666.4" y="764.0" width="1.2" height="1.2" fill="#5a1c1c" opacity="0.74"/><rect x="757.0" y="763.1" width="1.2" height="1.2" fill="#4a1616" opacity="0.54"/><rect x="891.9" y="793.1" width="1.2" height="1.2" fill="#5a1c1c" opacity="0.75"/><rect x="863.6" y="763.5" width="1.2" height="1.2" fill="#2a1a0e" opacity="0.52"/><rect x="681.6" y="784.3" width="1.2" height="1.2" fill="#4a1616" opacity="0.32"/><rect x="780.6" y="785.8" width="1.2" height="1.2" fill="#5a1c1c" opacity="0.65"/><rect x="822.0" y="786.4" width="1.2" height="1.2" fill="#2a1a0e" opacity="0.56"/><rect x="905.7" y="791.1" width="1.2" height="1.2" fill="#3a1010" opacity="0.43"/><rect x="692.2" y="793.8" width="1.2" height="1.2" fill="#2a1a0e" opacity="0.53"/><rect x="679.9" y="790.0" width="1.2" height="1.2" fill="#4a1616" opacity="0.44"/><rect x="884.8" y="787.9" width="1.2" height="1.2" fill="#2a1a0e" opacity="0.61"/><rect x="894.8" y="769.6" width="1.2" height="1.2" fill="#4a1616" opacity="0.54"/><rect x="901.8" y="760.3" width="1.2" height="1.2" fill="#2a1a0e" opacity="0.72"/><rect x="710.1" y="779.0" width="1.2" height="1.2" fill="#3a1010" opacity="0.37"/><rect x="734.4" y="780.5" width="1.2" height="1.2" fill="#5a1c1c" opacity="0.34"/><rect x="724.1" y="786.7" width="1.2" height="1.2" fill="#4a1616" opacity="0.69"/><rect x="912.2" y="792.2" width="1.2" height="1.2" fill="#5a1c1c" opacity="0.58"/><rect x="684.9" y="770.8" width="1.2" height="1.2" fill="#4a1616" opacity="0.49"/><rect x="811.3" y="771.8" width="1.2" height="1.2" fill="#5a1c1c" opacity="0.56"/><rect x="875.0" y="763.0" width="1.2" height="1.2" fill="#3a1010" opacity="0.32"/><rect x="870.7" y="790.9" width="1.2" height="1.2" fill="#5a1c1c" opacity="0.61"/><rect x="897.8" y="782.3" width="1.2" height="1.2" fill="#5a1c1c" opacity="0.72"/><rect x="881.0" y="763.5" width="1.2" height="1.2" fill="#5a1c1c" opacity="0.60"/><rect x="758.9" y="790.3" width="1.2" height="1.2" fill="#3a1010" opacity="0.57"/><rect x="719.5" y="770.2" width="1.2" height="1.2" fill="#5a1c1c" opacity="0.41"/><rect x="867.6" y="772.6" width="1.2" height="1.2" fill="#5a1c1c" opacity="0.33"/><rect x="815.6" y="794.7" width="1.2" height="1.2" fill="#2a1a0e" opacity="0.32"/><rect x="813.4" y="772.3" width="1.2" height="1.2" fill="#2a1a0e" opacity="0.70"/><rect x="826.9" y="759.5" width="1.2" height="1.2" fill="#2a1a0e" opacity="0.35"/><rect x="874.3" y="776.5" width="1.2" height="1.2" fill="#2a1a0e" opacity="0.31"/><rect x="817.8" y="760.5" width="1.2" height="1.2" fill="#2a1a0e" opacity="0.66"/><rect x="897.9" y="767.7" width="1.2" height="1.2" fill="#4a1616" opacity="0.73"/><rect x="779.5" y="788.8" width="1.2" height="1.2" fill="#4a1616" opacity="0.41"/><rect x="888.6" y="773.4" width="1.2" height="1.2" fill="#4a1616" opacity="0.68"/><rect x="724.4" y="781.1" width="1.2" height="1.2" fill="#5a1c1c" opacity="0.80"/><rect x="876.3" y="794.8" width="1.2" height="1.2" fill="#5a1c1c" opacity="0.68"/><rect x="670.8" y="786.1" width="1.2" height="1.2" fill="#5a1c1c" opacity="0.62"/><rect x="813.9" y="772.1" width="1.2" height="1.2" fill="#2a1a0e" opacity="0.37"/><rect x="775.5" y="791.4" width="1.2" height="1.2" fill="#3a1010" opacity="0.80"/><rect x="726.1" y="774.1" width="1.2" height="1.2" fill="#4a1616" opacity="0.45"/><rect x="746.1" y="786.6" width="1.2" height="1.2" fill="#4a1616" opacity="0.30"/><rect x="862.5" y="768.5" width="1.2" height="1.2" fill="#5a1c1c" opacity="0.44"/><rect x="770.5" y="774.1" width="1.2" height="1.2" fill="#2a1a0e" opacity="0.31"/><rect x="909.3" y="793.4" width="1.2" height="1.2" fill="#2a1a0e" opacity="0.78"/><rect x="852.3" y="780.3" width="1.2" height="1.2" fill="#5a1c1c" opacity="0.76"/><rect x="868.3" y="782.0" width="1.2" height="1.2" fill="#3a1010" opacity="0.72"/><rect x="726.9" y="794.4" width="1.2" height="1.2" fill="#5a1c1c" opacity="0.57"/><rect x="684.1" y="778.5" width="1.2" height="1.2" fill="#4a1616" opacity="0.48"/><rect x="705.6" y="796.4" width="1.2" height="1.2" fill="#3a1010" opacity="0.64"/><rect x="695.6" y="769.4" width="1.2" height="1.2" fill="#4a1616" opacity="0.78"/><rect x="880.3" y="783.8" width="1.2" height="1.2" fill="#2a1a0e" opacity="0.65"/><rect x="868.9" y="772.5" width="1.2" height="1.2" fill="#5a1c1c" opacity="0.51"/><rect x="815.2" y="792.8" width="1.2" height="1.2" fill="#5a1c1c" opacity="0.57"/><rect x="850.9" y="774.6" width="1.2" height="1.2" fill="#3a1010" opacity="0.46"/><rect x="898.7" y="773.9" width="1.2" height="1.2" fill="#3a1010" opacity="0.63"/><rect x="680.1" y="776.9" width="1.2" height="1.2" fill="#3a1010" opacity="0.66"/><rect x="841.8" y="763.7" width="1.2" height="1.2" fill="#4a1616" opacity="0.31"/><rect x="694.6" y="771.9" width="1.2" height="1.2" fill="#4a1616" opacity="0.42"/><rect x="875.4" y="784.4" width="1.2" height="1.2" fill="#4a1616" opacity="0.41"/><rect x="760.2" y="782.3" width="1.2" height="1.2" fill="#5a1c1c" opacity="0.47"/><rect x="673.8" y="788.1" width="1.2" height="1.2" fill="#3a1010" opacity="0.69"/><rect x="704.6" y="769.0" width="1.2" height="1.2" fill="#2a1a0e" opacity="0.60"/><rect x="729.8" y="774.0" width="1.2" height="1.2" fill="#2a1a0e" opacity="0.31"/><rect x="750.3" y="782.1" width="1.2" height="1.2" fill="#4a1616" opacity="0.46"/><rect x="754.5" y="764.4" width="1.2" height="1.2" fill="#3a1010" opacity="0.79"/><rect x="722.9" y="783.2" width="1.2" height="1.2" fill="#3a1010" opacity="0.68"/><rect x="769.0" y="761.7" width="1.2" height="1.2" fill="#2a1a0e" opacity="0.68"/><rect x="909.6" y="796.4" width="1.2" height="1.2" fill="#2a1a0e" opacity="0.55"/><rect x="915.8" y="796.0" width="1.2" height="1.2" fill="#2a1a0e" opacity="0.41"/><rect x="687.3" y="772.6" width="1.2" height="1.2" fill="#2a1a0e" opacity="0.65"/><rect x="666.3" y="775.9" width="1.2" height="1.2" fill="#3a1010" opacity="0.58"/><rect x="693.0" y="795.0" width="1.2" height="1.2" fill="#5a1c1c" opacity="0.61"/><rect x="671.7" y="779.3" width="1.2" height="1.2" fill="#3a1010" opacity="0.74"/><rect x="844.4" y="776.6" width="1.2" height="1.2" fill="#2a1a0e" opacity="0.33"/><rect x="731.6" y="797.4" width="1.2" height="1.2" fill="#5a1c1c" opacity="0.76"/><rect x="907.0" y="777.9" width="1.2" height="1.2" fill="#4a1616" opacity="0.69"/><rect x="781.2" y="787.9" width="1.2" height="1.2" fill="#2a1a0e" opacity="0.68"/><rect x="698.0" y="788.7" width="1.2" height="1.2" fill="#4a1616" opacity="0.65"/><rect x="759.8" y="789.0" width="1.2" height="1.2" fill="#5a1c1c" opacity="0.79"/><rect x="711.8" y="770.8" width="1.2" height="1.2" fill="#5a1c1c" opacity="0.39"/><rect x="840.2" y="782.6" width="1.2" height="1.2" fill="#5a1c1c" opacity="0.65"/><rect x="820.8" y="772.3" width="1.2" height="1.2" fill="#4a1616" opacity="0.35"/><rect x="693.8" y="762.7" width="1.2" height="1.2" fill="#2a1a0e" opacity="0.67"/><rect x="870.7" y="759.2" width="1.2" height="1.2" fill="#4a1616" opacity="0.32"/><rect x="868.8" y="763.7" width="1.2" height="1.2" fill="#4a1616" opacity="0.39"/><rect x="730.0" y="763.0" width="1.2" height="1.2" fill="#2a1a0e" opacity="0.31"/><rect x="855.0" y="762.9" width="1.2" height="1.2" fill="#2a1a0e" opacity="0.65"/><rect x="760.3" y="780.6" width="1.2" height="1.2" fill="#3a1010" opacity="0.73"/><rect x="836.7" y="761.1" width="1.2" height="1.2" fill="#2a1a0e" opacity="0.77"/><rect x="868.6" y="786.1" width="1.2" height="1.2" fill="#4a1616" opacity="0.78"/><rect x="714.9" y="768.8" width="1.2" height="1.2" fill="#2a1a0e" opacity="0.75"/><rect x="804.2" y="779.2" width="1.2" height="1.2" fill="#4a1616" opacity="0.69"/><rect x="851.2" y="770.8" width="1.2" height="1.2" fill="#3a1010" opacity="0.37"/><rect x="802.9" y="794.2" width="1.2" height="1.2" fill="#3a1010" opacity="0.65"/><rect x="700.7" y="770.5" width="1.2" height="1.2" fill="#4a1616" opacity="0.40"/><rect x="785.1" y="769.0" width="1.2" height="1.2" fill="#4a1616" opacity="0.49"/><rect x="838.0" y="775.3" width="1.2" height="1.2" fill="#2a1a0e" opacity="0.38"/><rect x="892.6" y="792.2" width="1.2" height="1.2" fill="#2a1a0e" opacity="0.68"/><rect x="792.9" y="794.4" width="1.2" height="1.2" fill="#2a1a0e" opacity="0.67"/><rect x="903.8" y="783.2" width="1.2" height="1.2" fill="#2a1a0e" opacity="0.76"/><rect x="835.2" y="759.5" width="1.2" height="1.2" fill="#2a1a0e" opacity="0.37"/><rect x="698.0" y="772.0" width="1.2" height="1.2" fill="#2a1a0e" opacity="0.75"/><rect x="850.1" y="787.1" width="1.2" height="1.2" fill="#5a1c1c" opacity="0.65"/><rect x="893.9" y="779.1" width="1.2" height="1.2" fill="#5a1c1c" opacity="0.44"/><rect x="701.6" y="771.2" width="1.2" height="1.2" fill="#4a1616" opacity="0.59"/><rect x="844.1" y="782.2" width="1.2" height="1.2" fill="#2a1a0e" opacity="0.44"/><rect x="707.9" y="759.5" width="1.2" height="1.2" fill="#5a1c1c" opacity="0.55"/><rect x="885.3" y="767.6" width="1.2" height="1.2" fill="#3a1010" opacity="0.71"/><rect x="903.2" y="765.5" width="1.2" height="1.2" fill="#3a1010" opacity="0.79"/><rect x="695.1" y="771.7" width="1.2" height="1.2" fill="#2a1a0e" opacity="0.41"/><rect x="791.2" y="771.4" width="1.2" height="1.2" fill="#2a1a0e" opacity="0.51"/><rect x="758.1" y="784.2" width="1.2" height="1.2" fill="#5a1c1c" opacity="0.42"/><rect x="885.8" y="790.2" width="1.2" height="1.2" fill="#5a1c1c" opacity="0.54"/><rect x="748.4" y="783.8" width="1.2" height="1.2" fill="#5a1c1c" opacity="0.38"/><rect x="707.0" y="769.7" width="1.2" height="1.2" fill="#4a1616" opacity="0.74"/><rect x="797.0" y="790.2" width="1.2" height="1.2" fill="#2a1a0e" opacity="0.76"/><rect x="701.3" y="771.1" width="1.2" height="1.2" fill="#2a1a0e" opacity="0.49"/><rect x="691.5" y="769.7" width="1.2" height="1.2" fill="#3a1010" opacity="0.73"/><rect x="894.0" y="794.8" width="1.2" height="1.2" fill="#3a1010" opacity="0.40"/><rect x="733.0" y="760.4" width="1.2" height="1.2" fill="#4a1616" opacity="0.31"/><rect x="901.8" y="766.2" width="1.2" height="1.2" fill="#2a1a0e" opacity="0.61"/><rect x="714.1" y="763.4" width="1.2" height="1.2" fill="#2a1a0e" opacity="0.56"/><rect x="667.2" y="796.8" width="1.2" height="1.2" fill="#5a1c1c" opacity="0.31"/><rect x="797.1" y="776.6" width="1.2" height="1.2" fill="#5a1c1c" opacity="0.69"/><rect x="715.9" y="766.2" width="1.2" height="1.2" fill="#3a1010" opacity="0.31"/><rect x="725.6" y="796.4" width="1.2" height="1.2" fill="#4a1616" opacity="0.50"/><rect x="792.2" y="791.7" width="1.2" height="1.2" fill="#2a1a0e" opacity="0.52"/><rect x="826.1" y="780.1" width="1.2" height="1.2" fill="#2a1a0e" opacity="0.76"/><rect x="845.4" y="771.5" width="1.2" height="1.2" fill="#4a1616" opacity="0.62"/><rect x="738.5" y="793.7" width="1.2" height="1.2" fill="#4a1616" opacity="0.58"/><rect x="854.0" y="777.3" width="1.2" height="1.2" fill="#5a1c1c" opacity="0.43"/><rect x="857.1" y="779.6" width="1.2" height="1.2" fill="#4a1616" opacity="0.63"/><rect x="856.8" y="766.1" width="1.2" height="1.2" fill="#3a1010" opacity="0.63"/><rect x="668.5" y="767.7" width="1.2" height="1.2" fill="#5a1c1c" opacity="0.46"/><rect x="754.9" y="781.1" width="1.2" height="1.2" fill="#5a1c1c" opacity="0.48"/><rect x="780.0" y="776.7" width="1.2" height="1.2" fill="#4a1616" opacity="0.42"/><rect x="744.3" y="785.5" width="1.2" height="1.2" fill="#4a1616" opacity="0.61"/><rect x="672.0" y="784.5" width="1.2" height="1.2" fill="#2a1a0e" opacity="0.49"/><rect x="739.4" y="765.8" width="1.2" height="1.2" fill="#5a1c1c" opacity="0.58"/><rect x="914.4" y="765.1" width="1.2" height="1.2" fill="#4a1616" opacity="0.31"/><rect x="867.7" y="792.2" width="1.2" height="1.2" fill="#2a1a0e" opacity="0.74"/><rect x="901.5" y="790.8" width="1.2" height="1.2" fill="#5a1c1c" opacity="0.68"/><rect x="835.6" y="772.2" width="1.2" height="1.2" fill="#5a1c1c" opacity="0.69"/><rect x="684.7" y="759.2" width="1.2" height="1.2" fill="#4a1616" opacity="0.51"/><rect x="907.6" y="788.7" width="1.2" height="1.2" fill="#2a1a0e" opacity="0.32"/><rect x="726.1" y="787.5" width="1.2" height="1.2" fill="#3a1010" opacity="0.46"/><rect x="882.7" y="789.7" width="1.2" height="1.2" fill="#5a1c1c" opacity="0.79"/><rect x="894.1" y="796.3" width="1.2" height="1.2" fill="#4a1616" opacity="0.31"/><rect x="722.7" y="793.0" width="1.2" height="1.2" fill="#2a1a0e" opacity="0.32"/><rect x="858.6" y="778.5" width="1.2" height="1.2" fill="#2a1a0e" opacity="0.59"/><rect x="904.8" y="774.6" width="1.2" height="1.2" fill="#5a1c1c" opacity="0.33"/><rect x="775.2" y="774.7" width="1.2" height="1.2" fill="#3a1010" opacity="0.47"/><rect x="886.2" y="772.1" width="1.2" height="1.2" fill="#3a1010" opacity="0.35"/><rect x="742.2" y="772.0" width="1.2" height="1.2" fill="#5a1c1c" opacity="0.47"/><rect x="746.1" y="789.1" width="1.2" height="1.2" fill="#2a1a0e" opacity="0.49"/><rect x="745.9" y="791.5" width="1.2" height="1.2" fill="#5a1c1c" opacity="0.78"/><rect x="746.5" y="759.9" width="1.2" height="1.2" fill="#3a1010" opacity="0.54"/><rect x="712.8" y="787.2" width="1.2" height="1.2" fill="#5a1c1c" opacity="0.52"/><rect x="763.2" y="779.9" width="1.2" height="1.2" fill="#5a1c1c" opacity="0.45"/><rect x="805.3" y="790.0" width="1.2" height="1.2" fill="#4a1616" opacity="0.52"/><rect x="746.8" y="762.2" width="1.2" height="1.2" fill="#4a1616" opacity="0.66"/><rect x="758.5" y="762.6" width="1.2" height="1.2" fill="#4a1616" opacity="0.45"/><rect x="799.2" y="759.9" width="1.2" height="1.2" fill="#2a1a0e" opacity="0.68"/><rect x="745.5" y="779.3" width="1.2" height="1.2" fill="#4a1616" opacity="0.64"/><rect x="913.2" y="774.2" width="1.2" height="1.2" fill="#3a1010" opacity="0.51"/><rect x="860.1" y="765.4" width="1.2" height="1.2" fill="#5a1c1c" opacity="0.47"/><rect x="858.6" y="790.9" width="1.2" height="1.2" fill="#2a1a0e" opacity="0.65"/><rect x="880.9" y="772.8" width="1.2" height="1.2" fill="#5a1c1c" opacity="0.45"/><rect x="833.6" y="774.9" width="1.2" height="1.2" fill="#3a1010" opacity="0.54"/><rect x="706.4" y="766.1" width="1.2" height="1.2" fill="#2a1a0e" opacity="0.46"/><rect x="667.1" y="760.1" width="1.2" height="1.2" fill="#3a1010" opacity="0.47"/><rect x="740.4" y="785.9" width="1.2" height="1.2" fill="#3a1010" opacity="0.65"/><rect x="780.1" y="774.5" width="1.2" height="1.2" fill="#3a1010" opacity="0.42"/><rect x="919.7" y="774.7" width="1.2" height="1.2" fill="#3a1010" opacity="0.68"/><rect x="794.5" y="782.4" width="1.2" height="1.2" fill="#4a1616" opacity="0.77"/><rect x="684.9" y="780.8" width="1.2" height="1.2" fill="#2a1a0e" opacity="0.42"/><rect x="711.2" y="789.2" width="1.2" height="1.2" fill="#5a1c1c" opacity="0.79"/><rect x="677.9" y="776.6" width="1.2" height="1.2" fill="#4a1616" opacity="0.67"/><rect x="797.8" y="760.3" width="1.2" height="1.2" fill="#4a1616" opacity="0.34"/><rect x="685.9" y="772.3" width="1.2" height="1.2" fill="#5a1c1c" opacity="0.47"/><rect x="791.3" y="782.0" width="1.2" height="1.2" fill="#5a1c1c" opacity="0.68"/><rect x="918.1" y="785.3" width="1.2" height="1.2" fill="#2a1a0e" opacity="0.40"/><rect x="666.3" y="778.7" width="1.2" height="1.2" fill="#4a1616" opacity="0.77"/><rect x="686.0" y="795.7" width="1.2" height="1.2" fill="#5a1c1c" opacity="0.62"/><rect x="861.6" y="784.5" width="1.2" height="1.2" fill="#3a1010" opacity="0.30"/><rect x="765.1" y="769.0" width="1.2" height="1.2" fill="#4a1616" opacity="0.79"/><rect x="720.8" y="767.2" width="1.2" height="1.2" fill="#4a1616" opacity="0.47"/><rect x="738.5" y="772.4" width="1.2" height="1.2" fill="#2a1a0e" opacity="0.37"/><rect x="840.7" y="787.1" width="1.2" height="1.2" fill="#4a1616" opacity="0.77"/><rect x="787.7" y="787.8" width="1.2" height="1.2" fill="#5a1c1c" opacity="0.36"/><rect x="733.1" y="782.7" width="1.2" height="1.2" fill="#4a1616" opacity="0.40"/><rect x="759.3" y="777.7" width="1.2" height="1.2" fill="#2a1a0e" opacity="0.57"/><rect x="740.4" y="776.9" width="1.2" height="1.2" fill="#3a1010" opacity="0.36"/><rect x="676.2" y="794.9" width="1.2" height="1.2" fill="#2a1a0e" opacity="0.50"/><rect x="823.9" y="759.3" width="1.2" height="1.2" fill="#5a1c1c" opacity="0.79"/><rect x="836.0" y="790.5" width="1.2" height="1.2" fill="#3a1010" opacity="0.37"/><rect x="687.5" y="796.2" width="1.2" height="1.2" fill="#5a1c1c" opacity="0.33"/><rect x="672.3" y="782.8" width="1.2" height="1.2" fill="#3a1010" opacity="0.33"/><rect x="905.9" y="759.7" width="1.2" height="1.2" fill="#4a1616" opacity="0.69"/><rect x="819.7" y="771.6" width="1.2" height="1.2" fill="#4a1616" opacity="0.58"/><rect x="753.7" y="764.8" width="1.2" height="1.2" fill="#3a1010" opacity="0.55"/><rect x="750.3" y="775.6" width="1.2" height="1.2" fill="#4a1616" opacity="0.67"/><rect x="687.1" y="767.3" width="1.2" height="1.2" fill="#2a1a0e" opacity="0.38"/><rect x="718.0" y="786.9" width="1.2" height="1.2" fill="#4a1616" opacity="0.37"/><rect x="884.8" y="792.2" width="1.2" height="1.2" fill="#4a1616" opacity="0.76"/><rect x="909.6" y="780.6" width="1.2" height="1.2" fill="#4a1616" opacity="0.60"/><rect x="758.8" y="773.5" width="1.2" height="1.2" fill="#5a1c1c" opacity="0.40"/><rect x="721.5" y="767.0" width="1.2" height="1.2" fill="#3a1010" opacity="0.50"/><rect x="754.8" y="772.0" width="1.2" height="1.2" fill="#4a1616" opacity="0.40"/><rect x="692.7" y="759.3" width="1.2" height="1.2" fill="#5a1c1c" opacity="0.74"/><rect x="792.1" y="763.6" width="1.2" height="1.2" fill="#4a1616" opacity="0.79"/><rect x="768.2" y="777.8" width="1.2" height="1.2" fill="#4a1616" opacity="0.48"/><rect x="803.8" y="791.0" width="1.2" height="1.2" fill="#5a1c1c" opacity="0.52"/><rect x="726.2" y="795.3" width="1.2" height="1.2" fill="#5a1c1c" opacity="0.52"/><rect x="862.5" y="764.0" width="1.2" height="1.2" fill="#2a1a0e" opacity="0.33"/><rect x="806.9" y="787.0" width="1.2" height="1.2" fill="#5a1c1c" opacity="0.35"/><rect x="687.3" y="775.8" width="1.2" height="1.2" fill="#3a1010" opacity="0.43"/><rect x="800.4" y="768.6" width="1.2" height="1.2" fill="#5a1c1c" opacity="0.33"/><rect x="670.2" y="761.6" width="1.2" height="1.2" fill="#3a1010" opacity="0.78"/><rect x="905.5" y="796.9" width="1.2" height="1.2" fill="#4a1616" opacity="0.70"/><rect x="811.6" y="796.2" width="1.2" height="1.2" fill="#3a1010" opacity="0.61"/><rect x="766.8" y="760.8" width="1.2" height="1.2" fill="#3a1010" opacity="0.69"/><rect x="825.4" y="780.0" width="1.2" height="1.2" fill="#2a1a0e" opacity="0.52"/><rect x="867.0" y="775.6" width="1.2" height="1.2" fill="#5a1c1c" opacity="0.59"/><rect x="675.9" y="778.4" width="1.2" height="1.2" fill="#4a1616" opacity="0.30"/><rect x="753.8" y="767.4" width="1.2" height="1.2" fill="#4a1616" opacity="0.44"/><rect x="733.5" y="785.9" width="1.2" height="1.2" fill="#4a1616" opacity="0.53"/><rect x="703.3" y="775.1" width="1.2" height="1.2" fill="#3a1010" opacity="0.43"/><rect x="815.7" y="777.5" width="1.2" height="1.2" fill="#3a1010" opacity="0.69"/><rect x="811.9" y="793.6" width="1.2" height="1.2" fill="#4a1616" opacity="0.32"/><rect x="694.1" y="759.2" width="1.2" height="1.2" fill="#2a1a0e" opacity="0.55"/><rect x="850.4" y="780.0" width="1.2" height="1.2" fill="#3a1010" opacity="0.78"/><rect x="749.2" y="777.5" width="1.2" height="1.2" fill="#2a1a0e" opacity="0.74"/><rect x="760.8" y="763.1" width="1.2" height="1.2" fill="#4a1616" opacity="0.66"/><rect x="825.1" y="792.7" width="1.2" height="1.2" fill="#3a1010" opacity="0.78"/><rect x="694.4" y="771.7" width="1.2" height="1.2" fill="#3a1010" opacity="0.68"/><rect x="846.3" y="783.3" width="1.2" height="1.2" fill="#4a1616" opacity="0.49"/><rect x="789.9" y="776.6" width="1.2" height="1.2" fill="#5a1c1c" opacity="0.35"/><rect x="792.8" y="768.3" width="1.2" height="1.2" fill="#2a1a0e" opacity="0.69"/><rect x="897.4" y="779.0" width="1.2" height="1.2" fill="#3a1010" opacity="0.49"/><rect x="765.5" y="770.4" width="1.2" height="1.2" fill="#3a1010" opacity="0.53"/><rect x="752.4" y="790.6" width="1.2" height="1.2" fill="#4a1616" opacity="0.68"/><rect x="675.9" y="789.3" width="1.2" height="1.2" fill="#2a1a0e" opacity="0.45"/><rect x="692.8" y="766.3" width="1.2" height="1.2" fill="#2a1a0e" opacity="0.36"/><rect x="913.9" y="769.0" width="1.2" height="1.2" fill="#4a1616" opacity="0.53"/><rect x="762.7" y="781.2" width="1.2" height="1.2" fill="#4a1616" opacity="0.76"/><rect x="762.9" y="765.4" width="1.2" height="1.2" fill="#2a1a0e" opacity="0.59"/><rect x="714.1" y="778.3" width="1.2" height="1.2" fill="#5a1c1c" opacity="0.65"/><rect x="818.9" y="760.9" width="1.2" height="1.2" fill="#3a1010" opacity="0.50"/><rect x="820.4" y="764.6" width="1.2" height="1.2" fill="#4a1616" opacity="0.72"/><rect x="678.7" y="778.2" width="1.2" height="1.2" fill="#4a1616" opacity="0.34"/><rect x="709.1" y="794.8" width="1.2" height="1.2" fill="#3a1010" opacity="0.62"/><rect x="782.1" y="787.0" width="1.2" height="1.2" fill="#4a1616" opacity="0.36"/><rect x="738.5" y="791.4" width="1.2" height="1.2" fill="#2a1a0e" opacity="0.68"/><rect x="801.0" y="792.9" width="1.2" height="1.2" fill="#4a1616" opacity="0.53"/><rect x="858.0" y="763.6" width="1.2" height="1.2" fill="#5a1c1c" opacity="0.68"/><rect x="913.4" y="779.8" width="1.2" height="1.2" fill="#3a1010" opacity="0.69"/><rect x="847.2" y="770.2" width="1.2" height="1.2" fill="#3a1010" opacity="0.30"/><rect x="853.8" y="789.3" width="1.2" height="1.2" fill="#2a1a0e" opacity="0.38"/><rect x="861.4" y="770.3" width="1.2" height="1.2" fill="#5a1c1c" opacity="0.63"/><rect x="680.5" y="759.9" width="1.2" height="1.2" fill="#3a1010" opacity="0.39"/><rect x="717.9" y="778.9" width="1.2" height="1.2" fill="#2a1a0e" opacity="0.35"/><rect x="811.5" y="760.8" width="1.2" height="1.2" fill="#2a1a0e" opacity="0.78"/><rect x="719.6" y="780.1" width="1.2" height="1.2" fill="#2a1a0e" opacity="0.66"/><rect x="669.6" y="774.9" width="1.2" height="1.2" fill="#4a1616" opacity="0.46"/><rect x="683.2" y="778.3" width="1.2" height="1.2" fill="#3a1010" opacity="0.47"/><rect x="870.7" y="786.6" width="1.2" height="1.2" fill="#5a1c1c" opacity="0.65"/><rect x="917.4" y="772.7" width="1.2" height="1.2" fill="#3a1010" opacity="0.48"/><rect x="852.4" y="770.7" width="1.2" height="1.2" fill="#2a1a0e" opacity="0.57"/><rect x="739.8" y="763.1" width="1.2" height="1.2" fill="#4a1616" opacity="0.66"/><rect x="709.0" y="762.0" width="1.2" height="1.2" fill="#4a1616" opacity="0.75"/><rect x="672.4" y="786.4" width="1.2" height="1.2" fill="#5a1c1c" opacity="0.77"/><rect x="788.3" y="766.4" width="1.2" height="1.2" fill="#2a1a0e" opacity="0.76"/><rect x="879.8" y="764.7" width="1.2" height="1.2" fill="#3a1010" opacity="0.77"/><rect x="684.8" y="792.9" width="1.2" height="1.2" fill="#4a1616" opacity="0.33"/><rect x="887.2" y="781.7" width="1.2" height="1.2" fill="#5a1c1c" opacity="0.60"/><rect x="685.7" y="779.9" width="1.2" height="1.2" fill="#3a1010" opacity="0.51"/><rect x="673.1" y="770.2" width="1.2" height="1.2" fill="#2a1a0e" opacity="0.54"/><rect x="733.2" y="763.2" width="1.2" height="1.2" fill="#5a1c1c" opacity="0.59"/><rect x="833.7" y="769.7" width="1.2" height="1.2" fill="#2a1a0e" opacity="0.34"/><rect x="847.3" y="775.8" width="1.2" height="1.2" fill="#2a1a0e" opacity="0.51"/><rect x="696.5" y="784.3" width="1.2" height="1.2" fill="#3a1010" opacity="0.53"/><rect x="833.8" y="790.5" width="1.2" height="1.2" fill="#2a1a0e" opacity="0.36"/><rect x="913.6" y="792.6" width="1.2" height="1.2" fill="#4a1616" opacity="0.65"/><rect x="880.3" y="786.6" width="1.2" height="1.2" fill="#5a1c1c" opacity="0.58"/><rect x="809.4" y="784.2" width="1.2" height="1.2" fill="#3a1010" opacity="0.78"/><rect x="884.8" y="764.7" width="1.2" height="1.2" fill="#3a1010" opacity="0.43"/><rect x="892.1" y="795.1" width="1.2" height="1.2" fill="#5a1c1c" opacity="0.30"/><rect x="706.4" y="779.7" width="1.2" height="1.2" fill="#3a1010" opacity="0.41"/><rect x="865.4" y="783.8" width="1.2" height="1.2" fill="#2a1a0e" opacity="0.69"/><rect x="879.2" y="795.8" width="1.2" height="1.2" fill="#5a1c1c" opacity="0.30"/><rect x="789.6" y="796.9" width="1.2" height="1.2" fill="#5a1c1c" opacity="0.34"/><rect x="913.9" y="767.4" width="1.2" height="1.2" fill="#3a1010" opacity="0.58"/><rect x="885.1" y="793.1" width="1.2" height="1.2" fill="#5a1c1c" opacity="0.46"/><rect x="844.4" y="767.3" width="1.2" height="1.2" fill="#5a1c1c" opacity="0.57"/><rect x="685.0" y="796.2" width="1.2" height="1.2" fill="#3a1010" opacity="0.42"/><rect x="843.1" y="767.3" width="1.2" height="1.2" fill="#4a1616" opacity="0.66"/><rect x="858.6" y="796.4" width="1.2" height="1.2" fill="#4a1616" opacity="0.34"/><rect x="809.4" y="787.3" width="1.2" height="1.2" fill="#3a1010" opacity="0.39"/><rect x="807.4" y="769.0" width="1.2" height="1.2" fill="#5a1c1c" opacity="0.63"/><rect x="681.7" y="787.9" width="1.2" height="1.2" fill="#3a1010" opacity="0.35"/><rect x="728.4" y="779.3" width="1.2" height="1.2" fill="#4a1616" opacity="0.56"/><rect x="796.4" y="775.0" width="1.2" height="1.2" fill="#4a1616" opacity="0.50"/><rect x="823.7" y="795.5" width="1.2" height="1.2" fill="#4a1616" opacity="0.55"/><rect x="769.4" y="778.1" width="1.2" height="1.2" fill="#4a1616" opacity="0.78"/><rect x="701.6" y="788.9" width="1.2" height="1.2" fill="#4a1616" opacity="0.45"/><rect x="863.7" y="774.9" width="1.2" height="1.2" fill="#4a1616" opacity="0.33"/><rect x="848.5" y="785.5" width="1.2" height="1.2" fill="#4a1616" opacity="0.48"/><rect x="674.9" y="787.9" width="1.2" height="1.2" fill="#4a1616" opacity="0.35"/><rect x="677.3" y="774.2" width="1.2" height="1.2" fill="#2a1a0e" opacity="0.55"/><rect x="678.0" y="760.7" width="1.2" height="1.2" fill="#3a1010" opacity="0.75"/><rect x="818.3" y="764.7" width="1.2" height="1.2" fill="#2a1a0e" opacity="0.68"/><rect x="900.5" y="760.3" width="1.2" height="1.2" fill="#4a1616" opacity="0.75"/><rect x="821.4" y="793.2" width="1.2" height="1.2" fill="#4a1616" opacity="0.36"/><rect x="698.7" y="776.3" width="1.2" height="1.2" fill="#5a1c1c" opacity="0.53"/><rect x="682.9" y="791.5" width="1.2" height="1.2" fill="#4a1616" opacity="0.47"/><rect x="740.5" y="786.9" width="1.2" height="1.2" fill="#3a1010" opacity="0.50"/><rect x="731.6" y="763.6" width="1.2" height="1.2" fill="#5a1c1c" opacity="0.33"/><rect x="812.5" y="768.1" width="1.2" height="1.2" fill="#2a1a0e" opacity="0.79"/><rect x="812.6" y="761.7" width="1.2" height="1.2" fill="#5a1c1c" opacity="0.77"/><rect x="918.3" y="767.3" width="1.2" height="1.2" fill="#3a1010" opacity="0.55"/><rect x="885.1" y="796.4" width="1.2" height="1.2" fill="#5a1c1c" opacity="0.45"/><rect x="829.5" y="781.3" width="1.2" height="1.2" fill="#5a1c1c" opacity="0.67"/><rect x="732.4" y="776.2" width="1.2" height="1.2" fill="#5a1c1c" opacity="0.80"/><rect x="845.5" y="764.2" width="1.2" height="1.2" fill="#2a1a0e" opacity="0.69"/><rect x="671.1" y="795.9" width="1.2" height="1.2" fill="#4a1616" opacity="0.79"/><rect x="822.3" y="784.0" width="1.2" height="1.2" fill="#5a1c1c" opacity="0.48"/><rect x="879.6" y="770.2" width="1.2" height="1.2" fill="#4a1616" opacity="0.74"/><rect x="791.6" y="768.9" width="1.2" height="1.2" fill="#5a1c1c" opacity="0.32"/><rect x="748.8" y="797.2" width="1.2" height="1.2" fill="#2a1a0e" opacity="0.66"/><rect x="810.2" y="762.5" width="1.2" height="1.2" fill="#2a1a0e" opacity="0.36"/><rect x="796.9" y="771.4" width="1.2" height="1.2" fill="#4a1616" opacity="0.73"/><rect x="791.3" y="779.2" width="1.2" height="1.2" fill="#2a1a0e" opacity="0.43"/><rect x="846.7" y="764.7" width="1.2" height="1.2" fill="#2a1a0e" opacity="0.57"/><rect x="905.2" y="760.6" width="1.2" height="1.2" fill="#3a1010" opacity="0.61"/><rect x="674.0" y="779.1" width="1.2" height="1.2" fill="#4a1616" opacity="0.69"/><rect x="891.9" y="766.8" width="1.2" height="1.2" fill="#5a1c1c" opacity="0.32"/><rect x="741.5" y="765.4" width="1.2" height="1.2" fill="#5a1c1c" opacity="0.47"/><rect x="671.2" y="770.4" width="1.2" height="1.2" fill="#5a1c1c" opacity="0.80"/><rect x="789.3" y="781.1" width="1.2" height="1.2" fill="#5a1c1c" opacity="0.71"/><rect x="696.5" y="779.6" width="1.2" height="1.2" fill="#5a1c1c" opacity="0.63"/><rect x="702.2" y="780.1" width="1.2" height="1.2" fill="#2a1a0e" opacity="0.39"/><rect x="898.5" y="769.6" width="1.2" height="1.2" fill="#4a1616" opacity="0.75"/><rect x="850.7" y="771.5" width="1.2" height="1.2" fill="#4a1616" opacity="0.34"/><rect x="787.9" y="775.5" width="1.2" height="1.2" fill="#2a1a0e" opacity="0.48"/><rect x="725.4" y="777.8" width="1.2" height="1.2" fill="#5a1c1c" opacity="0.45"/><rect x="755.0" y="761.0" width="1.2" height="1.2" fill="#4a1616" opacity="0.50"/><rect x="849.5" y="790.7" width="1.2" height="1.2" fill="#3a1010" opacity="0.72"/><rect x="779.8" y="788.2" width="1.2" height="1.2" fill="#3a1010" opacity="0.65"/><rect x="780.5" y="762.3" width="1.2" height="1.2" fill="#4a1616" opacity="0.42"/><rect x="792.9" y="786.9" width="1.2" height="1.2" fill="#2a1a0e" opacity="0.67"/><rect x="805.4" y="776.2" width="1.2" height="1.2" fill="#2a1a0e" opacity="0.79"/><rect x="755.7" y="769.2" width="1.2" height="1.2" fill="#3a1010" opacity="0.57"/><rect x="835.3" y="767.6" width="1.2" height="1.2" fill="#3a1010" opacity="0.76"/><rect x="882.6" y="787.2" width="1.2" height="1.2" fill="#4a1616" opacity="0.55"/><rect x="691.7" y="761.9" width="1.2" height="1.2" fill="#5a1c1c" opacity="0.69"/><rect x="730.1" y="780.8" width="1.2" height="1.2" fill="#3a1010" opacity="0.40"/><rect x="713.7" y="767.1" width="1.2" height="1.2" fill="#5a1c1c" opacity="0.60"/><rect x="731.0" y="780.1" width="1.2" height="1.2" fill="#2a1a0e" opacity="0.63"/><rect x="718.7" y="792.6" width="1.2" height="1.2" fill="#5a1c1c" opacity="0.55"/><rect x="764.5" y="766.3" width="1.2" height="1.2" fill="#2a1a0e" opacity="0.57"/><rect x="865.0" y="792.7" width="1.2" height="1.2" fill="#5a1c1c" opacity="0.53"/><rect x="731.2" y="788.4" width="1.2" height="1.2" fill="#3a1010" opacity="0.77"/><rect x="704.3" y="779.9" width="1.2" height="1.2" fill="#5a1c1c" opacity="0.76"/><rect x="916.9" y="783.8" width="1.2" height="1.2" fill="#2a1a0e" opacity="0.78"/><rect x="862.4" y="785.0" width="1.2" height="1.2" fill="#2a1a0e" opacity="0.41"/><rect x="796.2" y="785.1" width="1.2" height="1.2" fill="#5a1c1c" opacity="0.65"/><rect x="824.5" y="784.2" width="1.2" height="1.2" fill="#2a1a0e" opacity="0.61"/><rect x="743.8" y="788.7" width="1.2" height="1.2" fill="#4a1616" opacity="0.77"/></g>
<g filter="url(#fl)"><line x1="675.3" y1="782.5" x2="757.5" y2="780.2" stroke="#ea2a22" stroke-width="2.4" opacity="0.60"/><rect x="675.3" y="780.9" width="7.5" height="3.2" rx="1" fill="#ea2a22" opacity="0.59"/><rect x="683.2" y="780.7" width="6.6" height="3.2" rx="1" fill="#ea2a22" opacity="0.53"/><rect x="691.0" y="780.5" width="7.6" height="3.2" rx="1" fill="#ea2a22" opacity="0.52"/><rect x="699.6" y="780.2" width="6.0" height="3.2" rx="1" fill="#ea2a22" opacity="0.79"/><rect x="706.9" y="780.0" width="8.9" height="3.2" rx="1" fill="#ea2a22" opacity="0.68"/><rect x="717.1" y="779.7" width="7.7" height="3.2" rx="1" fill="#ea2a22" opacity="0.94"/><rect x="725.0" y="779.5" width="8.6" height="3.2" rx="1" fill="#ea2a22" opacity="0.60"/><rect x="734.0" y="779.3" width="6.6" height="3.2" rx="1" fill="#ea2a22" opacity="0.88"/><rect x="741.9" y="779.0" width="5.2" height="3.2" rx="1" fill="#ea2a22" opacity="0.87"/><rect x="747.4" y="778.9" width="8.8" height="3.2" rx="1" fill="#ea2a22" opacity="0.63"/><rect x="757.0" y="778.6" width="0.5" height="3.2" rx="1" fill="#ea2a22" opacity="0.52"/></g>
<g filter="url(#fl)"><line x1="757.5" y1="780.2" x2="788.1" y2="779.4" stroke="#3ad13e" stroke-width="2.2" opacity="0.60"/><rect x="757.5" y="778.7" width="6.9" height="3.0" rx="1" fill="#3ad13e" opacity="0.82"/><rect x="767.7" y="778.4" width="4.2" height="3.0" rx="1" fill="#3ad13e" opacity="0.53"/><rect x="775.1" y="778.2" width="5.0" height="3.0" rx="1" fill="#3ad13e" opacity="0.67"/><rect x="783.3" y="778.0" width="4.1" height="3.0" rx="1" fill="#3ad13e" opacity="0.91"/></g>
<g filter="url(#fl)"><line x1="788.1" y1="779.4" x2="898.2" y2="777.1" stroke="#ea2a22" stroke-width="2.4" opacity="0.60"/><rect x="788.1" y="777.8" width="3.7" height="3.2" rx="1" fill="#ea2a22" opacity="0.56"/><rect x="792.7" y="777.7" width="4.1" height="3.2" rx="1" fill="#ea2a22" opacity="0.56"/><rect x="797.5" y="777.6" width="5.5" height="3.2" rx="1" fill="#ea2a22" opacity="0.60"/><rect x="803.7" y="777.5" width="8.1" height="3.2" rx="1" fill="#ea2a22" opacity="0.56"/><rect x="812.2" y="777.3" width="3.2" height="3.2" rx="1" fill="#ea2a22" opacity="0.61"/><rect x="815.7" y="777.2" width="8.9" height="3.2" rx="1" fill="#ea2a22" opacity="0.64"/><rect x="825.9" y="777.0" width="3.8" height="3.2" rx="1" fill="#ea2a22" opacity="0.91"/><rect x="830.5" y="776.9" width="7.1" height="3.2" rx="1" fill="#ea2a22" opacity="0.80"/><rect x="838.2" y="776.8" width="4.4" height="3.2" rx="1" fill="#ea2a22" opacity="0.81"/><rect x="843.0" y="776.7" width="3.1" height="3.2" rx="1" fill="#ea2a22" opacity="0.85"/><rect x="847.0" y="776.6" width="4.6" height="3.2" rx="1" fill="#ea2a22" opacity="0.73"/><rect x="852.8" y="776.4" width="4.7" height="3.2" rx="1" fill="#ea2a22" opacity="0.56"/><rect x="858.2" y="776.3" width="4.0" height="3.2" rx="1" fill="#ea2a22" opacity="0.67"/><rect x="862.5" y="776.2" width="7.6" height="3.2" rx="1" fill="#ea2a22" opacity="0.86"/><rect x="870.7" y="776.1" width="5.3" height="3.2" rx="1" fill="#ea2a22" opacity="0.62"/><rect x="877.3" y="775.9" width="8.3" height="3.2" rx="1" fill="#ea2a22" opacity="0.80"/><rect x="886.0" y="775.8" width="4.0" height="3.2" rx="1" fill="#ea2a22" opacity="0.85"/><rect x="890.4" y="775.7" width="7.1" height="3.2" rx="1" fill="#ea2a22" opacity="0.69"/><rect x="897.8" y="775.5" width="0.4" height="3.2" rx="1" fill="#ea2a22" opacity="0.91"/></g>
<g filter="url(#fl)"><line x1="680.0" y1="758.9" x2="740.0" y2="758.9" stroke="#d02820" stroke-width="1.5" opacity="0.36"/><rect x="680.0" y="757.9" width="6.3" height="2.0" rx="1" fill="#d02820" opacity="0.39"/><rect x="687.5" y="757.9" width="4.7" height="2.0" rx="1" fill="#d02820" opacity="0.44"/><rect x="692.8" y="757.9" width="5.5" height="2.0" rx="1" fill="#d02820" opacity="0.56"/><rect x="698.7" y="757.9" width="5.7" height="2.0" rx="1" fill="#d02820" opacity="0.36"/><rect x="705.0" y="757.9" width="9.0" height="2.0" rx="1" fill="#d02820" opacity="0.39"/><rect x="714.9" y="757.9" width="5.5" height="2.0" rx="1" fill="#d02820" opacity="0.50"/><rect x="721.1" y="757.9" width="4.0" height="2.0" rx="1" fill="#d02820" opacity="0.42"/><rect x="725.8" y="757.9" width="7.8" height="2.0" rx="1" fill="#d02820" opacity="0.45"/><rect x="734.0" y="757.9" width="6.0" height="2.0" rx="1" fill="#d02820" opacity="0.38"/></g>
<circle cx="716.8" cy="768.0" r="1.9" fill="#ee2a22"/>
<circle cx="726.8" cy="788.8" r="2.0" fill="#ee2a22"/>
<circle cx="783.3" cy="788.8" r="2.0" fill="#ee2a22"/>
<circle cx="817.0" cy="766.2" r="2.0" fill="#3ad13e"/>
<circle cx="904.5" cy="777.1" r="1.9" fill="#ee2a22"/>
<circle cx="919.8" cy="792.4" r="1.8" fill="#ee2a22"/>
<rect x="1084.40" y="758.40" width="247.80" height="41.20" fill="#10101c" />
<g><rect x="1217.9" y="770.7" width="1.2" height="1.2" fill="#1c1c3a" opacity="0.61"/><rect x="1288.7" y="797.7" width="1.2" height="1.2" fill="#1c1c3a" opacity="0.50"/><rect x="1243.1" y="798.2" width="1.2" height="1.2" fill="#14301a" opacity="0.30"/><rect x="1213.8" y="796.0" width="1.2" height="1.2" fill="#1c1c3a" opacity="0.34"/><rect x="1124.7" y="792.4" width="1.2" height="1.2" fill="#241c3a" opacity="0.57"/><rect x="1184.2" y="792.0" width="1.2" height="1.2" fill="#14301a" opacity="0.57"/><rect x="1102.0" y="760.3" width="1.2" height="1.2" fill="#241c3a" opacity="0.64"/><rect x="1272.9" y="781.6" width="1.2" height="1.2" fill="#241c3a" opacity="0.44"/><rect x="1223.6" y="797.4" width="1.2" height="1.2" fill="#241c3a" opacity="0.55"/><rect x="1161.4" y="791.9" width="1.2" height="1.2" fill="#14301a" opacity="0.43"/><rect x="1105.1" y="768.9" width="1.2" height="1.2" fill="#14301a" opacity="0.36"/><rect x="1092.5" y="795.3" width="1.2" height="1.2" fill="#241c3a" opacity="0.45"/><rect x="1214.1" y="766.7" width="1.2" height="1.2" fill="#241c3a" opacity="0.47"/><rect x="1196.3" y="785.2" width="1.2" height="1.2" fill="#14301a" opacity="0.56"/><rect x="1102.2" y="796.1" width="1.2" height="1.2" fill="#1c1c3a" opacity="0.54"/><rect x="1204.8" y="796.0" width="1.2" height="1.2" fill="#14301a" opacity="0.59"/><rect x="1305.2" y="793.8" width="1.2" height="1.2" fill="#1c1c3a" opacity="0.64"/><rect x="1288.9" y="779.5" width="1.2" height="1.2" fill="#14301a" opacity="0.63"/><rect x="1315.2" y="778.1" width="1.2" height="1.2" fill="#14301a" opacity="0.75"/><rect x="1285.7" y="771.1" width="1.2" height="1.2" fill="#14301a" opacity="0.63"/><rect x="1311.3" y="771.2" width="1.2" height="1.2" fill="#241c3a" opacity="0.72"/><rect x="1201.3" y="771.6" width="1.2" height="1.2" fill="#1c1c3a" opacity="0.66"/><rect x="1320.5" y="780.1" width="1.2" height="1.2" fill="#14301a" opacity="0.31"/><rect x="1131.8" y="789.7" width="1.2" height="1.2" fill="#241c3a" opacity="0.32"/><rect x="1221.3" y="769.4" width="1.2" height="1.2" fill="#14301a" opacity="0.66"/><rect x="1287.6" y="780.2" width="1.2" height="1.2" fill="#241c3a" opacity="0.52"/><rect x="1087.0" y="791.7" width="1.2" height="1.2" fill="#14301a" opacity="0.61"/><rect x="1177.1" y="776.6" width="1.2" height="1.2" fill="#241c3a" opacity="0.37"/><rect x="1298.6" y="774.7" width="1.2" height="1.2" fill="#1c1c3a" opacity="0.67"/><rect x="1167.1" y="760.4" width="1.2" height="1.2" fill="#14301a" opacity="0.59"/><rect x="1202.5" y="765.0" width="1.2" height="1.2" fill="#14301a" opacity="0.78"/><rect x="1101.2" y="769.2" width="1.2" height="1.2" fill="#14301a" opacity="0.68"/><rect x="1274.5" y="783.4" width="1.2" height="1.2" fill="#14301a" opacity="0.47"/><rect x="1203.0" y="776.9" width="1.2" height="1.2" fill="#1c1c3a" opacity="0.48"/><rect x="1318.1" y="778.1" width="1.2" height="1.2" fill="#241c3a" opacity="0.39"/><rect x="1145.1" y="778.4" width="1.2" height="1.2" fill="#1c1c3a" opacity="0.40"/><rect x="1202.5" y="763.1" width="1.2" height="1.2" fill="#14301a" opacity="0.36"/><rect x="1124.4" y="779.7" width="1.2" height="1.2" fill="#1c1c3a" opacity="0.75"/><rect x="1251.1" y="765.9" width="1.2" height="1.2" fill="#241c3a" opacity="0.49"/><rect x="1216.2" y="766.9" width="1.2" height="1.2" fill="#14301a" opacity="0.37"/><rect x="1141.6" y="786.8" width="1.2" height="1.2" fill="#241c3a" opacity="0.72"/><rect x="1120.6" y="764.2" width="1.2" height="1.2" fill="#1c1c3a" opacity="0.46"/><rect x="1208.7" y="766.8" width="1.2" height="1.2" fill="#14301a" opacity="0.51"/><rect x="1156.2" y="787.6" width="1.2" height="1.2" fill="#14301a" opacity="0.67"/><rect x="1086.4" y="775.1" width="1.2" height="1.2" fill="#14301a" opacity="0.69"/><rect x="1115.0" y="770.1" width="1.2" height="1.2" fill="#1c1c3a" opacity="0.51"/><rect x="1276.5" y="781.2" width="1.2" height="1.2" fill="#14301a" opacity="0.77"/><rect x="1104.0" y="761.2" width="1.2" height="1.2" fill="#241c3a" opacity="0.53"/><rect x="1295.6" y="782.5" width="1.2" height="1.2" fill="#1c1c3a" opacity="0.36"/><rect x="1238.6" y="769.5" width="1.2" height="1.2" fill="#241c3a" opacity="0.69"/><rect x="1171.6" y="779.5" width="1.2" height="1.2" fill="#14301a" opacity="0.66"/><rect x="1274.9" y="784.0" width="1.2" height="1.2" fill="#14301a" opacity="0.33"/><rect x="1264.4" y="766.2" width="1.2" height="1.2" fill="#241c3a" opacity="0.61"/><rect x="1103.2" y="771.7" width="1.2" height="1.2" fill="#1c1c3a" opacity="0.44"/><rect x="1231.9" y="786.5" width="1.2" height="1.2" fill="#14301a" opacity="0.65"/><rect x="1316.8" y="766.9" width="1.2" height="1.2" fill="#241c3a" opacity="0.72"/><rect x="1215.8" y="793.4" width="1.2" height="1.2" fill="#241c3a" opacity="0.74"/><rect x="1326.7" y="796.0" width="1.2" height="1.2" fill="#14301a" opacity="0.45"/><rect x="1303.4" y="774.8" width="1.2" height="1.2" fill="#14301a" opacity="0.34"/><rect x="1247.7" y="776.1" width="1.2" height="1.2" fill="#1c1c3a" opacity="0.56"/><rect x="1175.3" y="773.4" width="1.2" height="1.2" fill="#14301a" opacity="0.34"/><rect x="1238.0" y="783.5" width="1.2" height="1.2" fill="#14301a" opacity="0.30"/><rect x="1124.6" y="785.1" width="1.2" height="1.2" fill="#14301a" opacity="0.63"/><rect x="1212.2" y="787.6" width="1.2" height="1.2" fill="#1c1c3a" opacity="0.78"/><rect x="1177.3" y="768.6" width="1.2" height="1.2" fill="#14301a" opacity="0.31"/><rect x="1245.1" y="763.0" width="1.2" height="1.2" fill="#1c1c3a" opacity="0.55"/><rect x="1297.9" y="786.9" width="1.2" height="1.2" fill="#241c3a" opacity="0.42"/><rect x="1317.9" y="764.6" width="1.2" height="1.2" fill="#1c1c3a" opacity="0.61"/><rect x="1141.0" y="762.2" width="1.2" height="1.2" fill="#241c3a" opacity="0.36"/><rect x="1216.2" y="793.7" width="1.2" height="1.2" fill="#1c1c3a" opacity="0.32"/><rect x="1093.2" y="779.8" width="1.2" height="1.2" fill="#1c1c3a" opacity="0.55"/><rect x="1329.1" y="765.9" width="1.2" height="1.2" fill="#14301a" opacity="0.70"/><rect x="1301.8" y="793.7" width="1.2" height="1.2" fill="#1c1c3a" opacity="0.31"/><rect x="1136.5" y="778.8" width="1.2" height="1.2" fill="#1c1c3a" opacity="0.69"/><rect x="1141.6" y="795.4" width="1.2" height="1.2" fill="#241c3a" opacity="0.38"/><rect x="1137.5" y="781.2" width="1.2" height="1.2" fill="#241c3a" opacity="0.40"/><rect x="1167.3" y="787.1" width="1.2" height="1.2" fill="#241c3a" opacity="0.55"/><rect x="1220.9" y="769.1" width="1.2" height="1.2" fill="#1c1c3a" opacity="0.60"/><rect x="1321.8" y="781.8" width="1.2" height="1.2" fill="#14301a" opacity="0.63"/><rect x="1091.8" y="777.5" width="1.2" height="1.2" fill="#1c1c3a" opacity="0.65"/><rect x="1202.0" y="797.9" width="1.2" height="1.2" fill="#241c3a" opacity="0.38"/><rect x="1270.1" y="771.5" width="1.2" height="1.2" fill="#14301a" opacity="0.62"/><rect x="1188.4" y="764.8" width="1.2" height="1.2" fill="#1c1c3a" opacity="0.34"/><rect x="1254.0" y="776.0" width="1.2" height="1.2" fill="#1c1c3a" opacity="0.57"/><rect x="1295.8" y="761.8" width="1.2" height="1.2" fill="#1c1c3a" opacity="0.56"/><rect x="1114.8" y="765.8" width="1.2" height="1.2" fill="#1c1c3a" opacity="0.31"/><rect x="1163.7" y="769.4" width="1.2" height="1.2" fill="#1c1c3a" opacity="0.65"/><rect x="1312.4" y="796.2" width="1.2" height="1.2" fill="#14301a" opacity="0.43"/><rect x="1159.3" y="777.0" width="1.2" height="1.2" fill="#14301a" opacity="0.37"/><rect x="1104.9" y="790.2" width="1.2" height="1.2" fill="#1c1c3a" opacity="0.36"/><rect x="1322.2" y="792.4" width="1.2" height="1.2" fill="#1c1c3a" opacity="0.51"/><rect x="1163.3" y="793.2" width="1.2" height="1.2" fill="#14301a" opacity="0.76"/><rect x="1282.0" y="790.1" width="1.2" height="1.2" fill="#14301a" opacity="0.64"/><rect x="1287.5" y="784.3" width="1.2" height="1.2" fill="#1c1c3a" opacity="0.50"/><rect x="1324.2" y="778.5" width="1.2" height="1.2" fill="#14301a" opacity="0.50"/><rect x="1254.9" y="770.0" width="1.2" height="1.2" fill="#14301a" opacity="0.73"/><rect x="1180.3" y="790.4" width="1.2" height="1.2" fill="#14301a" opacity="0.46"/><rect x="1114.8" y="763.6" width="1.2" height="1.2" fill="#14301a" opacity="0.69"/><rect x="1191.2" y="788.8" width="1.2" height="1.2" fill="#1c1c3a" opacity="0.58"/><rect x="1103.4" y="776.4" width="1.2" height="1.2" fill="#1c1c3a" opacity="0.32"/><rect x="1266.8" y="767.4" width="1.2" height="1.2" fill="#1c1c3a" opacity="0.71"/><rect x="1257.0" y="795.1" width="1.2" height="1.2" fill="#14301a" opacity="0.56"/><rect x="1248.5" y="776.3" width="1.2" height="1.2" fill="#14301a" opacity="0.46"/><rect x="1255.2" y="776.1" width="1.2" height="1.2" fill="#1c1c3a" opacity="0.37"/><rect x="1106.4" y="788.2" width="1.2" height="1.2" fill="#241c3a" opacity="0.62"/><rect x="1139.8" y="797.7" width="1.2" height="1.2" fill="#241c3a" opacity="0.67"/><rect x="1087.8" y="776.5" width="1.2" height="1.2" fill="#14301a" opacity="0.66"/><rect x="1166.2" y="791.9" width="1.2" height="1.2" fill="#241c3a" opacity="0.41"/><rect x="1302.1" y="792.6" width="1.2" height="1.2" fill="#14301a" opacity="0.55"/><rect x="1266.0" y="792.5" width="1.2" height="1.2" fill="#14301a" opacity="0.69"/><rect x="1140.6" y="776.8" width="1.2" height="1.2" fill="#1c1c3a" opacity="0.41"/><rect x="1296.3" y="793.9" width="1.2" height="1.2" fill="#14301a" opacity="0.48"/><rect x="1150.4" y="764.0" width="1.2" height="1.2" fill="#1c1c3a" opacity="0.50"/><rect x="1243.6" y="763.4" width="1.2" height="1.2" fill="#241c3a" opacity="0.44"/><rect x="1322.7" y="761.7" width="1.2" height="1.2" fill="#1c1c3a" opacity="0.71"/><rect x="1288.5" y="762.1" width="1.2" height="1.2" fill="#241c3a" opacity="0.64"/><rect x="1296.1" y="783.5" width="1.2" height="1.2" fill="#1c1c3a" opacity="0.74"/><rect x="1105.9" y="792.1" width="1.2" height="1.2" fill="#1c1c3a" opacity="0.45"/><rect x="1222.0" y="760.5" width="1.2" height="1.2" fill="#241c3a" opacity="0.67"/><rect x="1194.9" y="762.3" width="1.2" height="1.2" fill="#241c3a" opacity="0.71"/><rect x="1107.6" y="786.0" width="1.2" height="1.2" fill="#1c1c3a" opacity="0.61"/><rect x="1278.8" y="790.7" width="1.2" height="1.2" fill="#14301a" opacity="0.43"/><rect x="1320.7" y="776.1" width="1.2" height="1.2" fill="#241c3a" opacity="0.74"/><rect x="1227.0" y="777.2" width="1.2" height="1.2" fill="#14301a" opacity="0.37"/><rect x="1184.4" y="771.6" width="1.2" height="1.2" fill="#1c1c3a" opacity="0.78"/><rect x="1206.3" y="787.1" width="1.2" height="1.2" fill="#14301a" opacity="0.42"/><rect x="1279.4" y="797.3" width="1.2" height="1.2" fill="#1c1c3a" opacity="0.76"/><rect x="1261.3" y="792.0" width="1.2" height="1.2" fill="#241c3a" opacity="0.73"/><rect x="1086.7" y="773.9" width="1.2" height="1.2" fill="#14301a" opacity="0.53"/><rect x="1256.7" y="769.4" width="1.2" height="1.2" fill="#241c3a" opacity="0.44"/><rect x="1302.0" y="779.5" width="1.2" height="1.2" fill="#1c1c3a" opacity="0.79"/><rect x="1282.5" y="790.7" width="1.2" height="1.2" fill="#1c1c3a" opacity="0.39"/><rect x="1260.2" y="774.4" width="1.2" height="1.2" fill="#241c3a" opacity="0.46"/><rect x="1242.8" y="771.0" width="1.2" height="1.2" fill="#14301a" opacity="0.34"/><rect x="1085.8" y="777.1" width="1.2" height="1.2" fill="#241c3a" opacity="0.62"/><rect x="1295.4" y="769.3" width="1.2" height="1.2" fill="#14301a" opacity="0.61"/><rect x="1201.3" y="783.2" width="1.2" height="1.2" fill="#241c3a" opacity="0.31"/><rect x="1114.0" y="774.2" width="1.2" height="1.2" fill="#241c3a" opacity="0.71"/><rect x="1228.0" y="764.3" width="1.2" height="1.2" fill="#241c3a" opacity="0.57"/><rect x="1152.1" y="788.8" width="1.2" height="1.2" fill="#14301a" opacity="0.54"/><rect x="1297.2" y="761.2" width="1.2" height="1.2" fill="#1c1c3a" opacity="0.44"/><rect x="1133.3" y="769.9" width="1.2" height="1.2" fill="#1c1c3a" opacity="0.53"/><rect x="1210.0" y="761.0" width="1.2" height="1.2" fill="#14301a" opacity="0.52"/><rect x="1284.3" y="794.8" width="1.2" height="1.2" fill="#241c3a" opacity="0.52"/><rect x="1164.9" y="790.1" width="1.2" height="1.2" fill="#1c1c3a" opacity="0.73"/><rect x="1110.2" y="764.3" width="1.2" height="1.2" fill="#1c1c3a" opacity="0.40"/><rect x="1319.0" y="760.5" width="1.2" height="1.2" fill="#241c3a" opacity="0.63"/><rect x="1316.0" y="762.1" width="1.2" height="1.2" fill="#241c3a" opacity="0.42"/><rect x="1093.5" y="795.2" width="1.2" height="1.2" fill="#14301a" opacity="0.61"/><rect x="1274.9" y="778.8" width="1.2" height="1.2" fill="#14301a" opacity="0.57"/><rect x="1143.2" y="778.0" width="1.2" height="1.2" fill="#14301a" opacity="0.37"/><rect x="1169.5" y="769.6" width="1.2" height="1.2" fill="#1c1c3a" opacity="0.72"/><rect x="1159.5" y="763.5" width="1.2" height="1.2" fill="#241c3a" opacity="0.77"/><rect x="1133.4" y="791.5" width="1.2" height="1.2" fill="#241c3a" opacity="0.65"/><rect x="1119.4" y="793.5" width="1.2" height="1.2" fill="#14301a" opacity="0.50"/><rect x="1090.3" y="779.9" width="1.2" height="1.2" fill="#241c3a" opacity="0.39"/><rect x="1093.9" y="772.5" width="1.2" height="1.2" fill="#241c3a" opacity="0.35"/><rect x="1250.7" y="795.6" width="1.2" height="1.2" fill="#14301a" opacity="0.71"/><rect x="1241.0" y="784.0" width="1.2" height="1.2" fill="#1c1c3a" opacity="0.69"/><rect x="1229.4" y="775.2" width="1.2" height="1.2" fill="#1c1c3a" opacity="0.56"/><rect x="1293.8" y="782.1" width="1.2" height="1.2" fill="#1c1c3a" opacity="0.61"/><rect x="1126.6" y="793.5" width="1.2" height="1.2" fill="#241c3a" opacity="0.64"/><rect x="1152.9" y="759.9" width="1.2" height="1.2" fill="#241c3a" opacity="0.31"/><rect x="1221.8" y="764.8" width="1.2" height="1.2" fill="#1c1c3a" opacity="0.33"/><rect x="1177.5" y="768.3" width="1.2" height="1.2" fill="#241c3a" opacity="0.57"/><rect x="1324.5" y="796.0" width="1.2" height="1.2" fill="#14301a" opacity="0.69"/><rect x="1201.5" y="797.0" width="1.2" height="1.2" fill="#241c3a" opacity="0.45"/><rect x="1155.1" y="794.7" width="1.2" height="1.2" fill="#241c3a" opacity="0.47"/><rect x="1203.4" y="763.5" width="1.2" height="1.2" fill="#14301a" opacity="0.80"/><rect x="1112.0" y="768.8" width="1.2" height="1.2" fill="#14301a" opacity="0.35"/><rect x="1166.6" y="780.0" width="1.2" height="1.2" fill="#241c3a" opacity="0.44"/><rect x="1189.3" y="785.6" width="1.2" height="1.2" fill="#241c3a" opacity="0.74"/><rect x="1248.0" y="781.6" width="1.2" height="1.2" fill="#14301a" opacity="0.44"/><rect x="1202.3" y="781.6" width="1.2" height="1.2" fill="#241c3a" opacity="0.75"/><rect x="1117.6" y="762.7" width="1.2" height="1.2" fill="#14301a" opacity="0.39"/><rect x="1307.6" y="780.0" width="1.2" height="1.2" fill="#14301a" opacity="0.36"/><rect x="1163.6" y="798.2" width="1.2" height="1.2" fill="#1c1c3a" opacity="0.51"/><rect x="1160.9" y="791.8" width="1.2" height="1.2" fill="#14301a" opacity="0.56"/><rect x="1321.1" y="775.9" width="1.2" height="1.2" fill="#241c3a" opacity="0.74"/><rect x="1220.5" y="774.7" width="1.2" height="1.2" fill="#14301a" opacity="0.44"/><rect x="1283.4" y="778.8" width="1.2" height="1.2" fill="#14301a" opacity="0.59"/><rect x="1282.3" y="785.6" width="1.2" height="1.2" fill="#14301a" opacity="0.42"/><rect x="1161.2" y="760.0" width="1.2" height="1.2" fill="#1c1c3a" opacity="0.31"/><rect x="1162.0" y="781.5" width="1.2" height="1.2" fill="#14301a" opacity="0.43"/><rect x="1249.7" y="795.9" width="1.2" height="1.2" fill="#14301a" opacity="0.66"/><rect x="1219.0" y="766.6" width="1.2" height="1.2" fill="#1c1c3a" opacity="0.66"/><rect x="1111.4" y="767.3" width="1.2" height="1.2" fill="#241c3a" opacity="0.60"/><rect x="1119.7" y="760.2" width="1.2" height="1.2" fill="#1c1c3a" opacity="0.66"/><rect x="1230.1" y="770.4" width="1.2" height="1.2" fill="#1c1c3a" opacity="0.36"/><rect x="1261.1" y="774.9" width="1.2" height="1.2" fill="#241c3a" opacity="0.33"/><rect x="1124.2" y="765.3" width="1.2" height="1.2" fill="#14301a" opacity="0.75"/><rect x="1276.8" y="770.4" width="1.2" height="1.2" fill="#14301a" opacity="0.40"/><rect x="1204.0" y="782.7" width="1.2" height="1.2" fill="#1c1c3a" opacity="0.49"/><rect x="1319.7" y="778.9" width="1.2" height="1.2" fill="#1c1c3a" opacity="0.36"/><rect x="1235.9" y="767.5" width="1.2" height="1.2" fill="#1c1c3a" opacity="0.59"/><rect x="1236.7" y="781.9" width="1.2" height="1.2" fill="#1c1c3a" opacity="0.56"/><rect x="1127.6" y="768.2" width="1.2" height="1.2" fill="#14301a" opacity="0.43"/><rect x="1272.3" y="770.4" width="1.2" height="1.2" fill="#1c1c3a" opacity="0.77"/><rect x="1178.3" y="777.4" width="1.2" height="1.2" fill="#1c1c3a" opacity="0.78"/><rect x="1109.9" y="787.1" width="1.2" height="1.2" fill="#1c1c3a" opacity="0.51"/><rect x="1118.6" y="787.1" width="1.2" height="1.2" fill="#241c3a" opacity="0.34"/><rect x="1266.7" y="791.0" width="1.2" height="1.2" fill="#1c1c3a" opacity="0.54"/><rect x="1307.2" y="787.7" width="1.2" height="1.2" fill="#14301a" opacity="0.54"/><rect x="1296.4" y="764.5" width="1.2" height="1.2" fill="#1c1c3a" opacity="0.78"/><rect x="1257.9" y="775.1" width="1.2" height="1.2" fill="#14301a" opacity="0.37"/><rect x="1136.8" y="789.0" width="1.2" height="1.2" fill="#1c1c3a" opacity="0.59"/><rect x="1279.6" y="762.8" width="1.2" height="1.2" fill="#1c1c3a" opacity="0.31"/><rect x="1327.8" y="760.6" width="1.2" height="1.2" fill="#241c3a" opacity="0.51"/><rect x="1268.4" y="768.7" width="1.2" height="1.2" fill="#14301a" opacity="0.32"/><rect x="1145.6" y="772.9" width="1.2" height="1.2" fill="#1c1c3a" opacity="0.67"/><rect x="1176.2" y="784.6" width="1.2" height="1.2" fill="#14301a" opacity="0.38"/><rect x="1163.9" y="770.8" width="1.2" height="1.2" fill="#1c1c3a" opacity="0.48"/><rect x="1159.8" y="783.3" width="1.2" height="1.2" fill="#14301a" opacity="0.39"/><rect x="1278.9" y="792.9" width="1.2" height="1.2" fill="#14301a" opacity="0.79"/><rect x="1106.8" y="766.2" width="1.2" height="1.2" fill="#14301a" opacity="0.47"/><rect x="1128.8" y="763.5" width="1.2" height="1.2" fill="#14301a" opacity="0.49"/><rect x="1128.2" y="761.9" width="1.2" height="1.2" fill="#14301a" opacity="0.69"/><rect x="1237.7" y="760.8" width="1.2" height="1.2" fill="#1c1c3a" opacity="0.59"/><rect x="1140.9" y="761.4" width="1.2" height="1.2" fill="#14301a" opacity="0.75"/><rect x="1197.2" y="792.4" width="1.2" height="1.2" fill="#241c3a" opacity="0.35"/><rect x="1245.8" y="761.9" width="1.2" height="1.2" fill="#241c3a" opacity="0.46"/><rect x="1113.4" y="780.7" width="1.2" height="1.2" fill="#1c1c3a" opacity="0.73"/><rect x="1185.9" y="783.2" width="1.2" height="1.2" fill="#14301a" opacity="0.58"/><rect x="1261.9" y="760.7" width="1.2" height="1.2" fill="#1c1c3a" opacity="0.79"/><rect x="1139.3" y="776.7" width="1.2" height="1.2" fill="#241c3a" opacity="0.62"/><rect x="1108.3" y="789.5" width="1.2" height="1.2" fill="#1c1c3a" opacity="0.36"/><rect x="1130.8" y="783.3" width="1.2" height="1.2" fill="#14301a" opacity="0.73"/><rect x="1303.8" y="784.3" width="1.2" height="1.2" fill="#1c1c3a" opacity="0.69"/><rect x="1123.9" y="793.5" width="1.2" height="1.2" fill="#14301a" opacity="0.35"/><rect x="1227.7" y="792.4" width="1.2" height="1.2" fill="#14301a" opacity="0.51"/><rect x="1204.0" y="766.4" width="1.2" height="1.2" fill="#241c3a" opacity="0.51"/><rect x="1231.3" y="773.2" width="1.2" height="1.2" fill="#241c3a" opacity="0.71"/><rect x="1262.6" y="762.6" width="1.2" height="1.2" fill="#1c1c3a" opacity="0.35"/><rect x="1286.2" y="768.3" width="1.2" height="1.2" fill="#14301a" opacity="0.79"/><rect x="1091.5" y="764.5" width="1.2" height="1.2" fill="#1c1c3a" opacity="0.50"/><rect x="1175.3" y="776.0" width="1.2" height="1.2" fill="#1c1c3a" opacity="0.80"/><rect x="1258.7" y="789.3" width="1.2" height="1.2" fill="#14301a" opacity="0.55"/><rect x="1160.9" y="782.5" width="1.2" height="1.2" fill="#14301a" opacity="0.72"/><rect x="1274.3" y="793.5" width="1.2" height="1.2" fill="#1c1c3a" opacity="0.30"/><rect x="1317.1" y="788.9" width="1.2" height="1.2" fill="#241c3a" opacity="0.77"/><rect x="1302.8" y="770.8" width="1.2" height="1.2" fill="#14301a" opacity="0.72"/><rect x="1201.7" y="762.5" width="1.2" height="1.2" fill="#241c3a" opacity="0.38"/><rect x="1158.8" y="772.8" width="1.2" height="1.2" fill="#14301a" opacity="0.70"/><rect x="1274.7" y="792.5" width="1.2" height="1.2" fill="#14301a" opacity="0.74"/><rect x="1320.8" y="791.1" width="1.2" height="1.2" fill="#241c3a" opacity="0.58"/><rect x="1269.7" y="776.9" width="1.2" height="1.2" fill="#1c1c3a" opacity="0.61"/><rect x="1205.6" y="768.4" width="1.2" height="1.2" fill="#1c1c3a" opacity="0.41"/><rect x="1244.3" y="760.9" width="1.2" height="1.2" fill="#14301a" opacity="0.65"/><rect x="1167.4" y="763.6" width="1.2" height="1.2" fill="#241c3a" opacity="0.69"/><rect x="1183.6" y="782.8" width="1.2" height="1.2" fill="#14301a" opacity="0.80"/><rect x="1142.4" y="778.8" width="1.2" height="1.2" fill="#241c3a" opacity="0.43"/><rect x="1149.4" y="782.0" width="1.2" height="1.2" fill="#1c1c3a" opacity="0.79"/><rect x="1327.7" y="774.9" width="1.2" height="1.2" fill="#14301a" opacity="0.32"/><rect x="1218.4" y="790.0" width="1.2" height="1.2" fill="#241c3a" opacity="0.60"/><rect x="1326.7" y="780.1" width="1.2" height="1.2" fill="#1c1c3a" opacity="0.37"/><rect x="1248.8" y="761.0" width="1.2" height="1.2" fill="#14301a" opacity="0.30"/><rect x="1251.8" y="793.4" width="1.2" height="1.2" fill="#1c1c3a" opacity="0.36"/><rect x="1310.8" y="768.6" width="1.2" height="1.2" fill="#14301a" opacity="0.58"/><rect x="1129.8" y="761.6" width="1.2" height="1.2" fill="#14301a" opacity="0.74"/><rect x="1309.7" y="769.6" width="1.2" height="1.2" fill="#241c3a" opacity="0.49"/><rect x="1161.1" y="782.1" width="1.2" height="1.2" fill="#1c1c3a" opacity="0.33"/><rect x="1222.0" y="771.3" width="1.2" height="1.2" fill="#241c3a" opacity="0.49"/><rect x="1206.1" y="797.7" width="1.2" height="1.2" fill="#241c3a" opacity="0.46"/><rect x="1104.8" y="766.6" width="1.2" height="1.2" fill="#1c1c3a" opacity="0.48"/><rect x="1233.0" y="795.0" width="1.2" height="1.2" fill="#14301a" opacity="0.37"/><rect x="1121.5" y="787.2" width="1.2" height="1.2" fill="#14301a" opacity="0.74"/><rect x="1286.0" y="787.2" width="1.2" height="1.2" fill="#14301a" opacity="0.62"/><rect x="1101.5" y="794.9" width="1.2" height="1.2" fill="#1c1c3a" opacity="0.47"/><rect x="1127.2" y="762.2" width="1.2" height="1.2" fill="#241c3a" opacity="0.69"/><rect x="1271.6" y="790.0" width="1.2" height="1.2" fill="#241c3a" opacity="0.47"/><rect x="1128.8" y="775.6" width="1.2" height="1.2" fill="#1c1c3a" opacity="0.52"/><rect x="1323.4" y="766.1" width="1.2" height="1.2" fill="#14301a" opacity="0.39"/><rect x="1253.1" y="796.4" width="1.2" height="1.2" fill="#241c3a" opacity="0.71"/><rect x="1108.5" y="790.4" width="1.2" height="1.2" fill="#14301a" opacity="0.63"/><rect x="1305.8" y="787.0" width="1.2" height="1.2" fill="#14301a" opacity="0.52"/><rect x="1249.9" y="780.6" width="1.2" height="1.2" fill="#1c1c3a" opacity="0.56"/><rect x="1247.8" y="779.5" width="1.2" height="1.2" fill="#14301a" opacity="0.43"/><rect x="1228.4" y="783.0" width="1.2" height="1.2" fill="#1c1c3a" opacity="0.33"/><rect x="1146.2" y="764.5" width="1.2" height="1.2" fill="#14301a" opacity="0.75"/><rect x="1322.0" y="772.1" width="1.2" height="1.2" fill="#241c3a" opacity="0.55"/><rect x="1277.6" y="770.9" width="1.2" height="1.2" fill="#241c3a" opacity="0.48"/><rect x="1326.9" y="782.6" width="1.2" height="1.2" fill="#14301a" opacity="0.69"/><rect x="1255.8" y="764.0" width="1.2" height="1.2" fill="#14301a" opacity="0.43"/><rect x="1166.1" y="766.5" width="1.2" height="1.2" fill="#14301a" opacity="0.57"/><rect x="1245.4" y="792.1" width="1.2" height="1.2" fill="#14301a" opacity="0.30"/><rect x="1197.8" y="772.5" width="1.2" height="1.2" fill="#14301a" opacity="0.59"/><rect x="1205.6" y="794.9" width="1.2" height="1.2" fill="#1c1c3a" opacity="0.47"/><rect x="1310.4" y="769.5" width="1.2" height="1.2" fill="#241c3a" opacity="0.61"/><rect x="1169.1" y="794.6" width="1.2" height="1.2" fill="#241c3a" opacity="0.68"/><rect x="1254.7" y="766.9" width="1.2" height="1.2" fill="#1c1c3a" opacity="0.47"/><rect x="1106.7" y="797.0" width="1.2" height="1.2" fill="#1c1c3a" opacity="0.48"/><rect x="1289.6" y="766.0" width="1.2" height="1.2" fill="#1c1c3a" opacity="0.71"/><rect x="1323.6" y="797.1" width="1.2" height="1.2" fill="#1c1c3a" opacity="0.78"/><rect x="1272.3" y="791.2" width="1.2" height="1.2" fill="#14301a" opacity="0.41"/><rect x="1323.3" y="789.1" width="1.2" height="1.2" fill="#14301a" opacity="0.47"/><rect x="1260.1" y="796.5" width="1.2" height="1.2" fill="#241c3a" opacity="0.64"/><rect x="1240.4" y="771.5" width="1.2" height="1.2" fill="#14301a" opacity="0.70"/><rect x="1207.5" y="798.1" width="1.2" height="1.2" fill="#1c1c3a" opacity="0.59"/><rect x="1283.3" y="792.4" width="1.2" height="1.2" fill="#1c1c3a" opacity="0.43"/><rect x="1118.8" y="782.8" width="1.2" height="1.2" fill="#14301a" opacity="0.46"/><rect x="1238.9" y="771.8" width="1.2" height="1.2" fill="#1c1c3a" opacity="0.43"/><rect x="1286.0" y="778.5" width="1.2" height="1.2" fill="#241c3a" opacity="0.36"/><rect x="1171.4" y="774.3" width="1.2" height="1.2" fill="#14301a" opacity="0.64"/><rect x="1235.3" y="782.7" width="1.2" height="1.2" fill="#241c3a" opacity="0.61"/><rect x="1172.3" y="785.6" width="1.2" height="1.2" fill="#241c3a" opacity="0.59"/><rect x="1263.1" y="794.0" width="1.2" height="1.2" fill="#14301a" opacity="0.57"/><rect x="1162.6" y="761.2" width="1.2" height="1.2" fill="#14301a" opacity="0.57"/><rect x="1296.4" y="798.6" width="1.2" height="1.2" fill="#1c1c3a" opacity="0.34"/><rect x="1291.4" y="763.8" width="1.2" height="1.2" fill="#1c1c3a" opacity="0.50"/><rect x="1243.1" y="777.5" width="1.2" height="1.2" fill="#14301a" opacity="0.62"/><rect x="1107.1" y="787.8" width="1.2" height="1.2" fill="#1c1c3a" opacity="0.67"/><rect x="1197.6" y="788.6" width="1.2" height="1.2" fill="#1c1c3a" opacity="0.53"/><rect x="1191.6" y="795.4" width="1.2" height="1.2" fill="#241c3a" opacity="0.59"/><rect x="1254.9" y="776.7" width="1.2" height="1.2" fill="#14301a" opacity="0.46"/><rect x="1227.9" y="770.6" width="1.2" height="1.2" fill="#1c1c3a" opacity="0.77"/><rect x="1153.3" y="774.8" width="1.2" height="1.2" fill="#241c3a" opacity="0.58"/><rect x="1156.6" y="761.6" width="1.2" height="1.2" fill="#241c3a" opacity="0.38"/><rect x="1099.8" y="784.7" width="1.2" height="1.2" fill="#14301a" opacity="0.61"/><rect x="1207.1" y="772.9" width="1.2" height="1.2" fill="#1c1c3a" opacity="0.64"/><rect x="1189.2" y="770.0" width="1.2" height="1.2" fill="#241c3a" opacity="0.48"/><rect x="1122.7" y="776.4" width="1.2" height="1.2" fill="#1c1c3a" opacity="0.80"/><rect x="1234.8" y="773.4" width="1.2" height="1.2" fill="#241c3a" opacity="0.64"/><rect x="1126.1" y="792.8" width="1.2" height="1.2" fill="#241c3a" opacity="0.45"/><rect x="1167.0" y="766.1" width="1.2" height="1.2" fill="#14301a" opacity="0.50"/><rect x="1265.1" y="782.5" width="1.2" height="1.2" fill="#1c1c3a" opacity="0.38"/><rect x="1141.7" y="785.1" width="1.2" height="1.2" fill="#1c1c3a" opacity="0.49"/><rect x="1278.1" y="793.1" width="1.2" height="1.2" fill="#1c1c3a" opacity="0.48"/><rect x="1267.1" y="769.0" width="1.2" height="1.2" fill="#1c1c3a" opacity="0.67"/><rect x="1225.1" y="798.4" width="1.2" height="1.2" fill="#14301a" opacity="0.66"/><rect x="1305.2" y="776.1" width="1.2" height="1.2" fill="#1c1c3a" opacity="0.73"/><rect x="1136.3" y="771.2" width="1.2" height="1.2" fill="#241c3a" opacity="0.76"/><rect x="1129.9" y="777.2" width="1.2" height="1.2" fill="#1c1c3a" opacity="0.59"/><rect x="1293.0" y="797.9" width="1.2" height="1.2" fill="#1c1c3a" opacity="0.76"/><rect x="1291.9" y="783.2" width="1.2" height="1.2" fill="#1c1c3a" opacity="0.32"/><rect x="1282.3" y="797.4" width="1.2" height="1.2" fill="#1c1c3a" opacity="0.76"/><rect x="1149.5" y="786.2" width="1.2" height="1.2" fill="#241c3a" opacity="0.59"/><rect x="1176.9" y="788.5" width="1.2" height="1.2" fill="#241c3a" opacity="0.63"/><rect x="1164.7" y="762.1" width="1.2" height="1.2" fill="#1c1c3a" opacity="0.42"/><rect x="1328.6" y="794.7" width="1.2" height="1.2" fill="#14301a" opacity="0.70"/><rect x="1259.9" y="762.2" width="1.2" height="1.2" fill="#241c3a" opacity="0.45"/><rect x="1267.5" y="798.5" width="1.2" height="1.2" fill="#241c3a" opacity="0.33"/><rect x="1258.9" y="787.9" width="1.2" height="1.2" fill="#1c1c3a" opacity="0.45"/><rect x="1303.2" y="762.4" width="1.2" height="1.2" fill="#14301a" opacity="0.79"/><rect x="1250.7" y="768.3" width="1.2" height="1.2" fill="#1c1c3a" opacity="0.57"/><rect x="1090.1" y="763.6" width="1.2" height="1.2" fill="#1c1c3a" opacity="0.64"/><rect x="1098.8" y="770.0" width="1.2" height="1.2" fill="#1c1c3a" opacity="0.79"/><rect x="1185.9" y="783.3" width="1.2" height="1.2" fill="#14301a" opacity="0.38"/><rect x="1179.0" y="766.3" width="1.2" height="1.2" fill="#241c3a" opacity="0.59"/><rect x="1318.6" y="773.9" width="1.2" height="1.2" fill="#1c1c3a" opacity="0.56"/><rect x="1243.2" y="761.9" width="1.2" height="1.2" fill="#14301a" opacity="0.59"/><rect x="1172.6" y="771.2" width="1.2" height="1.2" fill="#1c1c3a" opacity="0.72"/><rect x="1096.0" y="781.1" width="1.2" height="1.2" fill="#14301a" opacity="0.77"/><rect x="1149.9" y="775.7" width="1.2" height="1.2" fill="#1c1c3a" opacity="0.63"/><rect x="1095.3" y="761.7" width="1.2" height="1.2" fill="#1c1c3a" opacity="0.69"/><rect x="1211.5" y="776.6" width="1.2" height="1.2" fill="#14301a" opacity="0.32"/><rect x="1288.1" y="787.4" width="1.2" height="1.2" fill="#241c3a" opacity="0.78"/><rect x="1299.9" y="790.4" width="1.2" height="1.2" fill="#241c3a" opacity="0.68"/><rect x="1191.0" y="793.4" width="1.2" height="1.2" fill="#1c1c3a" opacity="0.65"/><rect x="1142.3" y="781.4" width="1.2" height="1.2" fill="#241c3a" opacity="0.32"/><rect x="1172.0" y="778.7" width="1.2" height="1.2" fill="#241c3a" opacity="0.49"/><rect x="1239.5" y="787.2" width="1.2" height="1.2" fill="#241c3a" opacity="0.71"/><rect x="1174.0" y="796.4" width="1.2" height="1.2" fill="#14301a" opacity="0.47"/><rect x="1088.4" y="790.1" width="1.2" height="1.2" fill="#14301a" opacity="0.43"/><rect x="1276.3" y="775.3" width="1.2" height="1.2" fill="#241c3a" opacity="0.42"/><rect x="1314.5" y="790.8" width="1.2" height="1.2" fill="#1c1c3a" opacity="0.53"/><rect x="1151.4" y="763.9" width="1.2" height="1.2" fill="#14301a" opacity="0.80"/><rect x="1211.2" y="760.4" width="1.2" height="1.2" fill="#241c3a" opacity="0.69"/><rect x="1250.0" y="772.0" width="1.2" height="1.2" fill="#14301a" opacity="0.57"/><rect x="1125.1" y="792.2" width="1.2" height="1.2" fill="#14301a" opacity="0.72"/><rect x="1299.2" y="764.4" width="1.2" height="1.2" fill="#1c1c3a" opacity="0.33"/><rect x="1114.2" y="763.4" width="1.2" height="1.2" fill="#1c1c3a" opacity="0.45"/><rect x="1184.0" y="795.2" width="1.2" height="1.2" fill="#241c3a" opacity="0.57"/><rect x="1228.0" y="767.6" width="1.2" height="1.2" fill="#1c1c3a" opacity="0.41"/><rect x="1287.7" y="798.2" width="1.2" height="1.2" fill="#241c3a" opacity="0.65"/><rect x="1136.6" y="789.9" width="1.2" height="1.2" fill="#1c1c3a" opacity="0.73"/><rect x="1261.1" y="786.2" width="1.2" height="1.2" fill="#14301a" opacity="0.34"/><rect x="1232.4" y="761.6" width="1.2" height="1.2" fill="#1c1c3a" opacity="0.45"/><rect x="1099.3" y="777.4" width="1.2" height="1.2" fill="#1c1c3a" opacity="0.78"/><rect x="1322.4" y="760.3" width="1.2" height="1.2" fill="#14301a" opacity="0.41"/><rect x="1150.4" y="792.4" width="1.2" height="1.2" fill="#14301a" opacity="0.61"/><rect x="1206.5" y="783.7" width="1.2" height="1.2" fill="#1c1c3a" opacity="0.34"/><rect x="1113.7" y="772.8" width="1.2" height="1.2" fill="#14301a" opacity="0.66"/><rect x="1085.8" y="794.6" width="1.2" height="1.2" fill="#241c3a" opacity="0.53"/><rect x="1234.0" y="795.0" width="1.2" height="1.2" fill="#14301a" opacity="0.31"/><rect x="1211.2" y="788.3" width="1.2" height="1.2" fill="#1c1c3a" opacity="0.41"/><rect x="1125.1" y="787.3" width="1.2" height="1.2" fill="#241c3a" opacity="0.34"/><rect x="1230.0" y="788.7" width="1.2" height="1.2" fill="#1c1c3a" opacity="0.57"/><rect x="1087.7" y="778.7" width="1.2" height="1.2" fill="#1c1c3a" opacity="0.43"/><rect x="1238.3" y="796.9" width="1.2" height="1.2" fill="#1c1c3a" opacity="0.63"/><rect x="1266.9" y="779.8" width="1.2" height="1.2" fill="#241c3a" opacity="0.79"/><rect x="1322.2" y="761.7" width="1.2" height="1.2" fill="#1c1c3a" opacity="0.73"/><rect x="1106.2" y="766.3" width="1.2" height="1.2" fill="#241c3a" opacity="0.47"/><rect x="1307.9" y="766.9" width="1.2" height="1.2" fill="#1c1c3a" opacity="0.54"/><rect x="1298.7" y="793.5" width="1.2" height="1.2" fill="#241c3a" opacity="0.67"/><rect x="1112.0" y="790.7" width="1.2" height="1.2" fill="#241c3a" opacity="0.52"/><rect x="1190.3" y="796.9" width="1.2" height="1.2" fill="#14301a" opacity="0.69"/><rect x="1279.0" y="791.2" width="1.2" height="1.2" fill="#241c3a" opacity="0.40"/><rect x="1087.2" y="787.6" width="1.2" height="1.2" fill="#14301a" opacity="0.57"/><rect x="1240.9" y="781.0" width="1.2" height="1.2" fill="#14301a" opacity="0.53"/><rect x="1316.5" y="795.9" width="1.2" height="1.2" fill="#14301a" opacity="0.33"/><rect x="1190.4" y="791.9" width="1.2" height="1.2" fill="#14301a" opacity="0.71"/><rect x="1164.7" y="770.2" width="1.2" height="1.2" fill="#1c1c3a" opacity="0.69"/><rect x="1162.0" y="766.5" width="1.2" height="1.2" fill="#241c3a" opacity="0.56"/><rect x="1160.8" y="767.3" width="1.2" height="1.2" fill="#1c1c3a" opacity="0.67"/><rect x="1249.6" y="760.0" width="1.2" height="1.2" fill="#1c1c3a" opacity="0.51"/><rect x="1097.0" y="772.8" width="1.2" height="1.2" fill="#1c1c3a" opacity="0.40"/><rect x="1268.5" y="775.1" width="1.2" height="1.2" fill="#1c1c3a" opacity="0.38"/><rect x="1246.2" y="760.8" width="1.2" height="1.2" fill="#241c3a" opacity="0.38"/><rect x="1247.8" y="793.0" width="1.2" height="1.2" fill="#1c1c3a" opacity="0.36"/><rect x="1164.1" y="774.4" width="1.2" height="1.2" fill="#241c3a" opacity="0.75"/><rect x="1128.2" y="789.3" width="1.2" height="1.2" fill="#1c1c3a" opacity="0.34"/><rect x="1230.9" y="774.2" width="1.2" height="1.2" fill="#1c1c3a" opacity="0.31"/><rect x="1309.5" y="766.9" width="1.2" height="1.2" fill="#1c1c3a" opacity="0.61"/><rect x="1092.2" y="778.8" width="1.2" height="1.2" fill="#14301a" opacity="0.48"/><rect x="1305.6" y="786.0" width="1.2" height="1.2" fill="#1c1c3a" opacity="0.50"/><rect x="1137.5" y="789.0" width="1.2" height="1.2" fill="#241c3a" opacity="0.43"/><rect x="1223.5" y="793.6" width="1.2" height="1.2" fill="#241c3a" opacity="0.53"/><rect x="1174.6" y="782.8" width="1.2" height="1.2" fill="#14301a" opacity="0.49"/><rect x="1115.0" y="767.6" width="1.2" height="1.2" fill="#14301a" opacity="0.56"/><rect x="1274.2" y="762.7" width="1.2" height="1.2" fill="#241c3a" opacity="0.74"/><rect x="1246.7" y="784.0" width="1.2" height="1.2" fill="#241c3a" opacity="0.59"/><rect x="1330.5" y="787.3" width="1.2" height="1.2" fill="#241c3a" opacity="0.63"/><rect x="1328.5" y="789.4" width="1.2" height="1.2" fill="#14301a" opacity="0.70"/><rect x="1096.2" y="788.2" width="1.2" height="1.2" fill="#1c1c3a" opacity="0.34"/><rect x="1213.8" y="776.8" width="1.2" height="1.2" fill="#1c1c3a" opacity="0.62"/><rect x="1195.5" y="798.5" width="1.2" height="1.2" fill="#1c1c3a" opacity="0.64"/><rect x="1107.2" y="773.5" width="1.2" height="1.2" fill="#14301a" opacity="0.62"/><rect x="1284.6" y="768.2" width="1.2" height="1.2" fill="#241c3a" opacity="0.65"/><rect x="1290.5" y="764.4" width="1.2" height="1.2" fill="#241c3a" opacity="0.48"/><rect x="1155.2" y="794.9" width="1.2" height="1.2" fill="#1c1c3a" opacity="0.31"/><rect x="1310.5" y="788.3" width="1.2" height="1.2" fill="#1c1c3a" opacity="0.50"/><rect x="1163.7" y="790.0" width="1.2" height="1.2" fill="#241c3a" opacity="0.74"/><rect x="1182.5" y="766.1" width="1.2" height="1.2" fill="#1c1c3a" opacity="0.69"/><rect x="1113.1" y="766.3" width="1.2" height="1.2" fill="#1c1c3a" opacity="0.57"/><rect x="1310.4" y="767.5" width="1.2" height="1.2" fill="#241c3a" opacity="0.51"/><rect x="1206.1" y="794.5" width="1.2" height="1.2" fill="#241c3a" opacity="0.72"/><rect x="1297.3" y="770.1" width="1.2" height="1.2" fill="#14301a" opacity="0.53"/><rect x="1294.2" y="766.9" width="1.2" height="1.2" fill="#14301a" opacity="0.56"/><rect x="1267.2" y="765.6" width="1.2" height="1.2" fill="#1c1c3a" opacity="0.35"/><rect x="1096.4" y="773.2" width="1.2" height="1.2" fill="#14301a" opacity="0.65"/><rect x="1134.1" y="768.7" width="1.2" height="1.2" fill="#1c1c3a" opacity="0.75"/><rect x="1302.8" y="788.7" width="1.2" height="1.2" fill="#1c1c3a" opacity="0.46"/><rect x="1281.3" y="791.0" width="1.2" height="1.2" fill="#241c3a" opacity="0.63"/><rect x="1239.6" y="788.7" width="1.2" height="1.2" fill="#14301a" opacity="0.64"/><rect x="1234.5" y="762.7" width="1.2" height="1.2" fill="#1c1c3a" opacity="0.56"/><rect x="1272.7" y="787.5" width="1.2" height="1.2" fill="#241c3a" opacity="0.76"/><rect x="1330.9" y="794.8" width="1.2" height="1.2" fill="#14301a" opacity="0.76"/><rect x="1130.0" y="763.3" width="1.2" height="1.2" fill="#14301a" opacity="0.50"/><rect x="1127.1" y="763.9" width="1.2" height="1.2" fill="#14301a" opacity="0.77"/><rect x="1310.4" y="761.3" width="1.2" height="1.2" fill="#241c3a" opacity="0.54"/><rect x="1152.1" y="764.4" width="1.2" height="1.2" fill="#1c1c3a" opacity="0.54"/><rect x="1270.0" y="759.6" width="1.2" height="1.2" fill="#14301a" opacity="0.38"/><rect x="1104.7" y="771.6" width="1.2" height="1.2" fill="#241c3a" opacity="0.36"/><rect x="1111.3" y="794.6" width="1.2" height="1.2" fill="#14301a" opacity="0.45"/><rect x="1135.2" y="768.1" width="1.2" height="1.2" fill="#241c3a" opacity="0.75"/><rect x="1102.1" y="798.3" width="1.2" height="1.2" fill="#1c1c3a" opacity="0.80"/><rect x="1187.0" y="759.9" width="1.2" height="1.2" fill="#1c1c3a" opacity="0.37"/><rect x="1314.6" y="762.1" width="1.2" height="1.2" fill="#1c1c3a" opacity="0.50"/><rect x="1141.5" y="788.5" width="1.2" height="1.2" fill="#241c3a" opacity="0.79"/><rect x="1213.7" y="760.6" width="1.2" height="1.2" fill="#14301a" opacity="0.74"/><rect x="1148.3" y="759.8" width="1.2" height="1.2" fill="#1c1c3a" opacity="0.76"/><rect x="1262.7" y="763.5" width="1.2" height="1.2" fill="#241c3a" opacity="0.72"/><rect x="1286.8" y="787.7" width="1.2" height="1.2" fill="#1c1c3a" opacity="0.31"/><rect x="1098.5" y="759.9" width="1.2" height="1.2" fill="#14301a" opacity="0.79"/><rect x="1120.5" y="795.6" width="1.2" height="1.2" fill="#241c3a" opacity="0.47"/><rect x="1144.8" y="772.3" width="1.2" height="1.2" fill="#241c3a" opacity="0.31"/><rect x="1249.2" y="777.3" width="1.2" height="1.2" fill="#14301a" opacity="0.62"/><rect x="1264.0" y="770.8" width="1.2" height="1.2" fill="#241c3a" opacity="0.40"/><rect x="1190.0" y="763.3" width="1.2" height="1.2" fill="#1c1c3a" opacity="0.37"/><rect x="1198.6" y="797.1" width="1.2" height="1.2" fill="#1c1c3a" opacity="0.50"/><rect x="1150.2" y="778.1" width="1.2" height="1.2" fill="#241c3a" opacity="0.36"/><rect x="1203.4" y="783.8" width="1.2" height="1.2" fill="#1c1c3a" opacity="0.40"/><rect x="1250.8" y="797.5" width="1.2" height="1.2" fill="#14301a" opacity="0.44"/><rect x="1215.0" y="789.0" width="1.2" height="1.2" fill="#241c3a" opacity="0.67"/><rect x="1212.5" y="796.7" width="1.2" height="1.2" fill="#241c3a" opacity="0.62"/><rect x="1281.8" y="782.4" width="1.2" height="1.2" fill="#14301a" opacity="0.32"/><rect x="1208.3" y="763.4" width="1.2" height="1.2" fill="#14301a" opacity="0.71"/><rect x="1251.5" y="778.1" width="1.2" height="1.2" fill="#241c3a" opacity="0.74"/><rect x="1127.3" y="791.7" width="1.2" height="1.2" fill="#241c3a" opacity="0.35"/><rect x="1279.1" y="763.7" width="1.2" height="1.2" fill="#14301a" opacity="0.46"/><rect x="1156.2" y="764.8" width="1.2" height="1.2" fill="#1c1c3a" opacity="0.34"/><rect x="1310.0" y="790.9" width="1.2" height="1.2" fill="#1c1c3a" opacity="0.36"/><rect x="1174.9" y="766.7" width="1.2" height="1.2" fill="#241c3a" opacity="0.45"/><rect x="1309.3" y="785.5" width="1.2" height="1.2" fill="#241c3a" opacity="0.35"/><rect x="1256.1" y="763.1" width="1.2" height="1.2" fill="#14301a" opacity="0.32"/><rect x="1187.0" y="767.5" width="1.2" height="1.2" fill="#241c3a" opacity="0.46"/><rect x="1177.4" y="786.3" width="1.2" height="1.2" fill="#241c3a" opacity="0.78"/><rect x="1305.5" y="793.8" width="1.2" height="1.2" fill="#241c3a" opacity="0.62"/><rect x="1096.1" y="773.6" width="1.2" height="1.2" fill="#1c1c3a" opacity="0.50"/><rect x="1313.1" y="762.2" width="1.2" height="1.2" fill="#241c3a" opacity="0.80"/><rect x="1234.3" y="770.4" width="1.2" height="1.2" fill="#1c1c3a" opacity="0.76"/><rect x="1201.1" y="761.2" width="1.2" height="1.2" fill="#14301a" opacity="0.61"/><rect x="1252.8" y="775.4" width="1.2" height="1.2" fill="#1c1c3a" opacity="0.61"/><rect x="1199.7" y="792.8" width="1.2" height="1.2" fill="#1c1c3a" opacity="0.41"/><rect x="1302.2" y="788.8" width="1.2" height="1.2" fill="#14301a" opacity="0.42"/><rect x="1328.6" y="767.4" width="1.2" height="1.2" fill="#241c3a" opacity="0.53"/><rect x="1264.3" y="788.6" width="1.2" height="1.2" fill="#14301a" opacity="0.71"/><rect x="1204.1" y="770.5" width="1.2" height="1.2" fill="#14301a" opacity="0.46"/><rect x="1301.1" y="779.2" width="1.2" height="1.2" fill="#1c1c3a" opacity="0.41"/><rect x="1268.3" y="763.3" width="1.2" height="1.2" fill="#241c3a" opacity="0.69"/></g>
<line x1="1240" y1="768.5" x2="1331" y2="767" stroke="#26265a" stroke-width="1.3" opacity="0.6"/>
<line x1="1086" y1="776" x2="1110" y2="776" stroke="#2a2a6a" stroke-width="1.5" opacity="0.8"/>
<g filter="url(#fl)"><line x1="1090.0" y1="776.5" x2="1113.0" y2="776.5" stroke="#c83a2a" stroke-width="2.0" opacity="0.60"/><rect x="1090.0" y="775.2" width="3.1" height="2.6" rx="1" fill="#c83a2a" opacity="0.55"/><rect x="1093.7" y="775.2" width="7.1" height="2.6" rx="1" fill="#c83a2a" opacity="0.56"/><rect x="1101.2" y="775.2" width="4.4" height="2.6" rx="1" fill="#c83a2a" opacity="0.84"/><rect x="1106.0" y="775.2" width="7.0" height="2.6" rx="1" fill="#c83a2a" opacity="0.80"/></g>
<g filter="url(#fl)"><line x1="1113.0" y1="776.5" x2="1238.8" y2="778.2" stroke="#2ec232" stroke-width="2.0" opacity="0.60"/><rect x="1113.0" y="775.2" width="3.5" height="2.6" rx="1" fill="#2ec232" opacity="0.60"/><rect x="1117.0" y="775.3" width="8.4" height="2.6" rx="1" fill="#2ec232" opacity="0.72"/><rect x="1126.5" y="775.4" width="3.6" height="2.6" rx="1" fill="#2ec232" opacity="0.73"/><rect x="1131.3" y="775.4" width="6.1" height="2.6" rx="1" fill="#2ec232" opacity="0.93"/><rect x="1138.7" y="775.5" width="5.2" height="2.6" rx="1" fill="#2ec232" opacity="0.50"/><rect x="1145.0" y="775.6" width="3.8" height="2.6" rx="1" fill="#2ec232" opacity="0.50"/><rect x="1149.9" y="775.7" width="8.1" height="2.6" rx="1" fill="#2ec232" opacity="0.88"/><rect x="1159.3" y="775.8" width="4.2" height="2.6" rx="1" fill="#2ec232" opacity="0.54"/><rect x="1163.8" y="775.9" width="8.9" height="2.6" rx="1" fill="#2ec232" opacity="0.55"/><rect x="1173.1" y="776.0" width="3.1" height="2.6" rx="1" fill="#2ec232" opacity="0.52"/><rect x="1176.4" y="776.1" width="5.1" height="2.6" rx="1" fill="#2ec232" opacity="0.57"/><rect x="1182.1" y="776.1" width="8.6" height="2.6" rx="1" fill="#2ec232" opacity="0.58"/><rect x="1191.9" y="776.3" width="7.4" height="2.6" rx="1" fill="#2ec232" opacity="0.76"/><rect x="1200.2" y="776.4" width="7.6" height="2.6" rx="1" fill="#2ec232" opacity="0.76"/><rect x="1208.3" y="776.5" width="5.0" height="2.6" rx="1" fill="#2ec232" opacity="0.61"/><rect x="1214.0" y="776.6" width="8.9" height="2.6" rx="1" fill="#2ec232" opacity="0.69"/><rect x="1223.2" y="776.7" width="5.9" height="2.6" rx="1" fill="#2ec232" opacity="0.87"/><rect x="1229.8" y="776.8" width="7.2" height="2.6" rx="1" fill="#2ec232" opacity="0.54"/><rect x="1237.3" y="776.9" width="1.5" height="2.6" rx="1" fill="#2ec232" opacity="0.52"/></g>
<g filter="url(#fl)"><line x1="1238.8" y1="779.3" x2="1322.7" y2="779.8" stroke="#e8261e" stroke-width="2.1" opacity="0.60"/><rect x="1238.8" y="777.9" width="6.4" height="2.8" rx="1" fill="#e8261e" opacity="0.78"/><rect x="1246.4" y="777.9" width="4.7" height="2.8" rx="1" fill="#e8261e" opacity="0.79"/><rect x="1252.3" y="778.0" width="8.5" height="2.8" rx="1" fill="#e8261e" opacity="0.58"/><rect x="1261.8" y="778.0" width="6.7" height="2.8" rx="1" fill="#e8261e" opacity="0.73"/><rect x="1269.8" y="778.1" width="6.2" height="2.8" rx="1" fill="#e8261e" opacity="0.70"/><rect x="1277.3" y="778.1" width="6.8" height="2.8" rx="1" fill="#e8261e" opacity="0.64"/><rect x="1284.7" y="778.2" width="6.0" height="2.8" rx="1" fill="#e8261e" opacity="0.52"/><rect x="1291.6" y="778.2" width="7.4" height="2.8" rx="1" fill="#e8261e" opacity="0.69"/><rect x="1300.3" y="778.3" width="8.6" height="2.8" rx="1" fill="#e8261e" opacity="0.75"/><rect x="1309.8" y="778.3" width="3.7" height="2.8" rx="1" fill="#e8261e" opacity="0.53"/><rect x="1314.9" y="778.4" width="4.7" height="2.8" rx="1" fill="#e8261e" opacity="0.60"/><rect x="1320.9" y="778.4" width="1.8" height="2.8" rx="1" fill="#e8261e" opacity="0.56"/></g>
<text transform="translate(1341.90,785.70) scale(1.1215,1)" font-size="19.57">20μm</text>
<rect x="1337.00" y="794.80" width="67.70" height="3.30" fill="#231f20" />
<line x1="158.00" y1="828.28" x2="158.00" y2="1164.30" stroke="#000" stroke-width="3.4" />
<line x1="156.40" y1="1162.70" x2="490.70" y2="1162.70" stroke="#000" stroke-width="3.4" />
<rect x="150.90" y="1160.20" width="9.90" height="5.00" fill="#000" />
<rect x="155.40" y="1159.90" width="5.20" height="9.90" fill="#000" />
<text transform="translate(131.19,1174.30)" font-size="32.71">0</text>
<text transform="translate(152.02,1196.00)" font-size="32.29">0</text>
<rect x="150.90" y="1049.56" width="9.90" height="5.00" fill="#000" />
<rect x="265.50" y="1159.90" width="5.20" height="9.90" fill="#000" />
<text transform="translate(113.91,1058.76)" font-size="32.86">20</text>
<text transform="translate(249.86,1196.00)" font-size="32.29">20</text>
<rect x="150.90" y="938.92" width="9.90" height="5.00" fill="#000" />
<rect x="375.60" y="1159.90" width="5.20" height="9.90" fill="#000" />
<text transform="translate(113.91,948.12)" font-size="32.86">40</text>
<text transform="translate(360.44,1196.00)" font-size="32.29">40</text>
<rect x="150.90" y="828.28" width="9.90" height="5.00" fill="#000" />
<rect x="485.70" y="1159.90" width="5.20" height="9.90" fill="#000" />
<text transform="translate(113.91,837.48)" font-size="32.86">60</text>
<text transform="translate(470.06,1196.00)" font-size="32.29">60</text>
<line x1="158.00" y1="1162.70" x2="433.25" y2="886.10" stroke="#7a7a7a" stroke-width="4.3" stroke-linecap="round" stroke-dasharray="17.2 8.6"/>
<g fill="#39b54a"><circle cx="356.0" cy="910.2" r="3.9"/><circle cx="366.7" cy="962.6" r="3.9"/><circle cx="288.1" cy="976.7" r="3.9"/><circle cx="337.8" cy="976.4" r="3.9"/><circle cx="316.3" cy="981.4" r="3.9"/><circle cx="319.7" cy="985.4" r="3.9"/><circle cx="326.4" cy="987.5" r="3.9"/><circle cx="343.2" cy="990.1" r="3.9"/><circle cx="316.3" cy="998.2" r="3.9"/><circle cx="318.3" cy="996.2" r="3.9"/><circle cx="323.0" cy="1003.6" r="3.9"/><circle cx="333.8" cy="1004.2" r="3.9"/><circle cx="255.9" cy="1010.3" r="3.9"/><circle cx="282.1" cy="1011.6" r="3.9"/><circle cx="313.6" cy="1007.6" r="3.9"/><circle cx="313.6" cy="1012.3" r="3.9"/><circle cx="302.9" cy="1011.6" r="3.9"/><circle cx="354.6" cy="1015.0" r="3.9"/><circle cx="279.4" cy="1019.4" r="3.9"/><circle cx="289.5" cy="1018.3" r="3.9"/><circle cx="294.8" cy="1020.4" r="3.9"/><circle cx="300.9" cy="1019.7" r="3.9"/><circle cx="304.9" cy="1022.4" r="3.9"/><circle cx="298.2" cy="1028.4" r="3.9"/><circle cx="306.3" cy="1026.4" r="3.9"/><circle cx="311.0" cy="1031.8" r="3.9"/><circle cx="274.7" cy="1031.1" r="3.9"/><circle cx="279.4" cy="1033.1" r="3.9"/><circle cx="283.4" cy="1035.1" r="3.9"/><circle cx="290.1" cy="1034.5" r="3.9"/><circle cx="290.8" cy="1038.5" r="3.9"/><circle cx="272.7" cy="1039.2" r="3.9"/><circle cx="266.6" cy="1041.2" r="3.9"/><circle cx="266.0" cy="1045.9" r="3.9"/><circle cx="274.0" cy="1046.6" r="3.9"/><circle cx="278.0" cy="1050.6" r="3.9"/><circle cx="296.2" cy="1045.2" r="3.9"/><circle cx="309.6" cy="1048.6" r="3.9"/><circle cx="292.8" cy="1051.9" r="3.9"/><circle cx="279.4" cy="1056.6" r="3.9"/><circle cx="260.6" cy="1053.9" r="3.9"/><circle cx="264.0" cy="1056.0" r="3.9"/><circle cx="269.3" cy="1062.0" r="3.9"/><circle cx="253.2" cy="1060.0" r="3.9"/><circle cx="257.2" cy="1069.4" r="3.9"/><circle cx="257.2" cy="1076.1" r="3.9"/><circle cx="223.0" cy="1065.4" r="3.9"/><circle cx="243.1" cy="1068.0" r="3.9"/><circle cx="247.2" cy="1073.4" r="3.9"/><circle cx="235.7" cy="1077.4" r="3.9"/><circle cx="232.4" cy="1090.9" r="3.9"/><circle cx="209.5" cy="1093.6" r="3.9"/><circle cx="216.9" cy="1097.6" r="3.9"/><circle cx="227.0" cy="1095.6" r="3.9"/><circle cx="219.0" cy="1107.0" r="3.9"/><circle cx="200.1" cy="1118.4" r="3.9"/><circle cx="193.4" cy="1123.1" r="3.9"/><circle cx="188.1" cy="1127.8" r="3.9"/><circle cx="207.5" cy="1129.2" r="3.9"/><circle cx="188.1" cy="1132.5" r="3.9"/><circle cx="270.0" cy="1042.0" r="3.9"/><circle cx="286.0" cy="1029.0" r="3.9"/><circle cx="262.0" cy="1050.0" r="3.9"/><circle cx="250.0" cy="1064.0" r="3.9"/><circle cx="285.0" cy="1046.0" r="3.9"/></g>
<text transform="translate(379.48,1152.00) scale(1.1021,1)" font-size="29.14" font-style="italic">r = 0.93</text>
<line x1="604.00" y1="828.28" x2="604.00" y2="1164.30" stroke="#000" stroke-width="3.4" />
<line x1="602.40" y1="1162.70" x2="936.70" y2="1162.70" stroke="#000" stroke-width="3.4" />
<rect x="596.90" y="1160.20" width="9.90" height="5.00" fill="#000" />
<rect x="601.40" y="1159.90" width="5.20" height="9.90" fill="#000" />
<text transform="translate(577.19,1174.30)" font-size="32.71">0</text>
<text transform="translate(598.02,1195.10)" font-size="32.29">0</text>
<rect x="596.90" y="1049.56" width="9.90" height="5.00" fill="#000" />
<rect x="711.50" y="1159.90" width="5.20" height="9.90" fill="#000" />
<text transform="translate(559.91,1058.76)" font-size="32.86">20</text>
<text transform="translate(695.86,1195.10)" font-size="32.29">20</text>
<rect x="596.90" y="938.92" width="9.90" height="5.00" fill="#000" />
<rect x="821.60" y="1159.90" width="5.20" height="9.90" fill="#000" />
<text transform="translate(559.91,948.12)" font-size="32.86">40</text>
<text transform="translate(806.44,1195.10)" font-size="32.29">40</text>
<rect x="596.90" y="828.28" width="9.90" height="5.00" fill="#000" />
<rect x="931.70" y="1159.90" width="5.20" height="9.90" fill="#000" />
<text transform="translate(559.91,837.48)" font-size="32.86">60</text>
<text transform="translate(916.06,1195.10)" font-size="32.29">60</text>
<line x1="604.00" y1="1162.70" x2="879.25" y2="886.10" stroke="#7a7a7a" stroke-width="4.3" stroke-linecap="round" stroke-dasharray="17.2 8.6"/>
<g fill="#3d5aa8"><circle cx="815.8" cy="888.3" r="3.9"/><circle cx="864.4" cy="915.0" r="3.9"/><circle cx="815.8" cy="948.2" r="3.9"/><circle cx="831.2" cy="948.2" r="3.9"/><circle cx="743.9" cy="963.0" r="3.9"/><circle cx="744.5" cy="976.8" r="3.9"/><circle cx="781.4" cy="968.5" r="3.9"/><circle cx="786.0" cy="969.1" r="3.9"/><circle cx="787.5" cy="981.4" r="3.9"/><circle cx="723.6" cy="981.4" r="3.9"/><circle cx="710.7" cy="989.7" r="3.9"/><circle cx="753.7" cy="991.3" r="3.9"/><circle cx="755.2" cy="996.2" r="3.9"/><circle cx="707.6" cy="1003.9" r="3.9"/><circle cx="726.6" cy="1001.4" r="3.9"/><circle cx="737.7" cy="997.7" r="3.9"/><circle cx="764.5" cy="1006.6" r="3.9"/><circle cx="761.4" cy="1009.1" r="3.9"/><circle cx="758.3" cy="1012.2" r="3.9"/><circle cx="813.7" cy="1005.1" r="3.9"/><circle cx="680.5" cy="1016.8" r="3.9"/><circle cx="753.7" cy="1015.3" r="3.9"/><circle cx="735.3" cy="1022.9" r="3.9"/><circle cx="739.9" cy="1020.8" r="3.9"/><circle cx="749.1" cy="1022.9" r="3.9"/><circle cx="707.6" cy="1026.9" r="3.9"/><circle cx="712.2" cy="1025.1" r="3.9"/><circle cx="716.8" cy="1026.0" r="3.9"/><circle cx="721.4" cy="1030.0" r="3.9"/><circle cx="726.0" cy="1030.0" r="3.9"/><circle cx="693.7" cy="1030.0" r="3.9"/><circle cx="744.5" cy="1027.6" r="3.9"/><circle cx="741.4" cy="1033.7" r="3.9"/><circle cx="770.6" cy="1030.0" r="3.9"/><circle cx="772.2" cy="1036.2" r="3.9"/><circle cx="787.5" cy="1033.7" r="3.9"/><circle cx="701.4" cy="1036.2" r="3.9"/><circle cx="709.1" cy="1036.2" r="3.9"/><circle cx="753.7" cy="1036.8" r="3.9"/><circle cx="732.2" cy="1040.5" r="3.9"/><circle cx="809.1" cy="1042.0" r="3.9"/><circle cx="821.4" cy="1045.4" r="3.9"/><circle cx="661.5" cy="1046.6" r="3.9"/><circle cx="703.0" cy="1045.1" r="3.9"/><circle cx="706.0" cy="1049.1" r="3.9"/><circle cx="710.7" cy="1050.6" r="3.9"/><circle cx="723.0" cy="1046.0" r="3.9"/><circle cx="735.3" cy="1049.1" r="3.9"/><circle cx="743.9" cy="1043.5" r="3.9"/><circle cx="759.2" cy="1054.3" r="3.9"/><circle cx="769.7" cy="1056.8" r="3.9"/><circle cx="795.2" cy="1056.8" r="3.9"/><circle cx="704.5" cy="1054.6" r="3.9"/><circle cx="719.9" cy="1056.8" r="3.9"/><circle cx="656.8" cy="1064.5" r="3.9"/><circle cx="669.1" cy="1068.1" r="3.9"/><circle cx="652.2" cy="1076.8" r="3.9"/><circle cx="658.4" cy="1076.8" r="3.9"/><circle cx="666.1" cy="1083.5" r="3.9"/><circle cx="678.4" cy="1076.8" r="3.9"/><circle cx="684.5" cy="1074.6" r="3.9"/><circle cx="687.6" cy="1078.3" r="3.9"/><circle cx="690.7" cy="1081.4" r="3.9"/><circle cx="679.9" cy="1086.0" r="3.9"/><circle cx="688.5" cy="1084.4" r="3.9"/><circle cx="684.5" cy="1090.6" r="3.9"/><circle cx="701.4" cy="1089.1" r="3.9"/><circle cx="710.7" cy="1085.4" r="3.9"/><circle cx="722.3" cy="1072.1" r="3.9"/><circle cx="724.5" cy="1076.1" r="3.9"/><circle cx="729.1" cy="1076.1" r="3.9"/><circle cx="732.2" cy="1077.4" r="3.9"/><circle cx="723.0" cy="1081.4" r="3.9"/><circle cx="726.0" cy="1089.1" r="3.9"/><circle cx="741.4" cy="1090.6" r="3.9"/><circle cx="768.5" cy="1082.9" r="3.9"/><circle cx="670.7" cy="1093.7" r="3.9"/><circle cx="673.8" cy="1096.7" r="3.9"/><circle cx="692.2" cy="1095.2" r="3.9"/><circle cx="694.7" cy="1098.3" r="3.9"/><circle cx="689.7" cy="1097.7" r="3.9"/><circle cx="644.5" cy="1103.5" r="3.9"/><circle cx="650.7" cy="1102.9" r="3.9"/><circle cx="652.2" cy="1109.0" r="3.9"/><circle cx="646.1" cy="1113.7" r="3.9"/><circle cx="654.4" cy="1113.7" r="3.9"/><circle cx="664.5" cy="1108.4" r="3.9"/><circle cx="675.3" cy="1110.0" r="3.9"/><circle cx="673.8" cy="1115.2" r="3.9"/><circle cx="679.9" cy="1118.3" r="3.9"/><circle cx="688.5" cy="1110.6" r="3.9"/><circle cx="726.0" cy="1110.6" r="3.9"/><circle cx="636.9" cy="1123.5" r="3.9"/><circle cx="673.8" cy="1123.5" r="3.9"/><circle cx="719.3" cy="1122.0" r="3.9"/><circle cx="645.5" cy="1128.4" r="3.9"/><circle cx="652.2" cy="1132.1" r="3.9"/><circle cx="629.2" cy="1141.3" r="3.9"/><circle cx="641.5" cy="1143.5" r="3.9"/><circle cx="700.8" cy="1137.3" r="3.9"/></g>
<text transform="translate(821.08,1152.00) scale(1.0978,1)" font-size="29.14" font-style="italic">r = 0.75</text>
<line x1="1043.20" y1="825.90" x2="1043.20" y2="1162.40" stroke="#000" stroke-width="3.4" />
<line x1="1041.60" y1="1160.80" x2="1376.50" y2="1160.80" stroke="#000" stroke-width="3.4" />
<rect x="1036.10" y="1158.30" width="9.90" height="5.00" fill="#000" />
<rect x="1040.60" y="1158.00" width="5.20" height="9.90" fill="#000" />
<text transform="translate(1017.51,1167.50)" font-size="32.86">0</text>
<text transform="translate(1037.22,1194.80)" font-size="32.29">0</text>
<rect x="1036.10" y="1047.50" width="9.90" height="5.00" fill="#000" />
<rect x="1150.90" y="1158.00" width="5.20" height="9.90" fill="#000" />
<text transform="translate(999.11,1056.70)" font-size="32.86">20</text>
<text transform="translate(1135.26,1194.80)" font-size="32.29">20</text>
<rect x="1036.10" y="936.70" width="9.90" height="5.00" fill="#000" />
<rect x="1261.20" y="1158.00" width="5.20" height="9.90" fill="#000" />
<text transform="translate(999.11,945.90)" font-size="32.86">40</text>
<text transform="translate(1246.04,1194.80)" font-size="32.29">40</text>
<rect x="1036.10" y="825.90" width="9.90" height="5.00" fill="#000" />
<rect x="1371.50" y="1158.00" width="5.20" height="9.90" fill="#000" />
<text transform="translate(999.11,835.10)" font-size="32.86">60</text>
<text transform="translate(1355.86,1194.80)" font-size="32.29">60</text>
<line x1="1043.20" y1="1160.80" x2="1318.95" y2="883.80" stroke="#7a7a7a" stroke-width="4.3" stroke-linecap="round" stroke-dasharray="17.2 8.6"/>
<g fill="#e83a2a"><circle cx="1187.6" cy="900.9" r="3.9"/><circle cx="1078.4" cy="946.1" r="3.9"/><circle cx="1105.5" cy="944.5" r="3.9"/><circle cx="1208.5" cy="946.1" r="3.9"/><circle cx="1073.8" cy="990.0" r="3.9"/><circle cx="1114.7" cy="988.2" r="3.9"/><circle cx="1156.8" cy="982.3" r="3.9"/><circle cx="1200.8" cy="981.4" r="3.9"/><circle cx="1207.6" cy="980.8" r="3.9"/><circle cx="1229.7" cy="969.7" r="3.9"/><circle cx="1236.8" cy="974.7" r="3.9"/><circle cx="1245.1" cy="979.9" r="3.9"/><circle cx="1213.1" cy="993.1" r="3.9"/><circle cx="1355.2" cy="993.7" r="3.9"/><circle cx="1155.3" cy="999.9" r="3.9"/><circle cx="1165.1" cy="1006.6" r="3.9"/><circle cx="1198.9" cy="1003.0" r="3.9"/><circle cx="1232.2" cy="1003.9" r="3.9"/><circle cx="1350.5" cy="1011.3" r="3.9"/><circle cx="1136.8" cy="1019.9" r="3.9"/><circle cx="1148.5" cy="1019.9" r="3.9"/><circle cx="1155.9" cy="1019.2" r="3.9"/><circle cx="1187.6" cy="1017.1" r="3.9"/><circle cx="1162.3" cy="1024.5" r="3.9"/><circle cx="1198.9" cy="1025.1" r="3.9"/><circle cx="1317.6" cy="1023.9" r="3.9"/><circle cx="1223.5" cy="1026.9" r="3.9"/><circle cx="1064.6" cy="1033.1" r="3.9"/><circle cx="1073.8" cy="1036.2" r="3.9"/><circle cx="1128.2" cy="1036.8" r="3.9"/><circle cx="1147.6" cy="1031.2" r="3.9"/><circle cx="1154.7" cy="1030.0" r="3.9"/><circle cx="1149.1" cy="1035.2" r="3.9"/><circle cx="1145.1" cy="1039.9" r="3.9"/><circle cx="1150.7" cy="1042.9" r="3.9"/><circle cx="1143.0" cy="1046.0" r="3.9"/><circle cx="1168.2" cy="1034.3" r="3.9"/><circle cx="1171.3" cy="1038.3" r="3.9"/><circle cx="1176.2" cy="1035.2" r="3.9"/><circle cx="1181.4" cy="1027.6" r="3.9"/><circle cx="1183.0" cy="1033.7" r="3.9"/><circle cx="1186.0" cy="1030.6" r="3.9"/><circle cx="1189.1" cy="1030.0" r="3.9"/><circle cx="1178.3" cy="1039.9" r="3.9"/><circle cx="1168.2" cy="1041.4" r="3.9"/><circle cx="1128.2" cy="1044.5" r="3.9"/><circle cx="1132.2" cy="1049.1" r="3.9"/><circle cx="1135.3" cy="1046.0" r="3.9"/><circle cx="1131.3" cy="1051.5" r="3.9"/><circle cx="1139.9" cy="1055.2" r="3.9"/><circle cx="1155.9" cy="1052.2" r="3.9"/><circle cx="1164.5" cy="1052.2" r="3.9"/><circle cx="1165.4" cy="1049.7" r="3.9"/><circle cx="1184.5" cy="1045.4" r="3.9"/><circle cx="1188.5" cy="1049.7" r="3.9"/><circle cx="1182.3" cy="1053.7" r="3.9"/><circle cx="1216.2" cy="1036.8" r="3.9"/><circle cx="1198.9" cy="1033.7" r="3.9"/><circle cx="1058.4" cy="1054.6" r="3.9"/><circle cx="1060.6" cy="1053.7" r="3.9"/><circle cx="1116.8" cy="1056.8" r="3.9"/><circle cx="1129.1" cy="1062.9" r="3.9"/><circle cx="1139.9" cy="1061.4" r="3.9"/><circle cx="1223.5" cy="1053.7" r="3.9"/><circle cx="1238.9" cy="1051.2" r="3.9"/><circle cx="1102.4" cy="1067.5" r="3.9"/><circle cx="1103.0" cy="1072.1" r="3.9"/><circle cx="1133.8" cy="1073.1" r="3.9"/><circle cx="1143.0" cy="1068.1" r="3.9"/><circle cx="1160.8" cy="1071.2" r="3.9"/><circle cx="1168.2" cy="1068.5" r="3.9"/><circle cx="1115.9" cy="1078.3" r="3.9"/><circle cx="1148.5" cy="1076.1" r="3.9"/><circle cx="1145.4" cy="1079.8" r="3.9"/><circle cx="1142.4" cy="1082.9" r="3.9"/><circle cx="1126.1" cy="1085.4" r="3.9"/><circle cx="1123.0" cy="1086.0" r="3.9"/><circle cx="1197.1" cy="1078.0" r="3.9"/><circle cx="1212.8" cy="1082.0" r="3.9"/><circle cx="1243.5" cy="1086.9" r="3.9"/><circle cx="1082.1" cy="1086.9" r="3.9"/><circle cx="1093.2" cy="1086.0" r="3.9"/><circle cx="1094.4" cy="1091.5" r="3.9"/><circle cx="1104.5" cy="1090.6" r="3.9"/><circle cx="1092.2" cy="1098.9" r="3.9"/><circle cx="1115.3" cy="1094.6" r="3.9"/><circle cx="1110.7" cy="1098.9" r="3.9"/><circle cx="1069.2" cy="1094.6" r="3.9"/><circle cx="1066.7" cy="1097.7" r="3.9"/><circle cx="1154.0" cy="1098.3" r="3.9"/><circle cx="1187.9" cy="1089.4" r="3.9"/><circle cx="1170.0" cy="1106.9" r="3.9"/><circle cx="1187.9" cy="1105.0" r="3.9"/><circle cx="1198.3" cy="1105.4" r="3.9"/><circle cx="1109.2" cy="1116.1" r="3.9"/><circle cx="1124.5" cy="1117.3" r="3.9"/><circle cx="1150.7" cy="1115.5" r="3.9"/><circle cx="1070.7" cy="1122.9" r="3.9"/><circle cx="1084.6" cy="1119.8" r="3.9"/><circle cx="1089.2" cy="1123.8" r="3.9"/><circle cx="1101.5" cy="1122.9" r="3.9"/><circle cx="1080.9" cy="1129.6" r="3.9"/><circle cx="1106.1" cy="1129.0" r="3.9"/><circle cx="1142.4" cy="1125.3" r="3.9"/><circle cx="1193.4" cy="1122.0" r="3.9"/><circle cx="1139.3" cy="1134.6" r="3.9"/><circle cx="1170.7" cy="1134.3" r="3.9"/></g>
<text transform="translate(1285.68,1152.00) scale(1.1036,1)" font-size="29.14" font-style="italic">r = 0.4</text>
<text transform="translate(100.00,1156.14) rotate(-90) scale(0.9422,1)" font-size="33.70">Right Fork Length (μm)</text>
<text transform="translate(617.46,1245.30) scale(1.0973,1)" font-size="28.90">Left Fork Length (μm)</text>
<line x1="330.60" y1="1238.20" x2="613.80" y2="1238.20" stroke="#000" stroke-width="3.0" />
<line x1="930.50" y1="1238.20" x2="1215.20" y2="1238.20" stroke="#000" stroke-width="3.0" />
<text transform="translate(25.77,1342.90) scale(1.0403,1)" font-size="34.38" font-weight="bold">d.</text>
<polyline points="220.00,1383.10 267.10,1383.10 324.70,1421.60 365.80,1421.60" fill="none" stroke="#231f20" stroke-width="2.9" stroke-linejoin="miter" stroke-linecap="butt"/>
<polyline points="219.50,1395.60 261.70,1395.60 277.50,1405.20" fill="none" stroke="#231f20" stroke-width="2.9" stroke-linejoin="miter" stroke-linecap="butt"/>
<polyline points="277.50,1405.20 304.20,1421.80" fill="none" stroke="#e8202a" stroke-width="2.9" stroke-linejoin="miter" stroke-linecap="butt"/>
<polyline points="304.20,1434.70 278.10,1450.70" fill="none" stroke="#e8202a" stroke-width="2.9" stroke-linejoin="miter" stroke-linecap="butt"/>
<polyline points="278.10,1450.70 262.10,1460.70 220.00,1460.70" fill="none" stroke="#231f20" stroke-width="2.9" stroke-linejoin="miter" stroke-linecap="butt"/>
<polyline points="220.50,1472.80 267.70,1472.80 325.30,1434.70 365.80,1434.70" fill="none" stroke="#231f20" stroke-width="2.9" stroke-linejoin="miter" stroke-linecap="butt"/>
<polyline points="537.50,1386.30 583.80,1386.30 640.00,1423.30 679.50,1423.30" fill="none" stroke="#231f20" stroke-width="2.9" stroke-linejoin="miter" stroke-linecap="butt"/>
<polyline points="538.00,1398.30 568.00,1398.30" fill="none" stroke="#e8202a" stroke-width="2.9" stroke-linejoin="miter" stroke-linecap="butt"/>
<polyline points="568.00,1398.30 577.50,1398.30 619.50,1424.50" fill="none" stroke="#231f20" stroke-width="2.9" stroke-linejoin="miter" stroke-linecap="butt"/>
<polyline points="621.30,1435.50 580.50,1460.50 570.00,1460.50" fill="none" stroke="#231f20" stroke-width="2.9" stroke-linejoin="miter" stroke-linecap="butt"/>
<polyline points="570.00,1460.50 540.00,1460.50" fill="none" stroke="#e8202a" stroke-width="2.9" stroke-linejoin="miter" stroke-linecap="butt"/>
<polyline points="539.50,1473.30 585.50,1473.30 641.30,1436.80 681.30,1436.80" fill="none" stroke="#231f20" stroke-width="2.9" stroke-linejoin="miter" stroke-linecap="butt"/>
<text transform="translate(234.01,1364.10) scale(1.0687,1)" font-size="30.27">Pulse</text>
<text transform="translate(549.68,1363.30) scale(1.0847,1)" font-size="29.86">Chase</text>
<text transform="translate(403.47,1415.20) scale(1.0816,1)" font-size="30.14">60 min</text>
<text transform="translate(371.76,1470.40) scale(1.0585,1)" font-size="30.27">Thymidine</text>
<line x1="405.90" y1="1433.30" x2="487.00" y2="1433.30" stroke="#000" stroke-width="3.0" />
<path d="M485.2,1424.2 L501.3,1433.3 L485.2,1442.7 Z" fill="#231f20"/>
<line x1="113.00" y1="1541.00" x2="113.00" y2="1929.40" stroke="#000" stroke-width="3.6" />
<line x1="111.20" y1="1928.80" x2="637.50" y2="1928.80" stroke="#000" stroke-width="3.4" />
<line x1="106.10" y1="1928.80" x2="113.50" y2="1928.80" stroke="#000" stroke-width="3.4" />
<text transform="translate(85.94,1939.70)" font-size="33.00">0</text>
<line x1="106.10" y1="1831.90" x2="113.50" y2="1831.90" stroke="#000" stroke-width="3.4" />
<text transform="translate(88.23,1842.80)" font-size="33.48">1</text>
<line x1="106.10" y1="1735.00" x2="113.50" y2="1735.00" stroke="#000" stroke-width="3.4" />
<text transform="translate(86.27,1745.90)" font-size="33.00">2</text>
<line x1="106.10" y1="1638.10" x2="113.50" y2="1638.10" stroke="#000" stroke-width="3.4" />
<text transform="translate(85.94,1649.00)" font-size="33.00">3</text>
<line x1="106.10" y1="1541.20" x2="113.50" y2="1541.20" stroke="#000" stroke-width="3.4" />
<text transform="translate(85.61,1552.10)" font-size="33.00">4</text>
<text transform="translate(23.60,1842.77) rotate(-90) scale(1.0427,1)" font-size="30.82">Log2 Abundance</text>
<text transform="translate(62.30,1819.54) rotate(-90)" font-size="32.33">(Pulse/Chase)</text>
<path d="M109.3,1881.3L113.6,1877.3L117.9,1881.3L113.6,1885.3ZM110.8,1881.0L115.1,1877.0L119.4,1881.0L115.1,1885.0ZM112.4,1880.8L116.7,1876.8L121.0,1880.8L116.7,1884.8ZM113.9,1880.6L118.2,1876.6L122.5,1880.6L118.2,1884.6ZM115.5,1880.3L119.8,1876.3L124.1,1880.3L119.8,1884.3ZM117.0,1880.1L121.3,1876.1L125.6,1880.1L121.3,1884.1ZM118.6,1879.9L122.9,1875.9L127.2,1879.9L122.9,1883.9ZM120.1,1879.6L124.4,1875.6L128.7,1879.6L124.4,1883.6ZM121.7,1879.4L126.0,1875.4L130.3,1879.4L126.0,1883.4ZM123.2,1879.2L127.5,1875.2L131.8,1879.2L127.5,1883.2ZM124.8,1878.9L129.1,1874.9L133.4,1878.9L129.1,1882.9ZM126.3,1878.7L130.6,1874.7L134.9,1878.7L130.6,1882.7ZM127.9,1878.5L132.2,1874.5L136.5,1878.5L132.2,1882.5ZM129.4,1878.2L133.8,1874.2L138.1,1878.2L133.8,1882.2ZM131.0,1878.0L135.3,1874.0L139.6,1878.0L135.3,1882.0ZM132.6,1877.8L136.9,1873.8L141.2,1877.8L136.9,1881.8ZM134.1,1877.5L138.4,1873.5L142.7,1877.5L138.4,1881.5ZM135.7,1877.3L140.0,1873.3L144.3,1877.3L140.0,1881.3ZM137.2,1877.1L141.5,1873.1L145.8,1877.1L141.5,1881.1ZM138.8,1877.0L143.1,1873.0L147.4,1877.0L143.1,1881.0ZM140.3,1876.8L144.6,1872.8L148.9,1876.8L144.6,1880.8ZM141.9,1876.7L146.2,1872.7L150.5,1876.7L146.2,1880.7ZM143.4,1876.5L147.7,1872.5L152.0,1876.5L147.7,1880.5ZM145.0,1876.4L149.3,1872.4L153.6,1876.4L149.3,1880.4ZM146.5,1876.2L150.8,1872.2L155.1,1876.2L150.8,1880.2ZM148.1,1876.1L152.4,1872.1L156.7,1876.1L152.4,1880.1ZM149.6,1875.9L153.9,1871.9L158.2,1875.9L153.9,1879.9ZM151.2,1875.7L155.5,1871.7L159.8,1875.7L155.5,1879.7ZM152.7,1875.6L157.0,1871.6L161.3,1875.6L157.0,1879.6ZM154.3,1875.4L158.6,1871.4L162.9,1875.4L158.6,1879.4ZM155.8,1875.3L160.1,1871.3L164.4,1875.3L160.1,1879.3ZM157.4,1875.1L161.7,1871.1L166.0,1875.1L161.7,1879.1ZM158.9,1875.0L163.2,1871.0L167.5,1875.0L163.2,1879.0ZM160.5,1874.8L164.8,1870.8L169.1,1874.8L164.8,1878.8ZM162.0,1874.6L166.3,1870.6L170.6,1874.6L166.3,1878.6ZM163.6,1874.5L167.9,1870.5L172.2,1874.5L167.9,1878.5ZM165.1,1874.3L169.4,1870.3L173.7,1874.3L169.4,1878.3ZM166.7,1874.2L171.0,1870.2L175.3,1874.2L171.0,1878.2ZM168.2,1874.0L172.5,1870.0L176.8,1874.0L172.5,1878.0ZM169.8,1873.9L174.1,1869.9L178.4,1873.9L174.1,1877.9ZM171.3,1873.7L175.6,1869.7L179.9,1873.7L175.6,1877.7ZM172.9,1873.5L177.2,1869.5L181.5,1873.5L177.2,1877.5ZM174.4,1873.4L178.7,1869.4L183.0,1873.4L178.7,1877.4ZM176.0,1873.2L180.3,1869.2L184.6,1873.2L180.3,1877.2ZM177.5,1873.1L181.8,1869.1L186.1,1873.1L181.8,1877.1ZM179.1,1872.9L183.4,1868.9L187.7,1872.9L183.4,1876.9ZM180.6,1872.8L184.9,1868.8L189.2,1872.8L184.9,1876.8ZM182.2,1872.6L186.5,1868.6L190.8,1872.6L186.5,1876.6ZM183.7,1872.4L188.0,1868.4L192.3,1872.4L188.0,1876.4ZM185.3,1872.1L189.6,1868.1L193.9,1872.1L189.6,1876.1ZM186.8,1871.7L191.1,1867.7L195.4,1871.7L191.1,1875.7ZM188.4,1871.4L192.7,1867.4L197.0,1871.4L192.7,1875.4ZM189.9,1871.1L194.2,1867.1L198.5,1871.1L194.2,1875.1ZM191.5,1870.7L195.8,1866.7L200.1,1870.7L195.8,1874.7ZM193.0,1870.4L197.3,1866.4L201.6,1870.4L197.3,1874.4ZM194.6,1870.1L198.9,1866.1L203.2,1870.1L198.9,1874.1ZM196.1,1869.7L200.4,1865.7L204.7,1869.7L200.4,1873.7ZM197.7,1869.4L202.0,1865.4L206.3,1869.4L202.0,1873.4ZM199.2,1869.1L203.5,1865.1L207.8,1869.1L203.5,1873.1ZM200.8,1868.8L205.1,1864.8L209.4,1868.8L205.1,1872.8ZM202.3,1868.4L206.6,1864.4L210.9,1868.4L206.6,1872.4ZM203.9,1868.1L208.2,1864.1L212.5,1868.1L208.2,1872.1ZM205.4,1867.8L209.7,1863.8L214.0,1867.8L209.7,1871.8ZM207.0,1867.7L211.3,1863.7L215.6,1867.7L211.3,1871.7ZM208.5,1867.5L212.8,1863.5L217.1,1867.5L212.8,1871.5ZM210.1,1867.4L214.4,1863.4L218.7,1867.4L214.4,1871.4ZM211.6,1867.3L215.9,1863.3L220.2,1867.3L215.9,1871.3ZM213.2,1867.1L217.5,1863.1L221.8,1867.1L217.5,1871.1ZM214.7,1867.0L219.0,1863.0L223.3,1867.0L219.0,1871.0ZM216.3,1866.9L220.6,1862.9L224.9,1866.9L220.6,1870.9ZM217.8,1866.7L222.1,1862.7L226.4,1866.7L222.1,1870.7ZM219.4,1866.6L223.7,1862.6L228.0,1866.6L223.7,1870.6ZM220.9,1866.5L225.2,1862.5L229.5,1866.5L225.2,1870.5ZM222.5,1866.1L226.8,1862.1L231.1,1866.1L226.8,1870.1ZM224.0,1865.8L228.3,1861.8L232.6,1865.8L228.3,1869.8ZM225.6,1865.5L229.9,1861.5L234.2,1865.5L229.9,1869.5ZM227.1,1865.2L231.4,1861.2L235.7,1865.2L231.4,1869.2ZM228.7,1864.9L233.0,1860.9L237.3,1864.9L233.0,1868.9ZM230.2,1864.6L234.5,1860.6L238.8,1864.6L234.5,1868.6ZM231.8,1864.2L236.1,1860.2L240.4,1864.2L236.1,1868.2ZM233.3,1863.9L237.6,1859.9L241.9,1863.9L237.6,1867.9ZM234.9,1863.6L239.2,1859.6L243.5,1863.6L239.2,1867.6ZM236.4,1863.3L240.7,1859.3L245.0,1863.3L240.7,1867.3ZM238.0,1863.0L242.3,1859.0L246.6,1863.0L242.3,1867.0ZM239.5,1862.7L243.8,1858.7L248.1,1862.7L243.8,1866.7ZM241.1,1862.3L245.4,1858.3L249.7,1862.3L245.4,1866.3ZM242.6,1862.0L246.9,1858.0L251.2,1862.0L246.9,1866.0ZM244.2,1861.7L248.5,1857.7L252.8,1861.7L248.5,1865.7ZM245.7,1861.4L250.0,1857.4L254.3,1861.4L250.0,1865.4ZM247.3,1861.1L251.6,1857.1L255.9,1861.1L251.6,1865.1ZM248.8,1860.8L253.1,1856.8L257.4,1860.8L253.1,1864.8ZM250.4,1860.4L254.7,1856.4L259.0,1860.4L254.7,1864.4ZM251.9,1860.1L256.2,1856.1L260.5,1860.1L256.2,1864.1ZM253.5,1859.8L257.8,1855.8L262.1,1859.8L257.8,1863.8ZM255.0,1859.5L259.3,1855.5L263.6,1859.5L259.3,1863.5ZM256.6,1859.2L260.9,1855.2L265.2,1859.2L260.9,1863.2ZM258.1,1858.9L262.4,1854.9L266.7,1858.9L262.4,1862.9ZM259.7,1858.5L264.0,1854.5L268.3,1858.5L264.0,1862.5ZM261.2,1858.2L265.5,1854.2L269.8,1858.2L265.5,1862.2ZM262.8,1857.9L267.1,1853.9L271.4,1857.9L267.1,1861.9ZM264.3,1857.6L268.6,1853.6L272.9,1857.6L268.6,1861.6ZM265.9,1857.3L270.2,1853.3L274.5,1857.3L270.2,1861.3ZM267.4,1857.0L271.7,1853.0L276.0,1857.0L271.7,1861.0ZM269.0,1856.7L273.3,1852.7L277.6,1856.7L273.3,1860.7ZM270.5,1856.3L274.8,1852.3L279.1,1856.3L274.8,1860.3ZM272.1,1855.9L276.4,1851.9L280.7,1855.9L276.4,1859.9ZM273.6,1855.4L277.9,1851.4L282.2,1855.4L277.9,1859.4ZM275.2,1854.9L279.5,1850.9L283.8,1854.9L279.5,1858.9ZM276.7,1854.4L281.0,1850.4L285.3,1854.4L281.0,1858.4ZM278.3,1853.9L282.6,1849.9L286.9,1853.9L282.6,1857.9ZM279.8,1853.4L284.1,1849.4L288.4,1853.4L284.1,1857.4ZM281.4,1852.9L285.7,1848.9L290.0,1852.9L285.7,1856.9ZM282.9,1852.4L287.2,1848.4L291.5,1852.4L287.2,1856.4ZM284.5,1851.9L288.8,1847.9L293.1,1851.9L288.8,1855.9ZM286.0,1851.4L290.3,1847.4L294.6,1851.4L290.3,1855.4ZM287.6,1850.9L291.9,1846.9L296.2,1850.9L291.9,1854.9ZM289.1,1850.5L293.4,1846.5L297.7,1850.5L293.4,1854.5ZM290.7,1850.0L295.0,1846.0L299.3,1850.0L295.0,1854.0ZM292.2,1849.5L296.5,1845.5L300.8,1849.5L296.5,1853.5ZM293.8,1849.0L298.1,1845.0L302.4,1849.0L298.1,1853.0ZM295.3,1848.6L299.6,1844.6L303.9,1848.6L299.6,1852.6ZM296.9,1848.2L301.2,1844.2L305.5,1848.2L301.2,1852.2ZM298.4,1847.7L302.7,1843.7L307.0,1847.7L302.7,1851.7ZM300.0,1847.3L304.3,1843.3L308.6,1847.3L304.3,1851.3ZM301.5,1846.9L305.8,1842.9L310.1,1846.9L305.8,1850.9ZM303.1,1846.4L307.4,1842.4L311.7,1846.4L307.4,1850.4ZM304.6,1846.0L308.9,1842.0L313.2,1846.0L308.9,1850.0ZM306.2,1845.6L310.5,1841.6L314.8,1845.6L310.5,1849.6ZM307.7,1845.1L312.0,1841.1L316.3,1845.1L312.0,1849.1ZM309.3,1844.5L313.6,1840.5L317.9,1844.5L313.6,1848.5ZM310.8,1843.9L315.1,1839.9L319.4,1843.9L315.1,1847.9ZM312.4,1843.2L316.7,1839.2L321.0,1843.2L316.7,1847.2ZM313.9,1842.5L318.2,1838.5L322.5,1842.5L318.2,1846.5ZM315.5,1841.8L319.8,1837.8L324.1,1841.8L319.8,1845.8ZM317.0,1841.1L321.3,1837.1L325.6,1841.1L321.3,1845.1ZM318.6,1840.4L322.9,1836.4L327.2,1840.4L322.9,1844.4ZM320.1,1839.8L324.4,1835.8L328.7,1839.8L324.4,1843.8ZM321.7,1838.5L326.0,1834.5L330.3,1838.5L326.0,1842.5ZM323.2,1836.9L327.5,1832.9L331.8,1836.9L327.5,1840.9ZM324.8,1835.3L329.1,1831.3L333.4,1835.3L329.1,1839.3ZM326.3,1833.6L330.6,1829.6L334.9,1833.6L330.6,1837.6ZM327.9,1832.7L332.2,1828.7L336.5,1832.7L332.2,1836.7ZM329.4,1832.2L333.7,1828.2L338.0,1832.2L333.7,1836.2ZM331.0,1831.7L335.3,1827.7L339.6,1831.7L335.3,1835.7ZM332.5,1831.2L336.8,1827.2L341.1,1831.2L336.8,1835.2ZM334.1,1830.7L338.4,1826.7L342.7,1830.7L338.4,1834.7ZM335.6,1830.2L339.9,1826.2L344.2,1830.2L339.9,1834.2ZM337.2,1829.7L341.5,1825.7L345.8,1829.7L341.5,1833.7ZM338.7,1829.2L343.0,1825.2L347.3,1829.2L343.0,1833.2ZM340.3,1828.8L344.6,1824.8L348.9,1828.8L344.6,1832.8ZM341.8,1828.3L346.1,1824.3L350.4,1828.3L346.1,1832.3ZM343.4,1827.8L347.7,1823.8L352.0,1827.8L347.7,1831.8ZM344.9,1827.0L349.2,1823.0L353.5,1827.0L349.2,1831.0ZM346.5,1826.0L350.8,1822.0L355.1,1826.0L350.8,1830.0ZM348.0,1825.0L352.3,1821.0L356.6,1825.0L352.3,1829.0ZM349.6,1823.9L353.9,1819.9L358.2,1823.9L353.9,1827.9ZM351.1,1822.9L355.4,1818.9L359.7,1822.9L355.4,1826.9ZM352.7,1821.9L357.0,1817.9L361.3,1821.9L357.0,1825.9ZM354.2,1820.8L358.5,1816.8L362.8,1820.8L358.5,1824.8ZM355.8,1819.8L360.1,1815.8L364.4,1819.8L360.1,1823.8ZM357.3,1818.7L361.6,1814.7L365.9,1818.7L361.6,1822.7ZM358.9,1817.6L363.2,1813.6L367.5,1817.6L363.2,1821.6ZM360.4,1816.5L364.7,1812.5L369.0,1816.5L364.7,1820.5ZM362.0,1815.5L366.3,1811.5L370.6,1815.5L366.3,1819.5ZM363.5,1814.8L367.8,1810.8L372.1,1814.8L367.8,1818.8ZM365.1,1807.8L369.4,1803.8L373.7,1807.8L369.4,1811.8ZM366.6,1806.9L370.9,1802.9L375.2,1806.9L370.9,1810.9ZM368.2,1805.9L372.5,1801.9L376.8,1805.9L372.5,1809.9ZM369.7,1805.0L374.0,1801.0L378.3,1805.0L374.0,1809.0ZM371.3,1804.0L375.6,1800.0L379.9,1804.0L375.6,1808.0ZM372.8,1803.1L377.1,1799.1L381.4,1803.1L377.1,1807.1ZM374.4,1802.2L378.7,1798.2L383.0,1802.2L378.7,1806.2ZM375.9,1801.2L380.2,1797.2L384.5,1801.2L380.2,1805.2ZM377.5,1799.6L381.8,1795.6L386.1,1799.6L381.8,1803.6ZM379.0,1797.7L383.3,1793.7L387.6,1797.7L383.3,1801.7ZM380.6,1795.9L384.9,1791.9L389.2,1795.9L384.9,1799.9ZM382.1,1794.0L386.4,1790.0L390.7,1794.0L386.4,1798.0ZM383.7,1791.9L388.0,1787.9L392.3,1791.9L388.0,1795.9ZM385.2,1789.9L389.5,1785.9L393.8,1789.9L389.5,1793.9ZM386.8,1787.8L391.1,1783.8L395.4,1787.8L391.1,1791.8ZM388.3,1778.4L392.6,1774.4L396.9,1778.4L392.6,1782.4ZM389.9,1776.8L394.2,1772.8L398.5,1776.8L394.2,1780.8ZM391.4,1775.2L395.7,1771.2L400.0,1775.2L395.7,1779.2ZM393.0,1773.7L397.3,1769.7L401.6,1773.7L397.3,1777.7ZM394.5,1772.2L398.8,1768.2L403.1,1772.2L398.8,1776.2ZM396.1,1770.6L400.4,1766.6L404.7,1770.6L400.4,1774.6ZM397.6,1769.1L401.9,1765.1L406.2,1769.1L401.9,1773.1ZM399.2,1768.1L403.5,1764.1L407.8,1768.1L403.5,1772.1ZM400.7,1767.2L405.0,1763.2L409.3,1767.2L405.0,1771.2ZM402.3,1766.2L406.6,1762.2L410.9,1766.2L406.6,1770.2ZM403.8,1765.3L408.1,1761.3L412.4,1765.3L408.1,1769.3ZM405.4,1764.4L409.7,1760.4L414.0,1764.4L409.7,1768.4ZM406.9,1763.4L411.2,1759.4L415.5,1763.4L411.2,1767.4ZM408.5,1762.5L412.8,1758.5L417.1,1762.5L412.8,1766.5ZM410.0,1761.8L414.3,1757.8L418.6,1761.8L414.3,1765.8ZM411.6,1761.1L415.9,1757.1L420.2,1761.1L415.9,1765.1ZM413.1,1760.4L417.4,1756.4L421.7,1760.4L417.4,1764.4ZM414.7,1759.7L419.0,1755.7L423.3,1759.7L419.0,1763.7ZM416.2,1759.0L420.5,1755.0L424.8,1759.0L420.5,1763.0ZM417.8,1758.4L422.1,1754.4L426.4,1758.4L422.1,1762.4ZM419.3,1757.6L423.6,1753.6L427.9,1757.6L423.6,1761.6ZM420.9,1756.8L425.2,1752.8L429.5,1756.8L425.2,1760.8ZM422.4,1756.0L426.7,1752.0L431.0,1756.0L426.7,1760.0ZM424.0,1755.3L428.3,1751.3L432.6,1755.3L428.3,1759.3ZM425.5,1754.5L429.8,1750.5L434.1,1754.5L429.8,1758.5ZM427.1,1751.2L431.4,1747.2L435.7,1751.2L431.4,1755.2ZM428.6,1747.9L432.9,1743.9L437.2,1747.9L432.9,1751.9ZM430.2,1744.4L434.5,1740.4L438.8,1744.4L434.5,1748.4ZM431.7,1740.3L436.0,1736.3L440.3,1740.3L436.0,1744.3ZM433.3,1735.9L437.6,1731.9L441.9,1735.9L437.6,1739.9ZM434.8,1730.7L439.1,1726.7L443.4,1730.7L439.1,1734.7ZM436.4,1726.6L440.7,1722.6L445.0,1726.6L440.7,1730.6ZM437.9,1723.0L442.2,1719.0L446.5,1723.0L442.2,1727.0ZM439.5,1720.0L443.8,1716.0L448.1,1720.0L443.8,1724.0ZM441.0,1717.3L445.3,1713.3L449.6,1717.3L445.3,1721.3ZM442.6,1714.6L446.9,1710.6L451.2,1714.6L446.9,1718.6ZM444.1,1713.6L448.4,1709.6L452.7,1713.6L448.4,1717.6ZM445.7,1712.8L450.0,1708.8L454.3,1712.8L450.0,1716.8ZM447.2,1712.0L451.5,1708.0L455.8,1712.0L451.5,1716.0ZM448.8,1711.2L453.1,1707.2L457.4,1711.2L453.1,1715.2ZM450.3,1710.5L454.6,1706.5L458.9,1710.5L454.6,1714.5ZM451.9,1709.7L456.2,1705.7L460.5,1709.7L456.2,1713.7ZM453.4,1708.9L457.7,1704.9L462.0,1708.9L457.7,1712.9ZM455.0,1708.1L459.3,1704.1L463.6,1708.1L459.3,1712.1ZM456.5,1707.4L460.8,1703.4L465.1,1707.4L460.8,1711.4ZM458.1,1706.6L462.4,1702.6L466.7,1706.6L462.4,1710.6ZM459.6,1705.8L463.9,1701.8L468.2,1705.8L463.9,1709.8ZM461.2,1690.6L465.5,1686.6L469.8,1690.6L465.5,1694.6ZM462.7,1690.0L467.0,1686.0L471.3,1690.0L467.0,1694.0ZM464.3,1689.3L468.6,1685.3L472.9,1689.3L468.6,1693.3ZM465.8,1688.6L470.1,1684.6L474.4,1688.6L470.1,1692.6ZM467.4,1687.9L471.7,1683.9L476.0,1687.9L471.7,1691.9ZM468.9,1687.2L473.2,1683.2L477.5,1687.2L473.2,1691.2ZM470.5,1686.5L474.8,1682.5L479.1,1686.5L474.8,1690.5ZM472.0,1684.7L476.3,1680.7L480.6,1684.7L476.3,1688.7ZM473.6,1682.9L477.9,1678.9L482.2,1682.9L477.9,1686.9ZM475.1,1681.1L479.4,1677.1L483.7,1681.1L479.4,1685.1ZM476.7,1679.3L481.0,1675.3L485.3,1679.3L481.0,1683.3ZM478.2,1677.5L482.5,1673.5L486.8,1677.5L482.5,1681.5ZM479.8,1675.7L484.1,1671.7L488.4,1675.7L484.1,1679.7ZM481.3,1673.9L485.6,1669.9L489.9,1673.9L485.6,1677.9ZM482.9,1672.1L487.2,1668.1L491.5,1672.1L487.2,1676.1ZM484.4,1670.7L488.7,1666.7L493.0,1670.7L488.7,1674.7ZM486.0,1669.4L490.3,1665.4L494.6,1669.4L490.3,1673.4ZM487.5,1668.1L491.8,1664.1L496.1,1668.1L491.8,1672.1ZM489.1,1666.7L493.4,1662.7L497.7,1666.7L493.4,1670.7ZM490.6,1665.4L494.9,1661.4L499.2,1665.4L494.9,1669.4ZM492.2,1664.1L496.5,1660.1L500.8,1664.1L496.5,1668.1ZM493.7,1662.7L498.0,1658.7L502.3,1662.7L498.0,1666.7ZM495.3,1661.4L499.6,1657.4L503.9,1661.4L499.6,1665.4ZM496.8,1660.0L501.1,1656.0L505.4,1660.0L501.1,1664.0ZM498.4,1658.7L502.7,1654.7L507.0,1658.7L502.7,1662.7ZM499.9,1657.7L504.2,1653.7L508.5,1657.7L504.2,1661.7ZM501.5,1656.7L505.8,1652.7L510.1,1656.7L505.8,1660.7ZM503.0,1655.8L507.3,1651.8L511.6,1655.8L507.3,1659.8ZM504.6,1654.8L508.9,1650.8L513.2,1654.8L508.9,1658.8ZM506.1,1653.8L510.4,1649.8L514.7,1653.8L510.4,1657.8ZM507.7,1653.0L512.0,1649.0L516.3,1653.0L512.0,1657.0ZM509.2,1652.3L513.5,1648.3L517.8,1652.3L513.5,1656.3ZM510.8,1651.6L515.1,1647.6L519.4,1651.6L515.1,1655.6ZM512.3,1650.9L516.6,1646.9L520.9,1650.9L516.6,1654.9ZM513.9,1650.2L518.2,1646.2L522.5,1650.2L518.2,1654.2ZM515.4,1649.5L519.7,1645.5L524.0,1649.5L519.7,1653.5ZM517.0,1638.2L521.3,1634.2L525.6,1638.2L521.3,1642.2ZM518.5,1636.6L522.8,1632.6L527.1,1636.6L522.8,1640.6ZM520.1,1635.4L524.4,1631.4L528.7,1635.4L524.4,1639.4ZM521.6,1634.2L525.9,1630.2L530.2,1634.2L525.9,1638.2ZM523.2,1628.9L527.5,1624.9L531.8,1628.9L527.5,1632.9ZM524.7,1585.8L529.0,1581.8L533.3,1585.8L529.0,1589.8ZM526.3,1584.6L530.6,1580.6L534.9,1584.6L530.6,1588.6ZM527.8,1583.3L532.1,1579.3L536.4,1583.3L532.1,1587.3ZM529.4,1582.1L533.7,1578.1L538.0,1582.1L533.7,1586.1ZM530.9,1580.9L535.2,1576.9L539.5,1580.9L535.2,1584.9ZM532.5,1579.6L536.8,1575.6L541.1,1579.6L536.8,1583.6ZM534.0,1570.0L538.3,1566.0L542.6,1570.0L538.3,1574.0ZM535.6,1570.0L539.9,1566.0L544.2,1570.0L539.9,1574.0ZM537.1,1570.0L541.4,1566.0L545.7,1570.0L541.4,1574.0ZM538.7,1570.0L543.0,1566.0L547.3,1570.0L543.0,1574.0ZM540.2,1570.0L544.5,1566.0L548.8,1570.0L544.5,1574.0ZM541.8,1570.0L546.1,1566.0L550.4,1570.0L546.1,1574.0ZM543.3,1570.0L547.6,1566.0L551.9,1570.0L547.6,1574.0ZM544.9,1570.0L549.2,1566.0L553.5,1570.0L549.2,1574.0ZM546.4,1570.0L550.7,1566.0L555.0,1570.0L550.7,1574.0ZM548.0,1570.0L552.3,1566.0L556.6,1570.0L552.3,1574.0ZM549.5,1570.0L553.8,1566.0L558.1,1570.0L553.8,1574.0ZM551.1,1570.0L555.4,1566.0L559.7,1570.0L555.4,1574.0ZM552.6,1570.0L556.9,1566.0L561.2,1570.0L556.9,1574.0ZM554.2,1570.0L558.5,1566.0L562.8,1570.0L558.5,1574.0ZM555.7,1570.0L560.0,1566.0L564.3,1570.0L560.0,1574.0ZM557.3,1570.0L561.6,1566.0L565.9,1570.0L561.6,1574.0ZM558.8,1570.0L563.1,1566.0L567.4,1570.0L563.1,1574.0ZM560.4,1570.0L564.7,1566.0L569.0,1570.0L564.7,1574.0ZM561.9,1570.0L566.2,1566.0L570.5,1570.0L566.2,1574.0ZM563.5,1570.0L567.8,1566.0L572.1,1570.0L567.8,1574.0ZM565.0,1570.0L569.3,1566.0L573.6,1570.0L569.3,1574.0ZM566.6,1570.0L570.9,1566.0L575.2,1570.0L570.9,1574.0ZM568.1,1570.0L572.4,1566.0L576.7,1570.0L572.4,1574.0ZM569.7,1570.0L574.0,1566.0L578.3,1570.0L574.0,1574.0ZM571.2,1570.0L575.5,1566.0L579.8,1570.0L575.5,1574.0ZM572.8,1570.0L577.1,1566.0L581.4,1570.0L577.1,1574.0ZM574.3,1570.0L578.6,1566.0L582.9,1570.0L578.6,1574.0ZM575.9,1570.0L580.2,1566.0L584.5,1570.0L580.2,1574.0ZM577.4,1570.0L581.7,1566.0L586.0,1570.0L581.7,1574.0ZM579.0,1570.0L583.3,1566.0L587.6,1570.0L583.3,1574.0ZM580.5,1570.0L584.8,1566.0L589.1,1570.0L584.8,1574.0ZM582.1,1570.0L586.4,1566.0L590.7,1570.0L586.4,1574.0ZM583.6,1570.0L587.9,1566.0L592.2,1570.0L587.9,1574.0Z" fill="#e8312f"/>
<line x1="479.00" y1="1578.90" x2="527.20" y2="1584.50" stroke="#231f20" stroke-width="2.3" />
<line x1="541.10" y1="1575.30" x2="583.90" y2="1597.80" stroke="#231f20" stroke-width="2.3" />
<line x1="401.00" y1="1695.70" x2="442.70" y2="1714.30" stroke="#231f20" stroke-width="2.3" />
<line x1="467.30" y1="1706.80" x2="513.30" y2="1713.30" stroke="#231f20" stroke-width="2.3" />
<line x1="365.70" y1="1742.80" x2="427.70" y2="1744.90" stroke="#231f20" stroke-width="2.3" />
<line x1="442.70" y1="1729.30" x2="481.20" y2="1748.60" stroke="#231f20" stroke-width="2.3" />
<line x1="233.80" y1="1833.00" x2="262.50" y2="1853.50" stroke="#231f20" stroke-width="2.3" />
<line x1="261.70" y1="1865.70" x2="290.30" y2="1886.00" stroke="#231f20" stroke-width="2.3" />
<text transform="translate(386.24,1585.30)" font-size="32.00">PCNA</text>
<text transform="translate(586.64,1612.30)" font-size="32.00">Nbs1</text>
<text transform="translate(315.94,1699.40)" font-size="32.00">Pola2</text>
<text transform="translate(514.94,1722.90)" font-size="32.00">Rad50</text>
<text transform="translate(278.44,1750.60)" font-size="32.00">Pold2</text>
<text transform="translate(483.94,1758.60)" font-size="32.00">Mre11</text>
<text transform="translate(147.04,1829.90)" font-size="32.00">MCMs</text>
<text transform="translate(291.82,1901.70)" font-size="32.00">ISG15</text>
<text transform="translate(820.53,1343.10) scale(1.0154,1)" font-size="35.00" font-weight="bold">e.</text>
<polyline points="1053.00,1388.00 1101.10,1388.00 1157.50,1426.20 1199.00,1426.20" fill="none" stroke="#231f20" stroke-width="2.9" stroke-linejoin="miter" stroke-linecap="butt"/>
<polyline points="1053.00,1400.60 1094.50,1400.60 1111.00,1410.20" fill="none" stroke="#231f20" stroke-width="2.9" stroke-linejoin="miter" stroke-linecap="butt"/>
<polyline points="1111.00,1410.20 1137.00,1426.80" fill="none" stroke="#e8202a" stroke-width="2.9" stroke-linejoin="miter" stroke-linecap="butt"/>
<polyline points="1137.00,1438.80 1111.00,1455.30" fill="none" stroke="#e8202a" stroke-width="2.9" stroke-linejoin="miter" stroke-linecap="butt"/>
<polyline points="1111.00,1455.30 1095.20,1465.30 1053.00,1465.30" fill="none" stroke="#231f20" stroke-width="2.9" stroke-linejoin="miter" stroke-linecap="butt"/>
<polyline points="1054.00,1478.20 1101.10,1478.20 1157.50,1440.00 1199.60,1440.00" fill="none" stroke="#231f20" stroke-width="2.9" stroke-linejoin="miter" stroke-linecap="butt"/>
<polyline points="1291.00,1388.00 1339.10,1388.00 1395.50,1426.20 1437.00,1426.20" fill="none" stroke="#231f20" stroke-width="2.9" stroke-linejoin="miter" stroke-linecap="butt"/>
<polyline points="1291.00,1400.60 1332.50,1400.60 1349.00,1410.20" fill="none" stroke="#231f20" stroke-width="2.9" stroke-linejoin="miter" stroke-linecap="butt"/>
<polyline points="1349.00,1410.20 1375.00,1426.80" fill="none" stroke="#e8202a" stroke-width="2.9" stroke-linejoin="miter" stroke-linecap="butt"/>
<polyline points="1375.00,1438.80 1349.00,1455.30" fill="none" stroke="#e8202a" stroke-width="2.9" stroke-linejoin="miter" stroke-linecap="butt"/>
<polyline points="1349.00,1455.30 1333.20,1465.30 1291.00,1465.30" fill="none" stroke="#231f20" stroke-width="2.9" stroke-linejoin="miter" stroke-linecap="butt"/>
<polyline points="1292.00,1478.20 1339.10,1478.20 1395.50,1440.00 1437.60,1440.00" fill="none" stroke="#231f20" stroke-width="2.9" stroke-linejoin="miter" stroke-linecap="butt"/>
<text transform="translate(1056.73,1376.40) scale(1.0132,1)" font-size="31.43">+ 4-OHT</text>
<text transform="translate(1293.72,1376.40) scale(1.0173,1)" font-size="31.43">- 4-OHT</text>
<text transform="translate(1229.38,1442.70) scale(1.1015,1)" font-size="29.44" font-style="italic">vs.</text>
<line x1="963.10" y1="1523.00" x2="963.10" y2="1936.00" stroke="#000" stroke-width="3.3" />
<line x1="955.00" y1="1524.60" x2="964.00" y2="1524.60" stroke="#000" stroke-width="2.8" />
<text transform="translate(914.57,1536.60)" font-size="32.71">10</text>
<line x1="955.00" y1="1569.46" x2="964.00" y2="1569.46" stroke="#000" stroke-width="2.8" />
<text transform="translate(934.14,1577.06)" font-size="33.00">8</text>
<line x1="955.00" y1="1614.32" x2="964.00" y2="1614.32" stroke="#000" stroke-width="2.8" />
<text transform="translate(934.14,1621.92)" font-size="33.00">6</text>
<line x1="955.00" y1="1659.18" x2="964.00" y2="1659.18" stroke="#000" stroke-width="2.8" />
<text transform="translate(933.81,1666.78)" font-size="33.00">4</text>
<line x1="955.00" y1="1704.04" x2="964.00" y2="1704.04" stroke="#000" stroke-width="2.8" />
<text transform="translate(934.47,1711.64)" font-size="33.00">2</text>
<line x1="955.00" y1="1748.90" x2="964.00" y2="1748.90" stroke="#000" stroke-width="2.8" />
<text transform="translate(934.14,1756.50)" font-size="33.00">0</text>
<line x1="955.00" y1="1793.76" x2="964.00" y2="1793.76" stroke="#000" stroke-width="2.8" />
<text transform="translate(923.58,1801.36)" font-size="33.00">-2</text>
<line x1="955.00" y1="1838.62" x2="964.00" y2="1838.62" stroke="#000" stroke-width="2.8" />
<text transform="translate(922.92,1846.22)" font-size="33.00">-4</text>
<line x1="955.00" y1="1883.48" x2="964.00" y2="1883.48" stroke="#000" stroke-width="2.8" />
<text transform="translate(923.25,1891.08)" font-size="33.00">-6</text>
<line x1="955.00" y1="1928.34" x2="964.00" y2="1928.34" stroke="#000" stroke-width="2.8" />
<text transform="translate(923.25,1935.94)" font-size="33.00">-8</text>
<text transform="translate(866.00,1841.61) rotate(-90) scale(1.0338,1)" font-size="31.51">Log2 Abundance</text>
<text transform="translate(904.60,1803.98) rotate(-90) scale(1.0149,1)" font-size="32.47">(+/- 4-OHT)</text>
<line x1="966.7" y1="1730.5" x2="1496" y2="1730.5" stroke="#808080" stroke-width="1.4" stroke-dasharray="28.3 28.8"/>
<line x1="968.1" y1="1767.4" x2="1496" y2="1767.4" stroke="#808080" stroke-width="1.4" stroke-dasharray="28.3 28.8"/>
<line x1="1219.60" y1="1708.50" x2="1151.70" y2="1787.30" stroke="#231f20" stroke-width="2.2" />
<line x1="962.00" y1="1748.90" x2="1488.40" y2="1748.90" stroke="#000" stroke-width="3.2" />
<polyline points="973.8,1720.5 978.4,1727.2 990.0,1730.2 1006.8,1733.1 1040.3,1737.3 1073.7,1740.6 1107.1,1743.1 1130.0,1745.0 1190.0,1747.6 1264.5,1750.4 1317.3,1753.6 1335.0,1755.5 1344.8,1757.6 1353.0,1761.0 1357.4,1766.0 1359.5,1772.0 1360.6,1777.0" fill="none" stroke="#ea302c" stroke-width="8.8" stroke-linecap="round" stroke-linejoin="round"/>
<polyline points="1358.5,1786.1 1362.0,1791.5 1368.0,1795.5 1382.8,1799.8 1394.0,1803.5 1398.6,1807.5 1401.8,1814.6 1408.1,1819.9 1420.0,1824.5 1424.5,1828.0 1428.2,1834.6 1428.2,1845.3 1435.6,1850.5 1443.0,1855.8" fill="none" stroke="#ea302c" stroke-width="9.0" stroke-linecap="round" stroke-linejoin="round"/>
<g fill="#ea302c"><circle cx="965.9" cy="1574.0" r="3.5"/><circle cx="966.7" cy="1599.4" r="3.5"/><circle cx="967.1" cy="1619.0" r="3.5"/><circle cx="968.0" cy="1655.4" r="3.5"/><circle cx="968.8" cy="1659.5" r="3.5"/><circle cx="969.5" cy="1663.5" r="3.5"/><circle cx="970.3" cy="1667.5" r="3.5"/><circle cx="970.9" cy="1672.5" r="3.5"/><circle cx="970.0" cy="1686.5" r="3.5"/><circle cx="970.6" cy="1690.5" r="3.5"/><circle cx="971.3" cy="1694.5" r="3.5"/><circle cx="972.0" cy="1698.5" r="3.5"/><circle cx="972.6" cy="1702.5" r="3.5"/><circle cx="973.2" cy="1707.2" r="3.5"/><circle cx="973.2" cy="1712.5" r="3.5"/><circle cx="973.4" cy="1717.2" r="3.5"/></g>
<line x1="1389.10" y1="1898.30" x2="1433.50" y2="1897.30" stroke="#231f20" stroke-width="2.2" />
<line x1="1443.0" y1="1897.0" x2="1455.7" y2="1897.0" stroke="#ea302c" stroke-width="8.4" stroke-linecap="round"/>
<line x1="975.10" y1="1654.60" x2="1013.50" y2="1630.00" stroke="#231f20" stroke-width="2.2" />
<line x1="980.10" y1="1714.70" x2="1018.50" y2="1680.50" stroke="#231f20" stroke-width="2.2" />
<line x1="981.80" y1="1718.00" x2="1030.20" y2="1699.70" stroke="#231f20" stroke-width="2.2" />
<text transform="translate(1013.49,1628.30) scale(1.0542,1)" font-size="31.71">ISG15</text>
<text transform="translate(1017.02,1676.30)" font-size="32.00">Ifi205</text>
<text transform="translate(1030.32,1706.90)" font-size="32.00">Ifi204</text>
<text transform="translate(1206.83,1703.70) scale(0.9804,1)" font-size="32.71">PCNA</text>
<text transform="translate(1135.23,1817.00) scale(1.0279,1)" font-size="31.29">MCMs</text>
<text transform="translate(1314.71,1908.60) scale(1.0264,1)" font-size="31.57">MRN</text>
<text transform="translate(1207.12,1614.60) scale(1.0494,1)" font-size="30.68">Enriched in</text>
<text transform="translate(1377.73,1614.60) scale(1.0584,1)" font-size="30.68" font-style="italic">Nbs1</text>
<text transform="translate(1450.68,1603.40) scale(1.2242,1)" font-size="16.71" font-style="italic">-/-</text>
<text transform="translate(970.82,1876.60) scale(1.0465,1)" font-size="30.82">Depleted in</text>
<text transform="translate(1143.74,1876.60) scale(1.0391,1)" font-size="30.82" font-style="italic">Nbs1</text>
<text transform="translate(1217.63,1866.50) scale(1.0289,1)" font-size="18.77" font-style="italic">-/-</text>
</g>
</svg></body></html>
